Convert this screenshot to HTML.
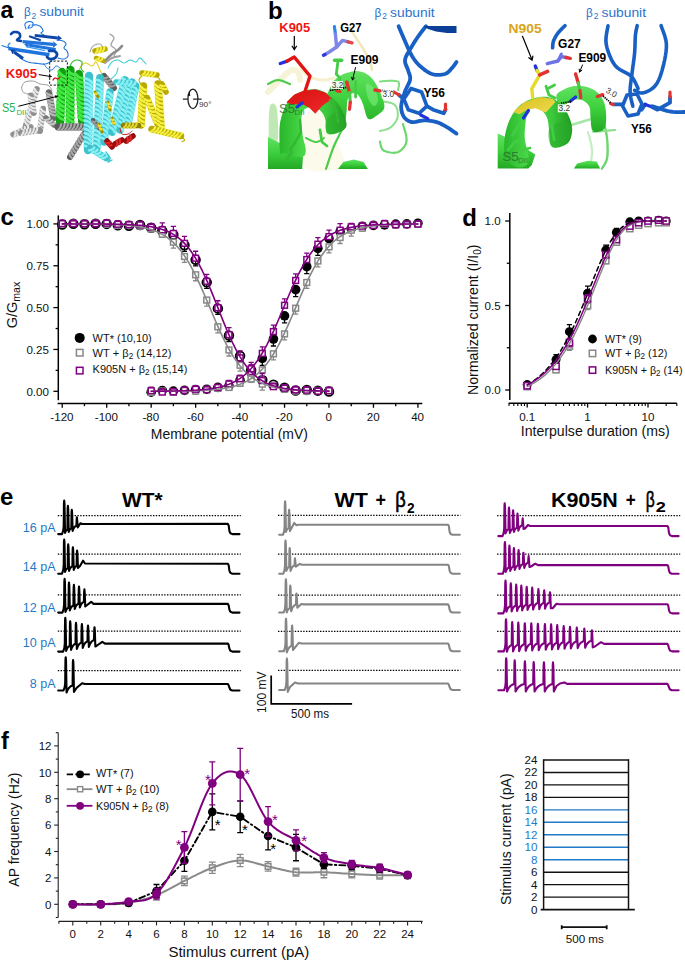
<!DOCTYPE html>
<html><head><meta charset="utf-8"><title>Figure</title><style>
html,body{margin:0;padding:0;background:#fff;}
body{width:685px;height:960px;overflow:hidden;}
svg{display:block;font-family:"Liberation Sans", sans-serif;}
</style></head><body>
<svg width="685" height="960" viewBox="0 0 685 960">
<rect width="685" height="960" fill="#fff"/>
<path d="M26 29 L25.83 28.43 L25.56 27.61 L25.25 26.66 L25 25.67 L24.89 24.75 L25 24 L25.38 23.39 L25.96 22.83 L26.69 22.34 L27.48 21.94 L28.28 21.66 L29 21.5 L29.72 21.49 L30.52 21.61 L31.31 21.84 L32.04 22.17 L32.62 22.56 L33 23 L33.16 23.56 L33.15 24.26 L33 25.03 L32.74 25.8 L32.4 26.48 L32 27 L31.44 27.39 L30.67 27.7 L29.81 27.94 L29 28.07 L28.35 28.1 L28 28 L28.01 27.7 L28.3 27.19 L28.75 26.56 L29.26 25.93 L29.71 25.37 L30 25" fill="none" stroke="#1f74de" stroke-width="1.1" stroke-linecap="round" stroke-linejoin="round" />
<path d="M32 25 L32.56 24.98 L33.33 24.93 L34.25 24.88 L35.22 24.85 L36.17 24.88 L37 25 L37.75 25.19 L38.48 25.44 L39.19 25.75 L39.85 26.11 L40.46 26.53 L41 27 L41.5 27.57 L41.96 28.26 L42.38 29 L42.7 29.74 L42.92 30.43 L43 31 L42.84 31.45 L42.44 31.81 L41.94 32.12 L41.44 32.41 L41.09 32.69 L41 33 L41.25 33.36 L41.74 33.74 L42.38 34.12 L43.04 34.48 L43.62 34.78 L44 35" fill="none" stroke="#1f74de" stroke-width="1.1" stroke-linecap="round" stroke-linejoin="round" />
<path d="M2 45.5 L2.45 45.67 L3.07 45.91 L3.81 46.19 L4.59 46.48 L5.34 46.76 L6 47 L6.59 47.21 L7.19 47.41 L7.75 47.59 L8.26 47.76 L8.69 47.9 L9 48" fill="none" stroke="#1f74de" stroke-width="1.1" stroke-linecap="round" stroke-linejoin="round" />
<path d="M20 58 L20.85 58.46 L22 59.13 L23.38 59.91 L24.89 60.7 L26.46 61.43 L28 62 L29.59 62.41 L31.3 62.72 L33.06 62.97 L34.81 63.17 L36.48 63.34 L38 63.5 L39.34 63.68 L40.56 63.87 L41.69 64.03 L42.78 64.13 L43.87 64.13 L45 64 L46.25 63.67 L47.59 63.15 L48.94 62.53 L50.19 61.91 L51.24 61.37 L52 61" fill="none" stroke="#1f74de" stroke-width="1.1" stroke-linecap="round" stroke-linejoin="round" />
<path d="M57 40 L57.69 40.09 L58.67 40.19 L59.81 40.31 L61 40.48 L62.1 40.71 L63 41 L63.73 41.37 L64.41 41.81 L65 42.31 L65.48 42.85 L65.82 43.42 L66 44 L65.9 44.62 L65.52 45.3 L65 46 L64.48 46.7 L64.1 47.38 L64 48 L64.23 48.53 L64.7 49 L65.31 49.44 L65.96 49.89 L66.56 50.4 L67 51 L67.34 51.74 L67.67 52.59 L67.94 53.5 L68.11 54.41 L68.15 55.26 L68 56 L67.65 56.66 L67.11 57.3 L66.44 57.88 L65.67 58.37 L64.84 58.75 L64 59 L63.05 59.05 L61.93 58.93 L60.75 58.69 L59.63 58.41 L58.68 58.16 L58 58" fill="none" stroke="#1f74de" stroke-width="1.1" stroke-linecap="round" stroke-linejoin="round" />
<path d="M10 43 L9.71 43.31 L9.26 43.74 L8.75 44.25 L8.3 44.81 L8.01 45.41 L8 46 L8.37 46.66 L9.04 47.41 L9.88 48.19 L10.74 48.93 L11.5 49.55 L12 50" fill="none" stroke="#1f74de" stroke-width="1.1" stroke-linecap="round" stroke-linejoin="round" />
<path d="M44 64 L44.3 64.46 L44.7 65.11 L45.19 65.88 L45.74 66.67 L46.35 67.4 L47 68 L47.73 68.52 L48.56 69.04 L49.44 69.5 L50.33 69.85 L51.2 70.04 L52 70 L52.72 69.61 L53.41 68.89 L54.06 68 L54.7 67.11 L55.34 66.39 L56 66 L56.71 66.01 L57.48 66.3 L58.25 66.75 L58.96 67.26 L59.56 67.71 L60 68" fill="none" stroke="#1f74de" stroke-width="1" stroke-linecap="round" stroke-linejoin="round" />
<line x1="34.7" y1="35.3" x2="57.83" y2="38.01" stroke="#0d47a8" stroke-width="2.8" stroke-linecap="butt"/><path d="M57.52 40.65L62 38.5L58.14 35.37Z" fill="#0d47a8"/>
<line x1="22.6" y1="41.6" x2="53.12" y2="44.41" stroke="#1f74de" stroke-width="3.4" stroke-linecap="butt"/><path d="M52.82 47.63L57.3 44.8L53.41 41.2Z" fill="#1f74de"/>
<line x1="55.7" y1="49.5" x2="28.34" y2="44.98" stroke="#1f74de" stroke-width="3.2" stroke-linecap="butt"/><path d="M28.84 41.98L24.2 44.3L27.85 47.98Z" fill="#1f74de"/>
<line x1="8.4" y1="48.5" x2="49.4" y2="54.8" stroke="#1f74de" stroke-width="3.6" stroke-linecap="butt"/>
<line x1="23.1" y1="58.5" x2="13.92" y2="51.94" stroke="#0d47a8" stroke-width="3" stroke-linecap="butt"/><path d="M15.57 49.62L10.5 49.5L12.26 54.26Z" fill="#0d47a8"/>
<line x1="26" y1="46.6" x2="45" y2="50.6" stroke="#3aa0f0" stroke-width="1.3"/>
<line x1="30" y1="36.5" x2="40" y2="40" stroke="#0d47a8" stroke-width="2.2" stroke-linecap="round"/>
<path d="M11 34 L11.3 33.75 L11.7 33.37 L12.19 32.94 L12.74 32.52 L13.35 32.18 L14 32 L14.76 31.96 L15.67 32 L16.62 32.12 L17.56 32.33 L18.38 32.62 L19 33 L19.44 33.5 L19.78 34.15 L20 34.88 L20.11 35.63 L20.11 36.36 L20 37 L19.65 37.58 L19.04 38.15 L18.31 38.69 L17.63 39.19 L17.14 39.63 L17 40 L17.31 40.29 L17.96 40.52 L18.81 40.69 L19.7 40.81 L20.48 40.91 L21 41" fill="none" stroke="#0d47a8" stroke-width="2.6" stroke-linecap="round" stroke-linejoin="round" />
<path d="M49 51 L49.57 50.97 L50.37 50.89 L51.31 50.81 L52.3 50.78 L53.22 50.83 L54 51 L54.67 51.31 L55.33 51.74 L55.94 52.25 L56.44 52.81 L56.81 53.41 L57 54 L56.99 54.64 L56.81 55.37 L56.5 56.12 L56.07 56.85 L55.56 57.5 L55 58 L54.32 58.38 L53.48 58.67 L52.56 58.88 L51.63 59 L50.75 59.04 L50 59 L49.35 58.82 L48.74 58.48 L48.19 58.06 L47.7 57.63 L47.3 57.25 L47 57" fill="none" stroke="#0d47a8" stroke-width="2.8" stroke-linecap="round" stroke-linejoin="round" />
<path d="M21.5 87.4 L21.82 86.76 L22.21 85.83 L22.71 84.75 L23.32 83.66 L24.08 82.7 L25 82 L26.18 81.56 L27.6 81.26 L29.18 81.09 L30.79 81.03 L32.33 81.07 L33.7 81.2 L34.87 81.48 L35.91 81.92 L36.89 82.47 L37.86 83.04 L38.88 83.58 L40 84 L41.28 84.26 L42.69 84.42 L44.14 84.53 L45.57 84.67 L46.88 84.9 L48 85.3 L48.94 85.94 L49.78 86.79 L50.5 87.73 L51.11 88.66 L51.61 89.45 L52 90" fill="none" stroke="#9a9a9a" stroke-width="1" stroke-linecap="round" stroke-linejoin="round" />
<path d="M21.5 87.4 L21.62 87.93 L21.76 88.69 L21.94 89.58 L22.19 90.49 L22.53 91.33 L23 92 L23.69 92.51 L24.59 92.93 L25.59 93.29 L26.57 93.58 L27.42 93.81 L28 94" fill="none" stroke="#9a9a9a" stroke-width="1" stroke-linecap="round" stroke-linejoin="round" />
<line x1="36.8" y1="89" x2="25.5" y2="127" stroke="#909090" stroke-width="5.98" stroke-linecap="round"/><path d="M34.34 88.47Q35.88 92.1 38.29 92.79M33.37 91.73Q34.91 95.35 37.32 96.05M32.4 94.99Q33.94 98.61 36.36 99.31M31.43 98.25Q32.97 101.87 35.39 102.57M30.46 101.5Q32 105.13 34.42 105.83M29.49 104.76Q31.03 108.39 33.45 109.09M28.52 108.02Q30.06 111.65 32.48 112.34M27.55 111.28Q29.1 114.91 31.51 115.6M26.58 114.54Q28.13 118.17 30.54 118.86M25.62 117.8Q27.16 121.43 29.57 122.12M24.65 121.06Q26.19 124.69 28.6 125.38" stroke="#e8e8e8" stroke-width="2.11" stroke-linecap="round" fill="none"/>
<line x1="30.7" y1="95.5" x2="33.7" y2="113" stroke="#909090" stroke-width="5.98" stroke-linecap="round"/><path d="M28.26 96.11Q31.25 98.68 33.72 98.24M28.83 99.47Q31.82 102.03 34.29 101.59M29.41 102.82Q32.39 105.39 34.87 104.94M29.98 106.17Q32.97 108.74 35.44 108.29M30.55 109.52Q33.54 112.09 36.02 111.64" stroke="#e8e8e8" stroke-width="2.11" stroke-linecap="round" fill="none"/>
<line x1="43" y1="108.8" x2="40" y2="131" stroke="#909090" stroke-width="5.98" stroke-linecap="round"/><path d="M40.48 108.65Q42.57 112 45.06 112.31M40.03 112.02Q42.11 115.37 44.6 115.68M39.57 115.39Q41.66 118.74 44.15 119.05M39.12 118.76Q41.2 122.11 43.69 122.42M38.66 122.13Q40.75 125.48 43.24 125.79M38.21 125.5Q40.29 128.85 42.78 129.16" stroke="#e8e8e8" stroke-width="2.11" stroke-linecap="round" fill="none"/>
<line x1="13.3" y1="134.4" x2="30.7" y2="127.2" stroke="#909090" stroke-width="5.98" stroke-linecap="round"/><path d="M14.44 136.65Q16.28 133.17 15.3 130.85M17.58 135.35Q19.43 131.87 18.44 129.55M20.72 134.05Q22.57 130.57 21.59 128.25M23.86 132.75Q25.71 129.27 24.73 126.95M27.01 131.45Q28.85 127.97 27.87 125.65" stroke="#e8e8e8" stroke-width="2.11" stroke-linecap="round" fill="none"/>
<line x1="21" y1="133" x2="40" y2="130" stroke="#909090" stroke-width="5.98" stroke-linecap="round"/><path d="M21.58 135.45Q24.19 132.5 23.78 130.02M24.94 134.92Q27.55 131.97 27.13 129.49M28.3 134.39Q30.91 131.44 30.49 128.96M31.66 133.86Q34.27 130.91 33.85 128.43M35.02 133.33Q37.62 130.38 37.21 127.9" stroke="#e8e8e8" stroke-width="2.11" stroke-linecap="round" fill="none"/>
<line x1="49" y1="92.5" x2="53.5" y2="118" stroke="#6a6a6a" stroke-width="6.44" stroke-linecap="round"/><path d="M46.29 93.02Q49.56 95.68 52.3 95.33M46.88 96.37Q50.15 99.03 52.89 98.67M47.47 99.72Q50.74 102.38 53.49 102.02M48.06 103.07Q51.33 105.73 54.08 105.37M48.65 106.42Q51.92 109.07 54.67 108.72M49.24 109.76Q52.52 112.42 55.26 112.07M49.83 113.11Q53.11 115.77 55.85 115.42" stroke="#b8b8b8" stroke-width="2.11" stroke-linecap="round" fill="none"/>
<line x1="46" y1="118" x2="54" y2="125" stroke="#7a7a7a" stroke-width="5.52" stroke-linecap="round"/><path d="M44.77 119.93Q48.43 120.13 49.79 118.31M47.33 122.17Q50.99 122.37 52.35 120.55M49.89 124.41Q53.55 124.6 54.91 122.79" stroke="#c8c8c8" stroke-width="2.11" stroke-linecap="round" fill="none"/>
<path d="M110 34 L110.52 34.4 L111.3 34.93 L112.19 35.56 L113.04 36.3 L113.69 37.11 L114 38 L113.81 39.02 L113.22 40.19 L112.44 41.44 L111.67 42.7 L111.12 43.91 L111 45 L111.45 45.94 L112.33 46.78 L113.44 47.56 L114.56 48.33 L115.48 49.13 L116 50 L116.05 51.01 L115.78 52.15 L115.31 53.31 L114.78 54.41 L114.3 55.34 L114 56" fill="none" stroke="#9c9c9c" stroke-width="1.2" stroke-linecap="round" stroke-linejoin="round" />
<path d="M90 52 L90.28 51.3 L90.63 50.3 L91.06 49.12 L91.59 47.93 L92.23 46.84 L93 46 L93.98 45.37 L95.19 44.81 L96.5 44.38 L97.81 44.07 L99.02 43.94 L100 44 L100.77 44.37 L101.41 45.04 L101.94 45.88 L102.37 46.74 L102.72 47.5 L103 48" fill="none" stroke="#a8a8a8" stroke-width="1.1" stroke-linecap="round" stroke-linejoin="round" />
<line x1="95" y1="51" x2="105" y2="49" stroke="#b8a800" stroke-width="5.52" stroke-linecap="round"/><path d="M95.78 53.15Q98.17 50.37 97.55 48.18M99.11 52.48Q101.5 49.7 100.89 47.52M102.45 51.82Q104.84 49.03 104.22 46.85" stroke="#f6f040" stroke-width="2.11" stroke-linecap="round" fill="none"/>
<line x1="96" y1="58" x2="104" y2="61" stroke="#b8a800" stroke-width="4.6" stroke-linecap="round"/><path d="M95.98 59.88Q99.02 59.13 99.2 57.32M99.17 61.07Q102.21 60.33 102.38 58.51" stroke="#f6f040" stroke-width="2.11" stroke-linecap="round" fill="none"/>
<path d="M106 60 L106.65 59.32 L107.56 58.37 L108.62 57.25 L109.78 56.07 L110.93 54.95 L112 54 L113.02 53.22 L114.07 52.52 L115.12 51.88 L116.15 51.26 L117.12 50.64 L118 50 L118.83 49.29 L119.63 48.52 L120.38 47.75 L121.04 47.04 L121.59 46.44 L122 46" fill="none" stroke="#8c8c8c" stroke-width="2.6" stroke-linecap="round" stroke-linejoin="round" />
<path d="M105 63 L105.75 62.42 L106.78 61.59 L108 60.62 L109.33 59.63 L110.69 58.72 L112 58 L113.37 57.47 L114.89 57.04 L116.44 56.69 L117.89 56.41 L119.12 56.18 L120 56" fill="none" stroke="#a0a0a0" stroke-width="2" stroke-linecap="round" stroke-linejoin="round" />
<path d="M77 80 L77.17 78.88 L77.37 77.3 L77.62 75.44 L77.96 73.48 L78.41 71.61 L79 70 L79.76 68.54 L80.67 67.07 L81.69 65.69 L82.78 64.48 L83.9 63.55 L85 63 L86.14 63 L87.37 63.52 L88.62 64.31 L89.85 65.15 L91 65.79 L92 66 L92.84 65.6 L93.56 64.74 L94.19 63.69 L94.78 62.7 L95.37 62.05 L96 62 L96.67 62.64 L97.33 63.78 L98 65.25 L98.67 66.89 L99.33 68.53 L100 70 L100.71 71.43 L101.48 72.96 L102.25 74.5 L102.96 75.93 L103.56 77.13 L104 78" fill="none" stroke="#e0d030" stroke-width="1.1" stroke-linecap="round" stroke-linejoin="round" />
<path d="M108 68 L108.41 67.3 L108.96 66.3 L109.62 65.12 L110.37 63.93 L111.17 62.84 L112 62 L112.88 61.38 L113.85 60.85 L114.88 60.44 L115.93 60.15 L116.98 60 L118 60 L119 60.28 L120 60.85 L121 61.56 L122 62.26 L123 62.79 L124 63 L125 62.79 L126 62.26 L127 61.56 L128 60.85 L129 60.28 L130 60 L131.02 60.11 L132.07 60.52 L133.12 61.06 L134.15 61.59 L135.12 61.96 L136 62 L136.76 61.56 L137.41 60.74 L138 59.75 L138.59 58.81 L139.24 58.16 L140 58 L140.95 58.49 L142.07 59.48 L143.25 60.75 L144.37 62.07 L145.32 63.23 L146 64" fill="none" stroke="#48d0d8" stroke-width="1.1" stroke-linecap="round" stroke-linejoin="round" />
<path d="M118 68 L117.83 68.65 L117.63 69.56 L117.38 70.62 L117.04 71.78 L116.59 72.93 L116 74 L115.16 75.07 L114.07 76.22 L112.88 77.38 L111.7 78.44 L110.7 79.35 L110 80" fill="none" stroke="#48d0d8" stroke-width="1.1" stroke-linecap="round" stroke-linejoin="round" />
<path d="M70 72 L70.06 71.08 L70.11 69.78 L70.19 68.25 L70.33 66.67 L70.59 65.19 L71 64 L71.59 63.03 L72.33 62.15 L73.19 61.38 L74.11 60.74 L75.06 60.27 L76 60 L77.02 59.94 L78.19 60.07 L79.38 60.38 L80.48 60.81 L81.39 61.37 L82 62 L82.19 62.79 L82.04 63.78 L81.69 64.88 L81.3 66 L81.02 67.07 L81 68 L81.3 68.83 L81.81 69.63 L82.44 70.38 L83.07 71.04 L83.63 71.59 L84 72" fill="none" stroke="#30c030" stroke-width="1.1" stroke-linecap="round" stroke-linejoin="round" />
<line x1="62" y1="72" x2="60" y2="122" stroke="#12a012" stroke-width="8.28" stroke-linecap="round"/><path d="M58.45 71.51Q61.84 76.08 65.38 76.79M58.28 75.81Q61.66 80.38 65.21 81.08M58.11 80.1Q61.49 84.67 65.03 85.38M57.93 84.4Q61.32 88.97 64.86 89.68M57.76 88.7Q61.15 93.27 64.69 93.97M57.59 92.99Q60.98 97.56 64.52 98.27M57.42 97.29Q60.81 101.86 64.35 102.57M57.25 101.59Q60.63 106.16 64.18 106.86M57.07 105.88Q60.46 110.45 64 111.16M56.9 110.18Q60.29 114.75 63.83 115.45M56.73 114.48Q60.12 119.05 63.66 119.75" stroke="#44ea44" stroke-width="2.67" stroke-linecap="round" fill="none"/>
<line x1="70.5" y1="70" x2="70" y2="125" stroke="#12a012" stroke-width="8.28" stroke-linecap="round"/><path d="M66.94 69.62Q70.46 74.08 74.02 74.68M66.9 73.92Q70.42 78.38 73.99 78.98M66.86 78.22Q70.38 82.68 73.95 83.28M66.82 82.52Q70.35 86.98 73.91 87.58M66.78 86.82Q70.31 91.28 73.87 91.88M66.74 91.12Q70.27 95.58 73.83 96.18M66.7 95.42Q70.23 99.88 73.79 100.48M66.66 99.72Q70.19 104.18 73.75 104.78M66.62 104.02Q70.15 108.48 73.71 109.08M66.58 108.32Q70.11 112.78 73.67 113.38M66.55 112.62Q70.07 117.08 73.63 117.68M66.51 116.92Q70.03 121.38 73.59 121.98M66.47 121.22Q69.99 125.68 73.56 126.28" stroke="#44ea44" stroke-width="2.67" stroke-linecap="round" fill="none"/>
<line x1="79" y1="74" x2="82" y2="122" stroke="#12a012" stroke-width="7.82" stroke-linecap="round"/><path d="M75.68 74.04Q79.25 78.08 82.59 78.26M75.95 78.33Q79.52 82.37 82.86 82.55M76.22 82.62Q79.79 86.66 83.13 86.84M76.48 86.91Q80.06 90.95 83.39 91.13M76.75 91.2Q80.33 95.24 83.66 95.42M77.02 95.49Q80.6 99.54 83.93 99.71M77.29 99.79Q80.86 103.83 84.2 104.01M77.56 104.08Q81.13 108.12 84.47 108.3M77.82 108.37Q81.4 112.41 84.74 112.59M78.09 112.66Q81.67 116.7 85 116.88M78.36 116.95Q81.94 120.99 85.27 121.17" stroke="#44ea44" stroke-width="2.67" stroke-linecap="round" fill="none"/>
<line x1="58" y1="127" x2="85" y2="127" stroke="#5a5a5a" stroke-width="6.9" stroke-linecap="round"/><path d="M58.19 130.01Q61.23 127 61.21 123.99M61.59 130.01Q64.63 127 64.61 123.99M64.99 130.01Q68.03 127 68.01 123.99M68.39 130.01Q71.43 127 71.41 123.99M71.79 130.01Q74.83 127 74.81 123.99M75.19 130.01Q78.23 127 78.21 123.99M78.59 130.01Q81.63 127 81.61 123.99M81.99 130.01Q85.03 127 85.01 123.99" stroke="#a8a8a8" stroke-width="2.11" stroke-linecap="round" fill="none"/>
<line x1="84" y1="134" x2="70" y2="157" stroke="#5a5a5a" stroke-width="5.98" stroke-linecap="round"/><path d="M81.62 133.07Q82.32 136.76 84.61 137.83M79.86 135.98Q80.55 139.66 82.84 140.74M78.09 138.88Q78.78 142.57 81.07 143.64M76.32 141.79Q77.02 145.47 79.31 146.54M74.55 144.69Q75.25 148.38 77.54 149.45M72.78 147.59Q73.48 151.28 75.77 152.35M71.02 150.5Q71.71 154.18 74 155.26M69.25 153.4Q69.95 157.09 72.23 158.16" stroke="#a8a8a8" stroke-width="2.11" stroke-linecap="round" fill="none"/>
<line x1="104" y1="76" x2="114" y2="88" stroke="#5c5c5c" stroke-width="5.98" stroke-linecap="round"/><path d="M102.31 77.83Q106.19 78.63 108 76.94M104.61 80.59Q108.49 81.39 110.3 79.71M106.92 83.36Q110.8 84.16 112.61 82.47M109.22 86.12Q113.1 86.92 114.91 85.24" stroke="#a0a0a0" stroke-width="2.23" stroke-linecap="round" fill="none"/>
<line x1="88" y1="150" x2="89" y2="76" stroke="#3cc2cc" stroke-width="8.28" stroke-linecap="round"/><path d="M91.59 150.1Q88.05 146.01 84.47 145.7M91.64 145.9Q88.11 141.81 84.53 141.5M91.7 141.7Q88.17 137.61 84.58 137.3M91.76 137.5Q88.22 133.41 84.64 133.1M91.81 133.3Q88.28 129.21 84.7 128.9M91.87 129.1Q88.34 125.01 84.75 124.7M91.93 124.9Q88.39 120.81 84.81 120.5M91.98 120.7Q88.45 116.61 84.87 116.3M92.04 116.5Q88.51 112.41 84.92 112.1M92.1 112.31Q88.56 108.21 84.98 107.9M92.16 108.11Q88.62 104.01 85.04 103.7M92.21 103.91Q88.68 99.81 85.09 99.5M92.27 99.71Q88.73 95.61 85.15 95.3M92.33 95.51Q88.79 91.42 85.21 91.1M92.38 91.31Q88.85 87.22 85.26 86.9M92.44 87.11Q88.91 83.02 85.32 82.7M92.5 82.91Q88.96 78.82 85.38 78.5" stroke="#86f0f4" stroke-width="2.6" stroke-linecap="round" fill="none"/>
<line x1="97" y1="147" x2="100" y2="78" stroke="#3cc2cc" stroke-width="7.82" stroke-linecap="round"/><path d="M100.34 147.05Q97.17 143.01 93.84 142.76M100.52 142.85Q97.36 138.82 94.03 138.56M100.7 138.66Q97.54 134.62 94.21 134.36M100.89 134.46Q97.72 130.43 94.39 130.17M101.07 130.26Q97.9 126.23 94.57 125.97M101.25 126.07Q98.09 122.03 94.75 121.78M101.43 121.87Q98.27 117.84 94.94 117.58M101.62 117.68Q98.45 113.64 95.12 113.38M101.8 113.48Q98.63 109.45 95.3 109.19M101.98 109.28Q98.82 105.25 95.48 104.99M102.16 105.09Q99 101.05 95.67 100.8M102.35 100.89Q99.18 96.86 95.85 96.6M102.53 96.7Q99.36 92.66 96.03 92.4M102.71 92.5Q99.54 88.47 96.21 88.21M102.89 88.3Q99.73 84.27 96.4 84.01M103.08 84.11Q99.91 80.07 96.58 79.82" stroke="#86f0f4" stroke-width="2.6" stroke-linecap="round" fill="none"/>
<line x1="93" y1="120" x2="99" y2="128" stroke="#5a5a5a" stroke-width="4.14" stroke-linecap="round"/><path d="M92.27 121.54Q94.94 122.58 95.77 121.18M94.31 124.26Q96.98 125.3 97.81 123.9M96.35 126.98Q99.02 128.02 99.85 126.62" stroke="#9c9c9c" stroke-width="2.11" stroke-linecap="round" fill="none"/>
<line x1="104" y1="142" x2="110" y2="92" stroke="#3cc2cc" stroke-width="7.36" stroke-linecap="round"/><path d="M107.1 142.12Q104.48 138.04 101.4 137.71M107.6 137.95Q104.98 133.87 101.9 133.54M108.1 133.78Q105.48 129.7 102.41 129.37M108.6 129.61Q105.98 125.53 102.91 125.2M109.1 125.44Q106.48 121.36 103.41 121.03M109.6 121.27Q106.98 117.19 103.91 116.86M110.1 117.1Q107.48 113.02 104.41 112.69M110.6 112.93Q107.98 108.85 104.91 108.52M111.1 108.76Q108.48 104.68 105.41 104.35M111.6 104.59Q108.98 100.51 105.91 100.18M112.1 100.42Q109.48 96.34 106.41 96.01M112.6 96.25Q109.98 92.17 106.91 91.84" stroke="#86f0f4" stroke-width="2.6" stroke-linecap="round" fill="none"/>
<line x1="112" y1="132" x2="125" y2="80" stroke="#3cc2cc" stroke-width="7.82" stroke-linecap="round"/><path d="M115.26 132.72Q112.97 128.13 109.76 127.21M116.28 128.64Q113.99 124.05 110.77 123.14M117.3 124.57Q115.01 119.98 111.79 119.06M118.32 120.49Q116.02 115.91 112.81 114.99M119.34 116.42Q117.04 111.83 113.83 110.91M120.36 112.34Q118.06 107.76 114.85 106.84M121.37 108.27Q119.08 103.68 115.87 102.76M122.39 104.19Q120.1 99.61 116.89 98.69M123.41 100.12Q121.12 95.53 117.91 94.61M124.43 96.04Q122.14 91.46 118.92 90.54M125.45 91.97Q123.15 87.38 119.94 86.46M126.47 87.9Q124.17 83.31 120.96 82.39M127.49 83.82Q125.19 79.23 121.98 78.31" stroke="#86f0f4" stroke-width="2.6" stroke-linecap="round" fill="none"/>
<line x1="120" y1="130" x2="132" y2="82" stroke="#3cc2cc" stroke-width="7.36" stroke-linecap="round"/><path d="M123.06 130.51Q120.97 126.13 117.96 125.42M124.07 126.44Q121.99 122.05 118.98 121.34M125.09 122.36Q123.01 117.98 120 117.27M126.11 118.29Q124.02 113.91 121.02 113.19M127.13 114.21Q125.04 109.83 122.04 109.12M128.15 110.14Q126.06 105.76 123.06 105.04M129.17 106.06Q127.08 101.68 124.07 100.97M130.19 101.99Q128.1 97.61 125.09 96.89M131.21 97.91Q129.12 93.53 126.11 92.82M132.22 93.84Q130.14 89.46 127.13 88.74M133.24 89.76Q131.15 85.38 128.15 84.67M134.26 85.69Q132.17 81.31 129.17 80.6" stroke="#86f0f4" stroke-width="2.6" stroke-linecap="round" fill="none"/>
<line x1="128" y1="124" x2="136" y2="86" stroke="#3cc2cc" stroke-width="6.9" stroke-linecap="round"/><path d="M130.86 124.2Q128.82 120.1 126.01 119.69M131.72 120.09Q129.69 115.99 126.87 115.58M132.59 115.98Q130.55 111.88 127.74 111.47M133.46 111.87Q131.42 107.77 128.6 107.36M134.32 107.76Q132.28 103.66 129.47 103.25M135.19 103.65Q133.15 99.55 130.33 99.14M136.05 99.54Q134.01 95.44 131.2 95.03M136.92 95.43Q134.88 91.33 132.06 90.92M137.78 91.32Q135.74 87.22 132.93 86.81" stroke="#86f0f4" stroke-width="2.6" stroke-linecap="round" fill="none"/>
<line x1="116" y1="82" x2="135" y2="84" stroke="#3cc2cc" stroke-width="5.52" stroke-linecap="round"/><path d="M116.49 84.2Q119.78 82.4 119.48 80.22M120.47 84.61Q123.76 82.82 123.46 80.64M124.45 85.03Q127.74 83.24 127.44 81.06M128.43 85.45Q131.71 83.65 131.42 81.48M132.41 85.87Q135.69 84.07 135.4 81.9" stroke="#86f0f4" stroke-width="2.48" stroke-linecap="round" fill="none"/>
<line x1="95" y1="92" x2="98" y2="97" stroke="#a09000" stroke-width="2.76" stroke-linecap="round"/><path d="M94.99 93.46Q96.66 94.77 96.76 93.46" stroke="#f0e030" stroke-width="2.11" stroke-linecap="round" fill="none"/>
<line x1="108" y1="102" x2="110" y2="110" stroke="#a09000" stroke-width="2.94" stroke-linecap="round"/><path d="M107.45 103.36Q108.78 105.13 109.37 103.94M108.28 106.65Q109.61 108.43 110.2 107.24" stroke="#f0e030" stroke-width="2.11" stroke-linecap="round" fill="none"/>
<line x1="99" y1="124" x2="102" y2="132" stroke="#a09000" stroke-width="2.94" stroke-linecap="round"/><path d="M98.61 125.41Q100.13 127.02 100.59 125.77M99.8 128.59Q101.33 130.21 101.78 128.96" stroke="#f0e030" stroke-width="2.11" stroke-linecap="round" fill="none"/>
<line x1="112" y1="118" x2="114" y2="124" stroke="#a09000" stroke-width="2.76" stroke-linecap="round"/><path d="M111.67 119.42Q113.02 121.06 113.41 119.81M112.75 122.65Q114.1 124.29 114.48 123.03" stroke="#f0e030" stroke-width="2.11" stroke-linecap="round" fill="none"/>
<line x1="90" y1="148" x2="106" y2="158" stroke="#3cc2cc" stroke-width="6.44" stroke-linecap="round"/><path d="M88.83 150.42Q93.06 149.91 94.39 147.59M92.05 152.44Q96.28 151.93 97.61 149.6M95.28 154.45Q99.51 153.94 100.84 151.62M98.5 156.47Q102.73 155.96 104.06 153.63M101.72 158.48Q105.95 157.97 107.28 155.65" stroke="#86f0f4" stroke-width="2.36" stroke-linecap="round" fill="none"/>
<path d="M106 152 L106.5 152.68 L107.26 153.63 L108.12 154.75 L108.96 155.93 L109.63 157.05 L110 158 L109.94 158.85 L109.56 159.7 L109 160.5 L108.44 161.19 L108.06 161.7 L108 162 L108.37 161.99 L109.04 161.7 L109.88 161.25 L110.74 160.74 L111.5 160.29 L112 160" fill="none" stroke="#40c8d0" stroke-width="1.4" stroke-linecap="round" stroke-linejoin="round" />
<line x1="107" y1="141" x2="112" y2="147" stroke="#960c0c" stroke-width="5.52" stroke-linecap="round"/><path d="M105.48 142.71Q109.07 143.48 110.7 141.9M107.66 145.32Q111.24 146.09 112.87 144.51" stroke="#e02828" stroke-width="2.11" stroke-linecap="round" fill="none"/>
<line x1="115" y1="144" x2="122" y2="140" stroke="#960c0c" stroke-width="5.52" stroke-linecap="round"/><path d="M116.42 145.79Q117.8 142.4 116.53 140.52M119.37 144.11Q120.76 140.71 119.48 138.83" stroke="#e02828" stroke-width="2.11" stroke-linecap="round" fill="none"/>
<line x1="126" y1="141" x2="133" y2="136" stroke="#960c0c" stroke-width="5.52" stroke-linecap="round"/><path d="M127.59 142.64Q128.63 139.12 127.17 137.38M130.36 140.67Q131.4 137.15 129.94 135.41" stroke="#e02828" stroke-width="2.11" stroke-linecap="round" fill="none"/>
<path d="M120 128 L120.17 128.72 L120.37 129.78 L120.62 131 L120.96 132.22 L121.41 133.28 L122 134 L122.79 134.38 L123.78 134.56 L124.88 134.56 L126 134.44 L127.07 134.24 L128 134 L128.83 133.64 L129.63 133.11 L130.38 132.5 L131.04 131.89 L131.59 131.36 L132 131" fill="none" stroke="#c82020" stroke-width="1" stroke-linecap="round" stroke-linejoin="round" />
<line x1="142" y1="73" x2="157" y2="75" stroke="#b8a800" stroke-width="5.52" stroke-linecap="round"/><path d="M142.04 75.29Q145.2 73.43 145.33 71.16M145.41 75.74Q148.57 73.88 148.7 71.61M148.78 76.19Q151.94 74.33 152.07 72.06M152.15 76.64Q155.31 74.77 155.44 72.51" stroke="#f6f040" stroke-width="2.11" stroke-linecap="round" fill="none"/>
<path d="M142 76 L141.6 76.41 L141 76.96 L140.31 77.62 L139.67 78.37 L139.19 79.17 L139 80 L139.19 80.95 L139.67 82.07 L140.31 83.25 L141 84.37 L141.6 85.32 L142 86" fill="none" stroke="#b8a800" stroke-width="1.1" stroke-linecap="round" stroke-linejoin="round" />
<path d="M157 76 L157.36 76.45 L157.89 77.07 L158.5 77.81 L159.11 78.59 L159.64 79.34 L160 80 L160.17 80.59 L160.22 81.19 L160.19 81.75 L160.11 82.26 L160.03 82.69 L160 83" fill="none" stroke="#b8a800" stroke-width="1.1" stroke-linecap="round" stroke-linejoin="round" />
<line x1="143.4" y1="86" x2="141" y2="125" stroke="#b8a800" stroke-width="7.36" stroke-linecap="round"/><path d="M140.27 85.93Q143.17 89.79 146.29 90.06M140.02 89.92Q142.92 93.79 146.04 94.06M139.78 93.91Q142.68 97.78 145.8 98.05M139.53 97.91Q142.43 101.77 145.55 102.04M139.28 101.9Q142.18 105.76 145.31 106.03M139.04 105.89Q141.94 109.76 145.06 110.03M138.79 109.88Q141.69 113.75 144.81 114.02M138.55 113.88Q141.45 117.74 144.57 118.01M138.3 117.87Q141.2 121.73 144.32 122M138.06 121.86Q140.96 125.72 144.08 126" stroke="#f6f040" stroke-width="2.48" stroke-linecap="round" fill="none"/>
<line x1="147" y1="98" x2="158" y2="125" stroke="#b8a800" stroke-width="6.44" stroke-linecap="round"/><path d="M144.72 99.38Q148.43 101.52 150.79 100.32M146.23 103.09Q149.94 105.22 152.3 104.03M147.74 106.79Q151.45 108.93 153.81 107.73M149.25 110.5Q152.96 112.63 155.32 111.43M150.76 114.2Q154.47 116.34 156.82 115.14M152.27 117.9Q155.98 120.04 158.33 118.84M153.78 121.61Q157.49 123.75 159.84 122.55" stroke="#f6f040" stroke-width="2.48" stroke-linecap="round" fill="none"/>
<line x1="158" y1="84" x2="161" y2="127" stroke="#b8a800" stroke-width="7.36" stroke-linecap="round"/><path d="M154.88 84.34Q158.26 87.79 161.39 87.65M155.16 88.33Q158.54 91.78 161.67 91.64M155.44 92.32Q158.82 95.77 161.95 95.63M155.72 96.31Q159.1 99.76 162.23 99.62M156 100.3Q159.38 103.75 162.51 103.61M156.28 104.29Q159.66 107.74 162.79 107.6M156.55 108.28Q159.93 111.73 163.06 111.59M156.83 112.27Q160.21 115.72 163.34 115.58M157.11 116.26Q160.49 119.71 163.62 119.57M157.39 120.25Q160.77 123.7 163.9 123.56M157.67 124.24Q161.05 127.69 164.18 127.55" stroke="#f6f040" stroke-width="2.48" stroke-linecap="round" fill="none"/>
<line x1="162" y1="84" x2="166" y2="92" stroke="#b8a800" stroke-width="5.52" stroke-linecap="round"/><path d="M160.13 85.32Q163.44 86.89 165.39 85.72M161.65 88.36Q164.97 89.93 166.91 88.76" stroke="#f6f040" stroke-width="2.11" stroke-linecap="round" fill="none"/>
<line x1="151.5" y1="129" x2="181" y2="136" stroke="#b8a800" stroke-width="6.44" stroke-linecap="round"/><path d="M150.9 131.7Q154.64 129.75 155.4 127.09M154.21 132.48Q157.95 130.53 158.71 127.87M157.52 133.27Q161.26 131.32 162.02 128.66M160.83 134.05Q164.57 132.1 165.33 129.44M164.14 134.84Q167.88 132.89 168.64 130.23M167.44 135.62Q171.18 133.67 171.95 131.01M170.75 136.41Q174.49 134.46 175.25 131.8M174.06 137.19Q177.8 135.24 178.56 132.58M177.37 137.98Q181.11 136.03 181.87 133.37" stroke="#f6f040" stroke-width="2.11" stroke-linecap="round" fill="none"/>
<path d="M181 136 L181.45 136.46 L182.13 137.13 L182.91 137.91 L183.65 138.7 L184.22 139.43 L184.5 140 L184.4 140.41 L184.02 140.74 L183.47 141 L182.87 141.2 L182.34 141.37 L182 141.5" fill="none" stroke="#b8a800" stroke-width="1.1" stroke-linecap="round" stroke-linejoin="round" />
<line x1="123.5" y1="125.5" x2="138.5" y2="125.5" stroke="#908000" stroke-width="5.52" stroke-linecap="round"/><path d="M123.84 127.76Q126.73 125.5 126.56 123.24M127.24 127.76Q130.13 125.5 129.96 123.24M130.64 127.76Q133.53 125.5 133.36 123.24M134.04 127.76Q136.93 125.5 136.76 123.24" stroke="#e0d830" stroke-width="2.11" stroke-linecap="round" fill="none"/>
<text x="0.6" y="18.2" font-size="23" fill="#000" font-weight="bold" >a</text>
<g transform="translate(23.9 16.4) scale(0.8959 1)" fill="#2d72cc" ><text x="0" y="0" font-size="13.2" xml:space="preserve">&#946;</text></g><g transform="translate(31.6 19) scale(0.9829 1)" fill="#2d72cc" ><text x="0" y="0" font-size="8.6" xml:space="preserve">2</text></g><g transform="translate(39.4 16.4) scale(1.0865 1)" fill="#2d72cc" ><text x="0" y="0" font-size="12.7" xml:space="preserve">subunit</text></g>
<rect x="49.7" y="61.1" width="17.7" height="24" fill="none" stroke="#111" stroke-width="1" stroke-dasharray="2.2 1.6"/>
<path d="M53 80 L53.21 79.75 L53.48 79.37 L53.81 78.94 L54.19 78.52 L54.59 78.18 L55 78 L55.45 78.03 L55.96 78.22 L56.5 78.5 L57.04 78.78 L57.55 78.97 L58 79 L58.41 78.82 L58.81 78.48 L59.19 78.06 L59.52 77.63 L59.79 77.25 L60 77" fill="none" stroke="#d01818" stroke-width="1.3" stroke-linecap="round" stroke-linejoin="round" />
<g transform="translate(5.8 77.5) scale(1.0070 1)" fill="#f01414" ><text x="0" y="0" font-size="13" font-weight="bold" xml:space="preserve">K905</text></g>
<line x1="38.8" y1="74.6" x2="49.54" y2="76.36" stroke="#000" stroke-width="1"/><path d="M52.2 76.8L48.81 77.7L49.28 74.86Z" fill="#000"/>
<text x="2" y="111.9" font-size="12.6" fill="#1db34a" textLength="13.3" lengthAdjust="spacingAndGlyphs">S5</text>
<text x="16.4" y="115" font-size="7.8" fill="#1db34a" textLength="10" lengthAdjust="spacingAndGlyphs">DII</text>
<line x1="18.4" y1="106.3" x2="55.59" y2="96.72" stroke="#000" stroke-width="1"/><path d="M58.4 96L55.49 98.33L54.73 95.37Z" fill="#000"/>
<path d="M182.9 99.2H188.2M193.1 99.2H201.6" stroke="#222" stroke-width="1.3"/>
<ellipse cx="192.9" cy="98.75" rx="5.0" ry="9.75" fill="none" stroke="#222" stroke-width="1.25"/>
<path d="M187.6 95.6L189.6 91.6L190.3 95.9Z" fill="#111"/>
<g transform="translate(199 106.6) scale(1.0876 1)" fill="#333" ><text x="0" y="0" font-size="7.6" xml:space="preserve">90</text><text x="8.45" y="0" font-size="7.6" xml:space="preserve">&#176;</text></g>
<defs>
<linearGradient id="gA" x1="0" y1="0" x2="0" y2="1"><stop offset="0" stop-color="#62e262"/><stop offset="0.5" stop-color="#3ccf3c"/><stop offset="1" stop-color="#24a824"/></linearGradient>
<linearGradient id="gH" x1="0" y1="0" x2="1" y2="0"><stop offset="0" stop-color="#2ab52a"/><stop offset="0.35" stop-color="#48d848"/><stop offset="0.7" stop-color="#3cc93c"/><stop offset="1" stop-color="#1f9a1f"/></linearGradient>
<linearGradient id="gR" x1="0" y1="0" x2="1" y2="1"><stop offset="0" stop-color="#d81010"/><stop offset="1" stop-color="#ee2a2a"/></linearGradient>
<linearGradient id="gY" x1="0" y1="0" x2="1" y2="1"><stop offset="0" stop-color="#d8c020"/><stop offset="1" stop-color="#efdc50"/></linearGradient>
</defs><path d="M268 92 L268.87 91.13 L270.07 89.93 L271.5 88.5 L273.04 86.96 L274.57 85.43 L276 84 L277.33 82.64 L278.67 81.26 L280 79.88 L281.33 78.52 L282.67 77.22 L284 76 L285.36 74.79 L286.74 73.56 L288.12 72.38 L289.48 71.33 L290.78 70.51 L292 70 L293.16 69.8 L294.3 69.85 L295.38 70.12 L296.37 70.59 L297.25 71.23 L298 72 L298.59 73.08 L299.04 74.52 L299.38 76.12 L299.63 77.7 L299.83 79.06 L300 80" fill="none" stroke="#f7f3d6" stroke-width="6" stroke-linecap="round" stroke-linejoin="round" />
<path d="M300 66 L300.8 67.16 L301.85 68.81 L303.12 70.75 L304.59 72.74 L306.23 74.56 L308 76 L310.01 77.08 L312.3 78 L314.75 78.75 L317.26 79.33 L319.71 79.75 L322 80 L324.25 79.99 L326.59 79.7 L328.88 79.25 L330.96 78.74 L332.72 78.29 L334 78" fill="none" stroke="#f4f0cc" stroke-width="3" stroke-linecap="round" stroke-linejoin="round" />
<path d="M350 28 L350.63 29.06 L351.48 30.52 L352.5 32.25 L353.63 34.15 L354.81 36.1 L356 38 L357.24 39.88 L358.59 41.85 L360 43.88 L361.41 45.93 L362.76 47.98 L364 50 L365.16 52.05 L366.3 54.15 L367.38 56.25 L368.37 58.3 L369.25 60.23 L370 62 L370.59 63.66 L371.04 65.26 L371.38 66.75 L371.63 68.07 L371.83 69.18 L372 70" fill="none" stroke="#efe9bc" stroke-width="2.6" stroke-linecap="round" stroke-linejoin="round" />
<path d="M316 110 L318.37 110.25 L320.89 110.96 L323.44 112.12 L325.89 113.7 L328.12 115.67 L330 118 L331.44 120.88 L332.52 124.37 L333.38 128.25 L334.15 132.3 L334.98 136.29 L336 140 L337.36 143.58 L338.96 147.22 L340.62 150.81 L342.15 154.22 L343.34 157.33 L344 160 L344.37 162.24 L344.67 164.15 L344.62 165.75 L344 167.07 L342.54 168.15 L340 169 L335.7 169.86 L329.7 170.74 L322.88 171.38 L316.07 171.48 L310.16 170.78 L306 169 L303.8 165.76 L302.93 161.22 L302.94 155.88 L303.41 150.22 L303.91 144.76 L304 140 L303.61 135.77 L303.07 131.63 L302.56 127.69 L302.26 124.04 L302.34 120.78 L303 118 L304.34 115.67 L306.26 113.7 L308.56 112.12 L311.07 110.96 L313.61 110.25Z" fill="#fcfaea" />
<path d="M276 106 L276.63 107.96 L277.11 110.81 L277.47 114.25 L277.72 117.96 L277.89 121.65 L278 125 L278.08 128.23 L278.13 131.63 L278.09 135 L277.93 138.15 L277.58 140.88 L277 143 L276.04 144.84 L274.7 146.63 L273.19 148 L271.69 148.59 L270.39 148.05 L269.5 146 L268.99 141.62 L268.7 135.04 L268.62 127.31 L268.74 119.52 L269.04 112.72 L269.5 108 L270.26 105.34 L271.35 103.89 L272.62 103.44 L273.93 103.78 L275.1 104.7Z" fill="#bfe8b4" />
<path d="M268 137 L285.5 146 L303 156.6 L302.2 168.9 L268 168.9Z" fill="url(#gA)" />
<path d="M338 168.9 L343.3 161.9 L353.8 159.6 L363.5 161.9 L367.9 168.9Z" fill="url(#gA)" />
<path d="M380 81.4 L382.13 81.3 L385.23 81.08 L388.83 80.86 L392.43 80.76 L395.55 80.9 L397.7 81.4 L398.76 82.44 L399.1 83.95 L398.96 85.7 L398.57 87.45 L398.17 88.96 L398 90" fill="none" stroke="#7edc7e" stroke-width="2" stroke-linecap="round" stroke-linejoin="round" />
<path d="M403 124 L403.52 126 L404.36 128.82 L405.3 132.14 L406.11 135.6 L406.59 138.87 L406.5 141.6 L405.81 143.92 L404.68 146.11 L403.21 148.11 L401.49 149.84 L399.62 151.23 L397.7 152.2 L395.52 152.7 L392.97 152.78 L390.27 152.51 L387.64 151.98 L385.31 151.25 L383.5 150.4 L382.26 149.24 L381.41 147.66 L380.86 145.89 L380.51 144.14 L380.26 142.64 L380 141.6" fill="none" stroke="#6ed66e" stroke-width="2.2" stroke-linecap="round" stroke-linejoin="round" />
<path d="M378 101 L379.91 101.27 L382.67 101.55 L385.88 101.92 L389.14 102.47 L392.05 103.27 L394.2 104.4 L395.64 105.97 L396.7 107.93 L397.41 110.15 L397.79 112.47 L397.88 114.73 L397.7 116.8 L397.17 118.75 L396.25 120.73 L395.03 122.65 L393.62 124.45 L392.11 126.06 L390.6 127.4 L388.91 128.45 L386.93 129.25 L384.86 129.86 L382.88 130.33 L381.19 130.69 L380 131" fill="none" stroke="#8ee08e" stroke-width="2" stroke-linecap="round" stroke-linejoin="round" />
<path d="M268 84 L269.06 83.47 L270.52 82.67 L272.25 81.75 L274.15 80.89 L276.1 80.25 L278 80 L280.02 80.25 L282.3 80.89 L284.62 81.75 L286.81 82.67 L288.67 83.47 L290 84" fill="none" stroke="#4ccc4c" stroke-width="2.2" stroke-linecap="round" stroke-linejoin="round" />
<path d="M344 126 L342.89 128.14 L341.33 131.08 L339.5 134.57 L337.56 138.38 L335.67 142.27 L334 146 L332.46 149.91 L330.89 154.27 L329.38 158.7 L328 162.86 L326.85 166.37 L326 168.9" fill="none" stroke="#4ccc4c" stroke-width="2.2" stroke-linecap="round" stroke-linejoin="round" />
<path d="M306 138 L307.11 138.53 L308.67 139.33 L310.5 140.25 L312.44 141.11 L314.33 141.75 L316 142 L317.54 141.75 L319.11 141.11 L320.62 140.25 L322 139.33 L323.15 138.53 L324 138" fill="none" stroke="#4ccc4c" stroke-width="2" stroke-linecap="round" stroke-linejoin="round" />
<path d="M331 86 L331.64 84.46 L332.21 83.23 L332.79 82.19 L333.46 81.27 L334.27 80.37 L335.3 79.4 L336.56 78.33 L337.98 77.25 L339.56 76.18 L341.26 75.17 L343.08 74.27 L345 73.5 L347.08 72.81 L349.35 72.15 L351.74 71.59 L354.16 71.2 L356.54 71.05 L358.8 71.2 L360.98 71.66 L363.16 72.37 L365.3 73.33 L367.36 74.49 L369.3 75.86 L371.1 77.4 L372.74 79.17 L374.25 81.2 L375.65 83.42 L376.95 85.78 L378.16 88.23 L379.3 90.7 L380.47 93.34 L381.69 96.21 L382.81 99.17 L383.73 102.06 L384.3 104.72 L384.4 107 L383.93 108.89 L382.99 110.5 L381.69 111.89 L380.2 113.11 L378.66 114.19 L377.2 115.2 L375.73 116.28 L374.13 117.43 L372.47 118.44 L370.84 119.14 L369.32 119.32 L368 118.8 L366.91 117.32 L366 114.99 L365.19 112.15 L364.45 109.13 L363.7 106.27 L362.9 103.9 L362.06 101.94 L361.24 100.11 L360.41 98.43 L359.57 96.95 L358.71 95.69 L357.8 94.7 L356.82 93.97 L355.77 93.49 L354.69 93.23 L353.63 93.19 L352.62 93.35 L351.7 93.7 L350.85 94.26 L350.04 95.05 L349.28 96.04 L348.59 97.21 L347.99 98.54 L347.5 100 L347.17 101.67 L346.99 103.58 L346.89 105.64 L346.83 107.79 L346.72 109.93 L346.5 112 L346.25 114.09 L346.02 116.3 L345.75 118.5 L345.37 120.59 L344.81 122.46 L344 124 L342.86 125.5 L341.44 127.11 L339.84 128.5 L338.17 129.33 L336.52 129.28 L335 128 L333.47 125.02 L331.81 120.52 L330.19 115.12 L328.74 109.48 L327.63 104.23 L327 100 L326.97 96.77 L327.43 94.02 L328.23 91.66 L329.2 89.6 L330.18 87.74Z" fill="url(#gA)" />
<path d="M374 88 L374.99 89.61 L375.93 91.63 L376.75 93.88 L377.41 96.15 L377.84 98.25 L378 100 L377.82 101.51 L377.33 102.96 L376.62 104.25 L375.78 105.26 L374.88 105.88 L374 106 L373.07 105.55 L372 104.59 L370.88 103.25 L369.78 101.63 L368.79 99.84 L368 98 L367.32 95.81 L366.67 93.11 L366.12 90.25 L365.78 87.56 L365.71 85.36 L366 84 L366.8 83.53 L368.07 83.7 L369.62 84.38 L371.26 85.41 L372.78 86.66Z" fill="#7eec7e" opacity="0.6"/>
<path d="M279.4 137.3 L279.4 134.68 L279.41 132.06 L279.47 129.45 L279.61 126.84 L279.88 124.22 L280.3 121.6 L280.9 118.89 L281.65 116.08 L282.52 113.27 L283.47 110.55 L284.48 108.03 L285.5 105.8 L286.52 103.9 L287.57 102.25 L288.67 100.79 L289.84 99.47 L291.11 98.23 L292.5 97 L294.03 95.78 L295.67 94.6 L297.42 93.51 L299.24 92.51 L301.11 91.63 L303 90.9 L304.97 90.3 L307.03 89.81 L309.15 89.45 L311.27 89.22 L313.33 89.13 L315.3 89.2 L317.17 89.44 L319 89.85 L320.77 90.41 L322.49 91.08 L324.17 91.85 L325.8 92.7 L327.39 93.63 L328.93 94.68 L330.42 95.82 L331.86 97.04 L333.26 98.34 L334.6 99.7 L335.9 101.12 L337.16 102.61 L338.38 104.17 L339.53 105.8 L340.6 107.51 L341.6 109.3 L342.55 111.26 L343.46 113.4 L344.29 115.61 L345.02 117.79 L345.6 119.83 L346 121.6 L346.27 123.09 L346.45 124.39 L346.48 125.54 L346.31 126.6 L345.87 127.6 L345.1 128.6 L343.88 129.64 L342.21 130.69 L340.29 131.69 L338.26 132.58 L336.31 133.3 L334.6 133.8 L333.05 134.14 L331.51 134.37 L330.05 134.44 L328.72 134.27 L327.58 133.82 L326.7 133 L326.17 131.68 L325.98 129.89 L325.97 127.8 L326.03 125.6 L326.02 123.47 L325.8 121.6 L325.41 119.94 L324.96 118.34 L324.43 116.81 L323.82 115.37 L323.12 114.03 L322.3 112.8 L321.34 111.66 L320.23 110.61 L319.02 109.65 L317.76 108.81 L316.51 108.12 L315.3 107.6 L314.11 107.26 L312.9 107.09 L311.69 107.06 L310.51 107.16 L309.37 107.34 L308.3 107.6 L307.28 107.89 L306.27 108.21 L305.32 108.64 L304.44 109.21 L303.66 109.98 L303 111 L302.47 112.29 L302.04 113.81 L301.71 115.53 L301.48 117.42 L301.34 119.45 L301.3 121.6 L301.38 123.96 L301.58 126.58 L301.88 129.34 L302.23 132.13 L302.62 134.82 L303 137.3 L303.45 139.61 L304.03 141.85 L304.63 143.99 L305.16 146.02 L305.55 147.9 L305.7 149.6 L305.67 151.16 L305.55 152.62 L305.28 153.92 L304.8 155.05 L304.06 155.95 L303 156.6 L301.46 156.93 L299.44 156.95 L297.17 156.75 L294.83 156.42 L292.64 156.04 L290.8 155.7 L289.29 155.33 L287.95 154.86 L286.76 154.34 L285.68 153.84 L284.7 153.4 L283.8 153.1 L282.98 153.13 L282.28 153.49 L281.67 153.92 L281.14 154.17 L280.69 153.98 L280.3 153.1 L279.98 151.38 L279.74 149 L279.57 146.18 L279.47 143.14 L279.42 140.11Z" fill="url(#gH)" />
<path d="M336 112 L337.52 112.11 L339.04 112.81 L340.5 113.94 L341.85 115.3 L343.04 116.71 L344 118 L344.82 119.22 L345.56 120.54 L346.12 121.91 L346.44 123.3 L346.43 124.67 L346 126 L345.02 127.38 L343.52 128.87 L341.69 130.34 L339.7 131.69 L337.75 132.78 L336 133.5 L334.35 133.88 L332.63 134.02 L330.94 133.91 L329.37 133.54 L328.03 132.9 L327 132 L326.24 130.69 L325.67 128.96 L325.31 126.97 L325.22 124.87 L325.44 122.83 L326 121 L327.05 119.21 L328.59 117.3 L330.44 115.44 L332.41 113.81 L334.32 112.61Z" fill="#2aaa2a" opacity="0.55"/>
<path d="M286.4 102.3 L294.3 94.4 L303 90.9 L315.3 89.2 L325.8 92.7 L332 99 L322 106 L315.3 113.7 L309 107.5 L302 104 L292 104.5Z" fill="url(#gR)" />
<path d="M334.6 60.3 L341.6 60.3" fill="none" stroke="#45cc45" stroke-width="3.6" stroke-linecap="round" stroke-linejoin="round" />
<path d="M338 61 L336.3 74.3 L339.8 77.8 L339 88.3" fill="none" stroke="#45cc45" stroke-width="2.8" stroke-linecap="round" stroke-linejoin="round" />
<path d="M355.6 81.3 L355.6 97" fill="none" stroke="#45cc45" stroke-width="2.8" stroke-linecap="round" stroke-linejoin="round" />
<path d="M290 150 L296 141 L301 132 L300 120" fill="none" stroke="#34b834" stroke-width="2.4" stroke-linecap="round" stroke-linejoin="round" />
<path d="M286 160 L292 152" fill="none" stroke="#34b834" stroke-width="2.4" stroke-linecap="round" stroke-linejoin="round" />
<path d="M320 130 L322 142 L327 146" fill="none" stroke="#45cc45" stroke-width="2.8" stroke-linecap="round" stroke-linejoin="round" />
<path d="M330 100 L336 110 L338 122" fill="none" stroke="#34b834" stroke-width="2.2" stroke-linecap="round" stroke-linejoin="round" />
<path d="M280.3 63.5 L287.3 61.1" fill="none" stroke="#2233dd" stroke-width="3.4" stroke-linecap="round" stroke-linejoin="round" />
<path d="M287.3 61.1 L294.3 57.1 L310 76 L304.8 92" fill="none" stroke="#e01414" stroke-width="3.4" stroke-linecap="round" stroke-linejoin="round" />
<path d="M297 107 L302 103" fill="none" stroke="#2233dd" stroke-width="3.2" stroke-linecap="round" stroke-linejoin="round" />
<path d="M334.4 26.6 L335.4 33.9" fill="none" stroke="#2a86e8" stroke-width="3.2" stroke-linecap="round" stroke-linejoin="round" />
<path d="M335.4 33.9 L336.6 47 L342.5 40.4 L348 41.8" fill="none" stroke="#7e86e6" stroke-width="3.4" stroke-linecap="round" stroke-linejoin="round" />
<path d="M348 41.8 L352 42.8" fill="none" stroke="#e04848" stroke-width="3.4" stroke-linecap="round" stroke-linejoin="round" />
<path d="M336.6 47 L330 51.5 L325 54.5" fill="none" stroke="#7e86e6" stroke-width="3.4" stroke-linecap="round" stroke-linejoin="round" />
<path d="M325 54.5 L323.5 55.3" fill="none" stroke="#3038e0" stroke-width="3.4" stroke-linecap="round" stroke-linejoin="round" />
<path d="M346.8 82.2 L349.5 92.7" fill="none" stroke="#e23232" stroke-width="3.4" stroke-linecap="round" stroke-linejoin="round" />
<path d="M349.5 92.7 L350.3 102.3" fill="none" stroke="#45cc45" stroke-width="3.2" stroke-linecap="round" stroke-linejoin="round" />
<path d="M350.3 102.3 L349.5 109.3" fill="none" stroke="#e23232" stroke-width="3.2" stroke-linecap="round" stroke-linejoin="round" />
<path d="M374.9 90 L380.1 90.9" fill="none" stroke="#e23232" stroke-width="3.4" stroke-linecap="round" stroke-linejoin="round" />
<path d="M337 91 L340 91.5" fill="none" stroke="#e23232" stroke-width="3.2" stroke-linecap="round" stroke-linejoin="round" />
<path d="M398.6 26.2 L399.26 27.77 L400.17 29.93 L401.25 32.49 L402.43 35.27 L403.64 38.07 L404.8 40.7 L405.93 43.27 L407.1 45.94 L408.29 48.63 L409.5 51.26 L410.74 53.75 L412 56 L413.24 58 L414.46 59.8 L415.7 61.46 L417.01 63.01 L418.43 64.51 L420 66 L421.76 67.54 L423.67 69.11 L425.69 70.62 L427.78 72 L429.9 73.15 L432 74 L434.18 74.53 L436.48 74.81 L438.81 74.88 L441.07 74.74 L443.17 74.44 L445 74 L446.54 73.35 L447.87 72.44 L449.03 71.38 L450.07 70.22 L451.05 69.07 L452 68 L452.95 66.93 L453.85 65.78 L454.69 64.62 L455.43 63.56 L456.04 62.65 L456.5 62" fill="none" stroke="#1860c4" stroke-width="3.8" stroke-linecap="round" stroke-linejoin="round" />
<path d="M426 26.2 L425.24 27.16 L424.19 28.47 L422.94 30.02 L421.59 31.76 L420.21 33.57 L418.9 35.4 L417.61 37.28 L416.26 39.3 L414.88 41.41 L413.52 43.56 L412.22 45.71 L411 47.8 L409.78 49.86 L408.51 51.93 L407.3 54 L406.24 56.04 L405.44 58.05 L405 60 L405.03 61.9 L405.47 63.78 L406.16 65.61 L406.97 67.4 L407.73 69.13 L408.3 70.8 L408.77 72.34 L409.27 73.75 L409.74 75.1 L410.08 76.47 L410.23 77.95 L410.1 79.6 L409.61 81.44 L408.8 83.4 L407.79 85.46 L406.7 87.6 L405.67 89.79 L404.8 92 L404.03 94.3 L403.24 96.73 L402.5 99.21 L401.87 101.67 L401.42 104.02 L401.2 106.2 L401.22 108.24 L401.44 110.2 L401.82 112.06 L402.37 113.79 L403.07 115.38 L403.9 116.8 L404.88 118.07 L406.01 119.22 L407.3 120.22 L408.72 121.05 L410.26 121.68 L411.9 122.1 L413.7 122.18 L415.68 121.93 L417.77 121.47 L419.93 120.97 L422.09 120.57 L424.2 120.4 L426.28 120.44 L428.39 120.58 L430.5 120.81 L432.59 121.14 L434.63 121.57 L436.6 122.1 L438.5 122.76 L440.35 123.57 L442.15 124.47 L443.91 125.43 L445.62 126.42 L447.3 127.4 L449.03 128.45 L450.82 129.63 L452.57 130.83 L454.17 131.96 L455.52 132.92 L456.5 133.6" fill="none" stroke="#1860c4" stroke-width="3.8" stroke-linecap="round" stroke-linejoin="round" />
<path d="M423 26 L456.5 26 L456.5 33 L447 33 L436 31.5 L428 29Z" fill="#0b3f98" />
<path d="M411 88.5 L421.6 92 L426.9 106.2 L419 113.3 L408.3 109.7 L403.9 99.1 L411 88.5" fill="none" stroke="#1860c4" stroke-width="3.6" stroke-linecap="round" stroke-linejoin="round" />
<path d="M403.9 99.1 L399 95" fill="none" stroke="#1860c4" stroke-width="3.8" stroke-linecap="round" stroke-linejoin="round" />
<path d="M399 95 L394 92" fill="none" stroke="#e23232" stroke-width="3.2" stroke-linecap="round" stroke-linejoin="round" />
<path d="M426.9 106.2 L433.1 109.7 L443.7 113.3 L445.5 109.7" fill="none" stroke="#1860c4" stroke-width="3.8" stroke-linecap="round" stroke-linejoin="round" />
<path d="M445.5 109.7 L445.5 104" fill="none" stroke="#e23232" stroke-width="3.2" stroke-linecap="round" stroke-linejoin="round" />
<path d="M420.7 115 L427.8 118.6" fill="none" stroke="#2233dd" stroke-width="3.2" stroke-linecap="round" stroke-linejoin="round" />
<line x1="330" y1="90.5" x2="346" y2="87.5" stroke="#000" stroke-width="1.7" stroke-dasharray="1.3 0.9"/>
<rect x="331" y="81" width="12" height="8" fill="#fff" opacity="0.9"/><text x="331.8" y="88" font-size="8.2" fill="#333" >3.2</text>
<line x1="382" y1="90.5" x2="394" y2="91.5" stroke="#000" stroke-width="1.7" stroke-dasharray="1.3 0.9"/>
<rect x="381.8" y="90.4" width="12" height="8" fill="#fff" opacity="0.9"/><text x="382.6" y="97.4" font-size="8.2" fill="#333" >3.0</text>
<g transform="translate(279.3 32.1) scale(1.0422 1)" fill="#f01414" ><text x="0" y="0" font-size="12.4" font-weight="bold" xml:space="preserve">K905</text></g>
<path d="M294.3 36.3L294.3 49.8M292.14 46.2L294.3 49.8L296.46 46.2" stroke="#000" stroke-width="1.2" fill="none" stroke-linecap="round" stroke-linejoin="round"/>
<g transform="translate(340.3 32.1) scale(0.9089 1)" fill="#000" ><text x="0" y="0" font-size="12.4" font-weight="bold" xml:space="preserve">G27</text></g>
<g transform="translate(350.5 64) scale(0.9671 1)" fill="#000" ><text x="0" y="0" font-size="12.4" font-weight="bold" xml:space="preserve">E909</text></g>
<path d="M355.5 67.5L352.5 80M351.62 77.22L352.5 80L354.54 77.92" stroke="#000" stroke-width="1" fill="none" stroke-linecap="round" stroke-linejoin="round"/>
<g transform="translate(423.6 97.3) scale(0.9656 1)" fill="#000" ><text x="0" y="0" font-size="12.4" font-weight="bold" xml:space="preserve">Y56</text></g>
<text x="279" y="113" font-size="13.2" fill="#2e6a2e" opacity="0.8">S5</text>
<text x="294.6" y="114.6" font-size="8" fill="#2e6a2e" opacity="0.8">DII</text>
<g transform="translate(374.6 16.6) scale(0.8959 1)" fill="#2d72cc" ><text x="0" y="0" font-size="13.2" xml:space="preserve">&#946;</text></g><g transform="translate(382.3 19.2) scale(0.9829 1)" fill="#2d72cc" ><text x="0" y="0" font-size="8.6" xml:space="preserve">2</text></g><g transform="translate(390.1 16.6) scale(1.0865 1)" fill="#2d72cc" ><text x="0" y="0" font-size="12.7" xml:space="preserve">subunit</text></g>
<text x="268" y="18.5" font-size="24" fill="#000" font-weight="bold" >b</text><path d="M572.1 124.8 L589.6 119.6" fill="none" stroke="#a6e6a6" stroke-width="2.6" stroke-linecap="round" stroke-linejoin="round" />
<path d="M603.6 121.3 L604.02 123.18 L604.64 125.77 L605.35 128.84 L606.06 132.19 L606.68 135.58 L607.1 138.8 L607.36 142.01 L607.55 145.43 L607.64 148.89 L607.61 152.25 L607.44 155.37 L607.1 158.1 L606.47 160.48 L605.56 162.64 L604.5 164.56 L603.44 166.2 L602.53 167.56 L601.9 168.6" fill="none" stroke="#6ed66e" stroke-width="2.4" stroke-linecap="round" stroke-linejoin="round" />
<path d="M593 131.8 L594.2 131.72 L595.85 131.6 L597.81 131.46 L599.93 131.31 L602.04 131.15 L604 131 L605.96 130.83 L608.07 130.64 L610.19 130.45 L612.15 130.27 L613.8 130.11 L615 130" fill="none" stroke="#8ee08e" stroke-width="2.2" stroke-linecap="round" stroke-linejoin="round" />
<path d="M588 132 L588.5 133.96 L589.26 136.67 L590.12 139.88 L590.96 143.33 L591.63 146.79 L592 150 L591.99 153.21 L591.7 156.67 L591.25 160.12 L590.74 163.33 L590.29 166.04 L590 168" fill="none" stroke="#c4efc4" stroke-width="2.2" stroke-linecap="round" stroke-linejoin="round" />
<path d="M497.7 133.6 L505.5 137.1 L521.3 145.8 L535.3 154.6 L531.8 165.1 L528.3 168.6 L497.7 168.6Z" fill="url(#gA)" />
<path d="M573.8 168.6 L577.3 163.4 L587.9 160.7 L596.6 161.6 L600.1 168.6Z" fill="url(#gA)" />
<path d="M565.1 88.9 L566.73 88.12 L568.41 87.44 L570.13 86.88 L571.9 86.43 L573.73 86.1 L575.6 85.9 L577.57 85.81 L579.63 85.84 L581.75 85.98 L583.87 86.25 L585.93 86.66 L587.9 87.2 L589.81 87.89 L591.7 88.71 L593.54 89.68 L595.29 90.76 L596.93 91.97 L598.4 93.3 L599.72 94.75 L600.92 96.34 L602 98.06 L602.96 99.88 L603.79 101.8 L604.5 103.8 L605.08 105.97 L605.52 108.34 L605.84 110.8 L606.05 113.26 L606.16 115.63 L606.2 117.8 L606.16 119.83 L606.05 121.82 L605.84 123.71 L605.52 125.45 L605.08 127 L604.5 128.3 L603.74 129.35 L602.8 130.18 L601.73 130.81 L600.6 131.28 L599.47 131.6 L598.4 131.8 L597.32 131.94 L596.17 132.01 L595.03 131.94 L593.94 131.64 L592.97 131.06 L592.2 130.1 L591.65 128.64 L591.27 126.72 L591.02 124.5 L590.84 122.16 L590.68 119.87 L590.5 117.8 L590.35 115.89 L590.3 114 L590.27 112.16 L590.2 110.41 L590 108.77 L589.6 107.3 L588.99 105.98 L588.22 104.78 L587.33 103.71 L586.36 102.75 L585.33 101.92 L584.3 101.2 L583.23 100.61 L582.09 100.15 L580.91 99.81 L579.7 99.57 L578.49 99.44 L577.3 99.4 L576.11 99.46 L574.9 99.64 L573.69 99.92 L572.5 100.28 L571.36 100.71 L570.3 101.2 L569.31 101.76 L568.37 102.41 L567.48 103.13 L566.64 103.9 L565.85 104.7 L565.1 105.5 L564.44 106.56 L563.87 107.94 L563.36 109.35 L562.84 110.49 L562.27 111.07 L561.6 110.8 L560.66 109.39 L559.44 107.04 L558.18 104.12 L557.09 101.03 L556.39 98.16 L556.3 95.9 L556.93 94.23 L558.13 92.83 L559.71 91.66 L561.52 90.64 L563.37 89.74Z" fill="url(#gA)" />
<path d="M504.6 138.8 L504.98 135.74 L505.51 132.7 L506.19 129.72 L507.01 126.81 L507.95 123.99 L509 121.3 L510.17 118.69 L511.48 116.15 L512.91 113.7 L514.45 111.39 L516.09 109.24 L517.8 107.3 L519.62 105.57 L521.55 104.02 L523.57 102.64 L525.67 101.41 L527.82 100.34 L530 99.4 L532.27 98.6 L534.66 97.95 L537.1 97.44 L539.52 97.09 L541.84 96.87 L544 96.8 L545.99 96.87 L547.86 97.09 L549.63 97.44 L551.33 97.95 L552.98 98.6 L554.6 99.4 L556.19 100.38 L557.73 101.54 L559.22 102.86 L560.66 104.28 L562.02 105.77 L563.3 107.3 L564.52 108.88 L565.69 110.54 L566.78 112.27 L567.79 114.07 L568.7 115.92 L569.5 117.8 L570.21 119.75 L570.86 121.77 L571.41 123.84 L571.82 125.94 L572.06 128.03 L572.1 130.1 L571.95 132.22 L571.64 134.43 L571.17 136.64 L570.51 138.75 L569.66 140.67 L568.6 142.3 L567.21 143.66 L565.49 144.84 L563.57 145.83 L561.6 146.61 L559.73 147.21 L558.1 147.6 L556.67 147.83 L555.31 147.91 L554.06 147.79 L552.92 147.43 L551.93 146.78 L551.1 145.8 L550.5 144.39 L550.11 142.57 L549.87 140.46 L549.7 138.19 L549.53 135.86 L549.3 133.6 L549.05 131.31 L548.86 128.87 L548.67 126.39 L548.43 123.95 L548.09 121.65 L547.6 119.6 L546.97 117.77 L546.23 116.09 L545.39 114.54 L544.46 113.15 L543.43 111.9 L542.3 110.8 L540.99 109.83 L539.49 108.98 L537.89 108.28 L536.3 107.75 L534.8 107.42 L533.5 107.3 L532.39 107.4 L531.4 107.69 L530.51 108.17 L529.71 108.86 L528.97 109.73 L528.3 110.8 L527.7 112.06 L527.18 113.52 L526.73 115.17 L526.34 117.02 L526 119.06 L525.7 121.3 L525.4 123.83 L525.11 126.68 L524.87 129.72 L524.71 132.83 L524.68 135.9 L524.8 138.8 L525.19 141.59 L525.84 144.39 L526.61 147.14 L527.36 149.79 L527.97 152.29 L528.3 154.6 L528.41 156.76 L528.41 158.81 L528.27 160.72 L527.94 162.44 L527.36 163.91 L526.5 165.1 L525.25 166.03 L523.64 166.74 L521.79 167.21 L519.82 167.41 L517.85 167.31 L516 166.9 L514.14 166.17 L512.14 165.14 L510.15 163.82 L508.29 162.2 L506.69 160.3 L505.5 158.1 L504.73 155.47 L504.29 152.38 L504.12 148.99 L504.15 145.49 L504.33 142.03Z" fill="url(#gH)" />
<path d="M560 122 L561.82 121.69 L563.7 121.7 L565.56 122 L567.3 122.52 L568.81 123.2 L570 124 L570.89 124.95 L571.56 126.11 L572 127.44 L572.22 128.89 L572.22 130.42 L572 132 L571.51 133.74 L570.74 135.7 L569.75 137.75 L568.59 139.74 L567.32 141.54 L566 143 L564.52 144.15 L562.81 145.11 L561 145.88 L559.19 146.44 L557.48 146.82 L556 147 L554.71 147.03 L553.52 146.93 L552.44 146.62 L551.48 146.07 L550.66 145.22 L550 144 L549.41 142.23 L548.85 139.93 L548.44 137.31 L548.26 134.63 L548.41 132.11 L549 130 L550.15 128.2 L551.81 126.52 L553.81 125 L555.96 123.7 L558.09 122.69Z" fill="#2aaa2a" opacity="0.5"/>
<path d="M514.3 110.8 L524.8 102 L540.6 97.1 L552.8 98.9 L555.4 102 L545.8 112.6 L535.3 108.2 L526.5 109.9 L519.5 114.3 L514.3 112.6Z" fill="url(#gY)" />
<path d="M523.5 118 L528.5 110.5" fill="none" stroke="#2233dd" stroke-width="3.2" stroke-linecap="round" stroke-linejoin="round" />
<path d="M512.5 135.3 L521.3 121.3" fill="none" stroke="#45cc45" stroke-width="2.6" stroke-linecap="round" stroke-linejoin="round" />
<path d="M508 150 L514.3 142.3 L520 140" fill="none" stroke="#45cc45" stroke-width="2.6" stroke-linecap="round" stroke-linejoin="round" />
<path d="M516 158 L522 150 L530 148" fill="none" stroke="#45cc45" stroke-width="2.6" stroke-linecap="round" stroke-linejoin="round" />
<path d="M552 126 L554 140" fill="none" stroke="#45cc45" stroke-width="2.6" stroke-linecap="round" stroke-linejoin="round" />
<path d="M546 86.3 L549 95 L555 98" fill="none" stroke="#45cc45" stroke-width="2.8" stroke-linecap="round" stroke-linejoin="round" />
<path d="M549 88 L554.6 85" fill="none" stroke="#45cc45" stroke-width="2.8" stroke-linecap="round" stroke-linejoin="round" />
<path d="M535.3 66.1 L537 70.5" fill="none" stroke="#2233dd" stroke-width="3.4" stroke-linecap="round" stroke-linejoin="round" />
<path d="M537 70.5 L539.7 74.9 L531.8 88.9 L532.7 97.7" fill="none" stroke="#e6da2a" stroke-width="3.4" stroke-linecap="round" stroke-linejoin="round" />
<path d="M539.7 74.9 L547.6 71.4" fill="none" stroke="#e23232" stroke-width="3.6" stroke-linecap="round" stroke-linejoin="round" />
<path d="M565 25.7 L564.21 26.49 L563.09 27.57 L561.78 28.85 L560.41 30.24 L559.1 31.66 L558 33 L557.06 34.31 L556.18 35.66 L555.37 37.03 L554.64 38.4 L554.01 39.73 L553.5 41 L553.13 42.28 L552.9 43.61 L552.77 44.9 L552.7 46.08 L552.66 47.07 L552.6 47.8" fill="none" stroke="#1860c4" stroke-width="3.6" stroke-linecap="round" stroke-linejoin="round" />
<path d="M547.3 63.7 L557.9 61 L561.4 56.6 L566 57.5" fill="none" stroke="#6c74e4" stroke-width="3.4" stroke-linecap="round" stroke-linejoin="round" />
<path d="M566 57.5 L570.3 58.4" fill="none" stroke="#e23232" stroke-width="3.4" stroke-linecap="round" stroke-linejoin="round" />
<path d="M557.9 61 L561.4 54" fill="none" stroke="#6c74e4" stroke-width="3" stroke-linecap="round" stroke-linejoin="round" />
<path d="M575.6 74 L578.2 82.8" fill="none" stroke="#e23232" stroke-width="3.4" stroke-linecap="round" stroke-linejoin="round" />
<path d="M578.2 82.8 L580 90.7" fill="none" stroke="#45cc45" stroke-width="3.2" stroke-linecap="round" stroke-linejoin="round" />
<path d="M580 90.7 L580.8 97.7" fill="none" stroke="#e23232" stroke-width="3.2" stroke-linecap="round" stroke-linejoin="round" />
<path d="M570.3 101.2 L575.6 97" fill="none" stroke="#2233dd" stroke-width="3.2" stroke-linecap="round" stroke-linejoin="round" />
<path d="M597.4 96.5 L602.7 94.7" fill="none" stroke="#e23232" stroke-width="3.4" stroke-linecap="round" stroke-linejoin="round" />
<path d="M608 25.7 L607.68 27.68 L607.14 30.39 L606.54 33.62 L606.07 37.14 L605.9 40.74 L606.2 44.2 L606.98 47.71 L608.11 51.49 L609.54 55.34 L611.22 59.09 L613.09 62.54 L615.1 65.5 L617.45 67.87 L620.21 69.76 L623.16 71.36 L626.09 72.83 L628.78 74.35 L631 76.1 L632.77 78.21 L634.28 80.56 L635.54 82.96 L636.59 85.22 L637.43 87.13 L638.1 88.5" fill="none" stroke="#1860c4" stroke-width="3.6" stroke-linecap="round" stroke-linejoin="round" />
<path d="M637.2 25.7 L636.99 26.66 L636.7 27.92 L636.35 29.44 L635.99 31.21 L635.66 33.21 L635.4 35.4 L635.23 37.85 L635.13 40.58 L635.06 43.53 L634.97 46.64 L634.83 49.85 L634.6 53.1 L634.25 56.47 L633.81 60.04 L633.31 63.7 L632.8 67.36 L632.32 70.93 L631.9 74.3 L631.5 77.49 L631.07 80.59 L630.66 83.59 L630.33 86.49 L630.13 89.29 L630.1 92 L630.32 94.73 L630.77 97.52 L631.34 100.21 L631.93 102.65 L632.45 104.7 L632.8 106.2" fill="none" stroke="#1860c4" stroke-width="3.6" stroke-linecap="round" stroke-linejoin="round" />
<path d="M661.1 25.7 L661.78 27.66 L662.8 30.33 L663.97 33.51 L665.09 37.01 L665.96 40.64 L666.4 44.2 L666.37 47.85 L666.02 51.76 L665.42 55.8 L664.66 59.83 L663.79 63.71 L662.9 67.3 L661.99 70.68 L661 73.96 L659.91 77.1 L658.69 80.03 L657.33 82.68 L655.8 85 L654 87.01 L651.93 88.75 L649.71 90.22 L647.46 91.41 L645.32 92.3 L643.4 92.9 L641.62 93.04 L639.87 92.71 L638.22 92.09 L636.75 91.36 L635.52 90.7 L634.6 90.3" fill="none" stroke="#1860c4" stroke-width="3.6" stroke-linecap="round" stroke-linejoin="round" />
<path d="M652.3 106.2 L654.26 106.83 L656.99 107.75 L660.21 108.82 L663.64 109.89 L667 110.83 L670 111.5 L672.83 111.87 L675.76 112.04 L678.61 112.08 L681.21 112.05 L683.4 112 L685 112" fill="none" stroke="#1860c4" stroke-width="3.8" stroke-linecap="round" stroke-linejoin="round" />
<path d="M627 95 L637 94 L642 104 L638 114 L628 116 L622.5 106 L627 95" fill="none" stroke="#1860c4" stroke-width="3.6" stroke-linecap="round" stroke-linejoin="round" />
<path d="M622.5 104.4 L613.3 104.4" fill="none" stroke="#1860c4" stroke-width="3.8" stroke-linecap="round" stroke-linejoin="round" />
<path d="M613.3 104.4 L610.5 103.5" fill="none" stroke="#e23232" stroke-width="3.2" stroke-linecap="round" stroke-linejoin="round" />
<path d="M641.6 109.7 L645.2 104.4" fill="none" stroke="#1860c4" stroke-width="3.8" stroke-linecap="round" stroke-linejoin="round" />
<path d="M645.2 104.4 L652.3 107" fill="none" stroke="#2233dd" stroke-width="3.2" stroke-linecap="round" stroke-linejoin="round" />
<path d="M652.3 107 L657.6 109.7 L670 102.7 L670 97" fill="none" stroke="#1860c4" stroke-width="3.8" stroke-linecap="round" stroke-linejoin="round" />
<path d="M670 97 L670 92" fill="none" stroke="#e23232" stroke-width="3.2" stroke-linecap="round" stroke-linejoin="round" />
<line x1="561" y1="103.2" x2="572" y2="101.5" stroke="#000" stroke-width="1.7" stroke-dasharray="1.3 0.9"/>
<rect x="557.8" y="104.3" width="12" height="8" fill="#fff" opacity="0.9"/><text x="558.6" y="111.3" font-size="8.2" fill="#333" >3.2</text>
<line x1="603" y1="96" x2="611" y2="103" stroke="#000" stroke-width="1.7" stroke-dasharray="1.3 0.9"/>
<text transform="translate(605.2,92) rotate(30)" font-size="8.2" fill="#333">3.0</text>
<g transform="translate(508.5 32.7) scale(1.1198 1)" fill="#d8a418" ><text x="0" y="0" font-size="12.4" font-weight="bold" xml:space="preserve">N905</text></g>
<path d="M522.5 36.3L532.2 60.2M528.84 57.68L532.2 60.2L532.85 56.05" stroke="#000" stroke-width="1.2" fill="none" stroke-linecap="round" stroke-linejoin="round"/>
<g transform="translate(558.1 48.1) scale(0.9643 1)" fill="#000" ><text x="0" y="0" font-size="12.4" font-weight="bold" xml:space="preserve">G27</text></g>
<g transform="translate(578.4 62) scale(0.9601 1)" fill="#000" ><text x="0" y="0" font-size="12.4" font-weight="bold" xml:space="preserve">E909</text></g>
<path d="M582.5 65L579.6 72M579.19 69.23L579.6 72L581.85 70.33" stroke="#000" stroke-width="1" fill="none" stroke-linecap="round" stroke-linejoin="round"/>
<g transform="translate(630.9 132.7) scale(0.9429 1)" fill="#000" ><text x="0" y="0" font-size="12.4" font-weight="bold" xml:space="preserve">Y56</text></g>
<text x="502.4" y="161.4" font-size="13.2" fill="#2e6a2e" opacity="0.8">S5</text>
<text x="518" y="163.2" font-size="8" fill="#2e6a2e" opacity="0.8">DII</text>
<g transform="translate(586 16.6) scale(0.8959 1)" fill="#2d72cc" ><text x="0" y="0" font-size="13.2" xml:space="preserve">&#946;</text></g><g transform="translate(593.7 19.2) scale(0.9829 1)" fill="#2d72cc" ><text x="0" y="0" font-size="8.6" xml:space="preserve">2</text></g><g transform="translate(601.5 16.6) scale(1.0865 1)" fill="#2d72cc" ><text x="0" y="0" font-size="12.7" xml:space="preserve">subunit</text></g>
<line x1="58.3" y1="215.4" x2="58.3" y2="400.2" stroke="#000" stroke-width="1.5" />
<line x1="57.6" y1="403.4" x2="422.3" y2="403.4" stroke="#000" stroke-width="1.5" />
<line x1="53.4" y1="391.3" x2="58.3" y2="391.3" stroke="#000" stroke-width="1.3" />
<line x1="55.6" y1="370.38" x2="58.3" y2="370.38" stroke="#000" stroke-width="1.3" />
<line x1="53.4" y1="349.45" x2="58.3" y2="349.45" stroke="#000" stroke-width="1.3" />
<line x1="55.6" y1="328.52" x2="58.3" y2="328.52" stroke="#000" stroke-width="1.3" />
<line x1="53.4" y1="307.6" x2="58.3" y2="307.6" stroke="#000" stroke-width="1.3" />
<line x1="55.6" y1="286.68" x2="58.3" y2="286.68" stroke="#000" stroke-width="1.3" />
<line x1="53.4" y1="265.75" x2="58.3" y2="265.75" stroke="#000" stroke-width="1.3" />
<line x1="55.6" y1="244.83" x2="58.3" y2="244.83" stroke="#000" stroke-width="1.3" />
<line x1="53.4" y1="223.9" x2="58.3" y2="223.9" stroke="#000" stroke-width="1.3" />
<text x="49" y="395.6" font-size="11.6" fill="#111" text-anchor="end" >0.00</text>
<text x="49" y="353.75" font-size="11.6" fill="#111" text-anchor="end" >0.25</text>
<text x="49" y="311.9" font-size="11.6" fill="#111" text-anchor="end" >0.50</text>
<text x="49" y="270.05" font-size="11.6" fill="#111" text-anchor="end" >0.75</text>
<text x="49" y="228.2" font-size="11.6" fill="#111" text-anchor="end" >1.00</text>
<line x1="62.24" y1="403.4" x2="62.24" y2="407.8" stroke="#000" stroke-width="1.3" />
<text x="61.94" y="420.5" font-size="11.6" fill="#111" text-anchor="middle" >-120</text>
<line x1="84.47" y1="403.4" x2="84.47" y2="406.2" stroke="#000" stroke-width="1.3" />
<line x1="106.7" y1="403.4" x2="106.7" y2="407.8" stroke="#000" stroke-width="1.3" />
<text x="106.4" y="420.5" font-size="11.6" fill="#111" text-anchor="middle" >-100</text>
<line x1="128.93" y1="403.4" x2="128.93" y2="406.2" stroke="#000" stroke-width="1.3" />
<line x1="151.16" y1="403.4" x2="151.16" y2="407.8" stroke="#000" stroke-width="1.3" />
<text x="150.86" y="420.5" font-size="11.6" fill="#111" text-anchor="middle" >-80</text>
<line x1="173.39" y1="403.4" x2="173.39" y2="406.2" stroke="#000" stroke-width="1.3" />
<line x1="195.62" y1="403.4" x2="195.62" y2="407.8" stroke="#000" stroke-width="1.3" />
<text x="195.32" y="420.5" font-size="11.6" fill="#111" text-anchor="middle" >-60</text>
<line x1="217.85" y1="403.4" x2="217.85" y2="406.2" stroke="#000" stroke-width="1.3" />
<line x1="240.08" y1="403.4" x2="240.08" y2="407.8" stroke="#000" stroke-width="1.3" />
<text x="239.78" y="420.5" font-size="11.6" fill="#111" text-anchor="middle" >-40</text>
<line x1="262.31" y1="403.4" x2="262.31" y2="406.2" stroke="#000" stroke-width="1.3" />
<line x1="284.54" y1="403.4" x2="284.54" y2="407.8" stroke="#000" stroke-width="1.3" />
<text x="284.24" y="420.5" font-size="11.6" fill="#111" text-anchor="middle" >-20</text>
<line x1="306.77" y1="403.4" x2="306.77" y2="406.2" stroke="#000" stroke-width="1.3" />
<line x1="329" y1="403.4" x2="329" y2="407.8" stroke="#000" stroke-width="1.3" />
<text x="328.7" y="420.5" font-size="11.6" fill="#111" text-anchor="middle" >0</text>
<line x1="351.23" y1="403.4" x2="351.23" y2="406.2" stroke="#000" stroke-width="1.3" />
<line x1="373.46" y1="403.4" x2="373.46" y2="407.8" stroke="#000" stroke-width="1.3" />
<text x="373.16" y="420.5" font-size="11.6" fill="#111" text-anchor="middle" >20</text>
<line x1="395.69" y1="403.4" x2="395.69" y2="406.2" stroke="#000" stroke-width="1.3" />
<line x1="417.92" y1="403.4" x2="417.92" y2="407.8" stroke="#000" stroke-width="1.3" />
<text x="417.62" y="420.5" font-size="11.6" fill="#111" text-anchor="middle" >40</text>
<g transform="translate(150.8 439) scale(0.9953 1)" fill="#111" ><text x="0" y="0" font-size="14" xml:space="preserve">Membrane potential (mV)</text></g>
<text transform="translate(16.6,305) rotate(-90)" font-size="14.5" fill="#111" text-anchor="middle">G/G<tspan font-size="10.5" dy="3.6">max</tspan></text>
<text x="0.5" y="224.6" font-size="24" fill="#000" font-weight="bold" >c</text>

<circle cx="62.24" cy="224.45" r="4.3" fill="none" stroke="#000" stroke-width="1.9"/>

<circle cx="73.36" cy="223.85" r="4.3" fill="none" stroke="#000" stroke-width="1.9"/>

<circle cx="84.47" cy="224.23" r="4.3" fill="none" stroke="#000" stroke-width="1.9"/>

<circle cx="95.59" cy="223.83" r="4.3" fill="none" stroke="#000" stroke-width="1.9"/>

<circle cx="106.7" cy="223.91" r="4.3" fill="none" stroke="#000" stroke-width="1.9"/>

<circle cx="117.82" cy="225.27" r="4.3" fill="none" stroke="#000" stroke-width="1.9"/>

<circle cx="128.93" cy="225.83" r="4.3" fill="none" stroke="#000" stroke-width="1.9"/>

<circle cx="140.05" cy="225.03" r="4.3" fill="none" stroke="#000" stroke-width="1.9"/>

<circle cx="151.16" cy="227.8" r="4.3" fill="none" stroke="#000" stroke-width="1.9"/>

<circle cx="162.28" cy="230.86" r="4.3" fill="none" stroke="#000" stroke-width="1.9"/>

<circle cx="173.39" cy="234.79" r="4.3" fill="none" stroke="#000" stroke-width="1.9"/>
<path d="M184.5 245.33V251.33M181.91 251.33H187.1" stroke="#000" stroke-width="1.3" fill="none"/>
<circle cx="184.5" cy="245.33" r="4.3" fill="none" stroke="#000" stroke-width="1.9"/>
<path d="M195.62 259.85V265.85M193.02 265.85H198.22" stroke="#000" stroke-width="1.3" fill="none"/>
<circle cx="195.62" cy="259.85" r="4.3" fill="none" stroke="#000" stroke-width="1.9"/>
<path d="M206.74 282.37V288.37M204.14 288.37H209.34" stroke="#000" stroke-width="1.3" fill="none"/>
<circle cx="206.74" cy="282.37" r="4.3" fill="none" stroke="#000" stroke-width="1.9"/>
<path d="M217.85 308.41V314.41M215.25 314.41H220.45" stroke="#000" stroke-width="1.3" fill="none"/>
<circle cx="217.85" cy="308.41" r="4.3" fill="none" stroke="#000" stroke-width="1.9"/>
<path d="M228.97 335.54V341.54M226.37 341.54H231.56" stroke="#000" stroke-width="1.3" fill="none"/>
<circle cx="228.97" cy="335.54" r="4.3" fill="none" stroke="#000" stroke-width="1.9"/>
<path d="M240.08 355.87V361.87M237.48 361.87H242.68" stroke="#000" stroke-width="1.3" fill="none"/>
<circle cx="240.08" cy="355.87" r="4.3" fill="none" stroke="#000" stroke-width="1.9"/>
<path d="M251.19 370.15V376.15M248.59 376.15H253.79" stroke="#000" stroke-width="1.3" fill="none"/>
<circle cx="251.19" cy="370.15" r="4.3" fill="none" stroke="#000" stroke-width="1.9"/>

<circle cx="262.31" cy="379.93" r="4.3" fill="none" stroke="#000" stroke-width="1.9"/>

<circle cx="273.43" cy="384.7" r="4.3" fill="none" stroke="#000" stroke-width="1.9"/>

<circle cx="284.54" cy="387.71" r="4.3" fill="none" stroke="#000" stroke-width="1.9"/>

<circle cx="295.65" cy="390.46" r="4.3" fill="none" stroke="#000" stroke-width="1.9"/>

<circle cx="306.77" cy="389.88" r="4.3" fill="none" stroke="#000" stroke-width="1.9"/>

<circle cx="317.88" cy="390.65" r="4.3" fill="none" stroke="#000" stroke-width="1.9"/>

<circle cx="329" cy="391.45" r="4.3" fill="none" stroke="#000" stroke-width="1.9"/>

<circle cx="151.16" cy="392.17" r="4.8" fill="#000"/>

<circle cx="162.28" cy="390.43" r="4.8" fill="#000"/>

<circle cx="173.39" cy="391.11" r="4.8" fill="#000"/>

<circle cx="184.5" cy="390.39" r="4.8" fill="#000"/>

<circle cx="195.62" cy="389.66" r="4.8" fill="#000"/>

<circle cx="206.74" cy="389.22" r="4.8" fill="#000"/>

<circle cx="217.85" cy="387.37" r="4.8" fill="#000"/>

<circle cx="228.97" cy="385.79" r="4.8" fill="#000"/>

<circle cx="240.08" cy="380.24" r="4.8" fill="#000"/>

<circle cx="251.19" cy="372.75" r="4.8" fill="#000"/>
<path d="M262.31 358.44V365.44M259.71 365.44H264.91" stroke="#000" stroke-width="1.3" fill="none"/>
<circle cx="262.31" cy="358.44" r="4.8" fill="#000"/>
<path d="M273.43 339V346M270.82 346H276.03" stroke="#000" stroke-width="1.3" fill="none"/>
<circle cx="273.43" cy="339" r="4.8" fill="#000"/>
<path d="M284.54 315.81V322.81M281.94 322.81H287.14" stroke="#000" stroke-width="1.3" fill="none"/>
<circle cx="284.54" cy="315.81" r="4.8" fill="#000"/>
<path d="M295.65 289.58V296.58M293.05 296.58H298.25" stroke="#000" stroke-width="1.3" fill="none"/>
<circle cx="295.65" cy="289.58" r="4.8" fill="#000"/>
<path d="M306.77 266.63V273.63M304.17 273.63H309.37" stroke="#000" stroke-width="1.3" fill="none"/>
<circle cx="306.77" cy="266.63" r="4.8" fill="#000"/>
<path d="M317.88 248.36V255.36M315.28 255.36H320.49" stroke="#000" stroke-width="1.3" fill="none"/>
<circle cx="317.88" cy="248.36" r="4.8" fill="#000"/>

<circle cx="329" cy="238.54" r="4.8" fill="#000"/>

<circle cx="340.12" cy="231.68" r="4.8" fill="#000"/>

<circle cx="351.23" cy="228.67" r="4.8" fill="#000"/>

<circle cx="362.35" cy="226.23" r="4.8" fill="#000"/>

<circle cx="373.46" cy="225.38" r="4.8" fill="#000"/>

<circle cx="384.57" cy="224.87" r="4.8" fill="#000"/>

<circle cx="395.69" cy="224.08" r="4.8" fill="#000"/>

<circle cx="406.81" cy="223.92" r="4.8" fill="#000"/>

<circle cx="417.92" cy="223.19" r="4.8" fill="#000"/>
<path d="M62.24 223.57V226.57M59.64 226.57H64.84" stroke="#888888" stroke-width="1.3" fill="none"/>
<rect x="59.34" y="220.67" width="5.8" height="5.8" fill="#fff" stroke="#888888" stroke-width="1.5"/>
<path d="M73.36 223.11V226.11M70.76 226.11H75.96" stroke="#888888" stroke-width="1.3" fill="none"/>
<rect x="70.46" y="220.21" width="5.8" height="5.8" fill="#fff" stroke="#888888" stroke-width="1.5"/>
<path d="M84.47 223.32V226.32M81.87 226.32H87.07" stroke="#888888" stroke-width="1.3" fill="none"/>
<rect x="81.57" y="220.42" width="5.8" height="5.8" fill="#fff" stroke="#888888" stroke-width="1.5"/>
<path d="M95.59 223.16V226.16M92.99 226.16H98.19" stroke="#888888" stroke-width="1.3" fill="none"/>
<rect x="92.69" y="220.26" width="5.8" height="5.8" fill="#fff" stroke="#888888" stroke-width="1.5"/>
<path d="M106.7 224.03V227.03M104.1 227.03H109.3" stroke="#888888" stroke-width="1.3" fill="none"/>
<rect x="103.8" y="221.13" width="5.8" height="5.8" fill="#fff" stroke="#888888" stroke-width="1.5"/>
<path d="M117.82 225.46V228.46M115.22 228.46H120.42" stroke="#888888" stroke-width="1.3" fill="none"/>
<rect x="114.92" y="222.56" width="5.8" height="5.8" fill="#fff" stroke="#888888" stroke-width="1.5"/>
<path d="M128.93 224.83V227.83M126.33 227.83H131.53" stroke="#888888" stroke-width="1.3" fill="none"/>
<rect x="126.03" y="221.93" width="5.8" height="5.8" fill="#fff" stroke="#888888" stroke-width="1.5"/>
<path d="M140.05 226.05V229.05M137.45 229.05H142.65" stroke="#888888" stroke-width="1.3" fill="none"/>
<rect x="137.15" y="223.15" width="5.8" height="5.8" fill="#fff" stroke="#888888" stroke-width="1.5"/>
<path d="M151.16 228.81V231.81M148.56 231.81H153.76" stroke="#888888" stroke-width="1.3" fill="none"/>
<rect x="148.26" y="225.91" width="5.8" height="5.8" fill="#fff" stroke="#888888" stroke-width="1.5"/>
<path d="M162.28 234.22V237.22M159.68 237.22H164.88" stroke="#888888" stroke-width="1.3" fill="none"/>
<rect x="159.38" y="231.32" width="5.8" height="5.8" fill="#fff" stroke="#888888" stroke-width="1.5"/>
<path d="M173.39 242.13V248.13M170.79 248.13H175.99" stroke="#888888" stroke-width="1.3" fill="none"/>
<rect x="170.49" y="239.23" width="5.8" height="5.8" fill="#fff" stroke="#888888" stroke-width="1.5"/>
<path d="M184.5 256.47V262.47M181.91 262.47H187.1" stroke="#888888" stroke-width="1.3" fill="none"/>
<rect x="181.6" y="253.57" width="5.8" height="5.8" fill="#fff" stroke="#888888" stroke-width="1.5"/>
<path d="M195.62 274.77V280.77M193.02 280.77H198.22" stroke="#888888" stroke-width="1.3" fill="none"/>
<rect x="192.72" y="271.87" width="5.8" height="5.8" fill="#fff" stroke="#888888" stroke-width="1.5"/>
<path d="M206.74 300.06V306.06M204.14 306.06H209.34" stroke="#888888" stroke-width="1.3" fill="none"/>
<rect x="203.84" y="297.16" width="5.8" height="5.8" fill="#fff" stroke="#888888" stroke-width="1.5"/>
<path d="M217.85 326.78V332.78M215.25 332.78H220.45" stroke="#888888" stroke-width="1.3" fill="none"/>
<rect x="214.95" y="323.88" width="5.8" height="5.8" fill="#fff" stroke="#888888" stroke-width="1.5"/>
<path d="M228.97 350.01V356.01M226.37 356.01H231.56" stroke="#888888" stroke-width="1.3" fill="none"/>
<rect x="226.06" y="347.11" width="5.8" height="5.8" fill="#fff" stroke="#888888" stroke-width="1.5"/>
<path d="M240.08 365.2V371.2M237.48 371.2H242.68" stroke="#888888" stroke-width="1.3" fill="none"/>
<rect x="237.18" y="362.3" width="5.8" height="5.8" fill="#fff" stroke="#888888" stroke-width="1.5"/>
<path d="M251.19 375.8V381.8M248.59 381.8H253.79" stroke="#888888" stroke-width="1.3" fill="none"/>
<rect x="248.29" y="372.9" width="5.8" height="5.8" fill="#fff" stroke="#888888" stroke-width="1.5"/>
<path d="M262.31 384.09V390.09M259.71 390.09H264.91" stroke="#888888" stroke-width="1.3" fill="none"/>
<rect x="259.41" y="381.19" width="5.8" height="5.8" fill="#fff" stroke="#888888" stroke-width="1.5"/>
<path d="M273.43 386.33V389.33M270.82 389.33H276.03" stroke="#888888" stroke-width="1.3" fill="none"/>
<rect x="270.53" y="383.43" width="5.8" height="5.8" fill="#fff" stroke="#888888" stroke-width="1.5"/>
<path d="M284.54 389.13V392.13M281.94 392.13H287.14" stroke="#888888" stroke-width="1.3" fill="none"/>
<rect x="281.64" y="386.23" width="5.8" height="5.8" fill="#fff" stroke="#888888" stroke-width="1.5"/>
<path d="M295.65 390.75V393.75M293.05 393.75H298.25" stroke="#888888" stroke-width="1.3" fill="none"/>
<rect x="292.75" y="387.85" width="5.8" height="5.8" fill="#fff" stroke="#888888" stroke-width="1.5"/>
<path d="M306.77 391.05V394.05M304.17 394.05H309.37" stroke="#888888" stroke-width="1.3" fill="none"/>
<rect x="303.87" y="388.15" width="5.8" height="5.8" fill="#fff" stroke="#888888" stroke-width="1.5"/>
<path d="M317.88 390.4V393.4M315.28 393.4H320.49" stroke="#888888" stroke-width="1.3" fill="none"/>
<rect x="314.99" y="387.5" width="5.8" height="5.8" fill="#fff" stroke="#888888" stroke-width="1.5"/>
<path d="M329 390.36V393.36M326.4 393.36H331.6" stroke="#888888" stroke-width="1.3" fill="none"/>
<rect x="326.1" y="387.46" width="5.8" height="5.8" fill="#fff" stroke="#888888" stroke-width="1.5"/>
<path d="M151.16 392.17V395.17M148.56 395.17H153.76" stroke="#888888" stroke-width="1.3" fill="none"/>
<rect x="148.26" y="389.27" width="5.8" height="5.8" fill="#fff" stroke="#888888" stroke-width="1.5"/>
<path d="M162.28 390.98V393.98M159.68 393.98H164.88" stroke="#888888" stroke-width="1.3" fill="none"/>
<rect x="159.38" y="388.08" width="5.8" height="5.8" fill="#fff" stroke="#888888" stroke-width="1.5"/>
<path d="M173.39 392.04V395.04M170.79 395.04H175.99" stroke="#888888" stroke-width="1.3" fill="none"/>
<rect x="170.49" y="389.14" width="5.8" height="5.8" fill="#fff" stroke="#888888" stroke-width="1.5"/>
<path d="M184.5 390.54V393.54M181.91 393.54H187.1" stroke="#888888" stroke-width="1.3" fill="none"/>
<rect x="181.6" y="387.64" width="5.8" height="5.8" fill="#fff" stroke="#888888" stroke-width="1.5"/>
<path d="M195.62 391.04V394.04M193.02 394.04H198.22" stroke="#888888" stroke-width="1.3" fill="none"/>
<rect x="192.72" y="388.14" width="5.8" height="5.8" fill="#fff" stroke="#888888" stroke-width="1.5"/>
<path d="M206.74 389.41V392.41M204.14 392.41H209.34" stroke="#888888" stroke-width="1.3" fill="none"/>
<rect x="203.84" y="386.51" width="5.8" height="5.8" fill="#fff" stroke="#888888" stroke-width="1.5"/>
<path d="M217.85 388.25V391.25M215.25 391.25H220.45" stroke="#888888" stroke-width="1.3" fill="none"/>
<rect x="214.95" y="385.35" width="5.8" height="5.8" fill="#fff" stroke="#888888" stroke-width="1.5"/>
<path d="M228.97 387.44V390.44M226.37 390.44H231.56" stroke="#888888" stroke-width="1.3" fill="none"/>
<rect x="226.06" y="384.54" width="5.8" height="5.8" fill="#fff" stroke="#888888" stroke-width="1.5"/>
<path d="M240.08 383.25V386.25M237.48 386.25H242.68" stroke="#888888" stroke-width="1.3" fill="none"/>
<rect x="237.18" y="380.35" width="5.8" height="5.8" fill="#fff" stroke="#888888" stroke-width="1.5"/>
<path d="M251.19 378.98V381.98M248.59 381.98H253.79" stroke="#888888" stroke-width="1.3" fill="none"/>
<rect x="248.29" y="376.08" width="5.8" height="5.8" fill="#fff" stroke="#888888" stroke-width="1.5"/>
<path d="M262.31 369.89V375.89M259.71 375.89H264.91" stroke="#888888" stroke-width="1.3" fill="none"/>
<rect x="259.41" y="366.99" width="5.8" height="5.8" fill="#fff" stroke="#888888" stroke-width="1.5"/>
<path d="M273.43 353.82V359.82M270.82 359.82H276.03" stroke="#888888" stroke-width="1.3" fill="none"/>
<rect x="270.53" y="350.92" width="5.8" height="5.8" fill="#fff" stroke="#888888" stroke-width="1.5"/>
<path d="M284.54 333.88V339.88M281.94 339.88H287.14" stroke="#888888" stroke-width="1.3" fill="none"/>
<rect x="281.64" y="330.98" width="5.8" height="5.8" fill="#fff" stroke="#888888" stroke-width="1.5"/>
<path d="M295.65 308.21V314.21M293.05 314.21H298.25" stroke="#888888" stroke-width="1.3" fill="none"/>
<rect x="292.75" y="305.31" width="5.8" height="5.8" fill="#fff" stroke="#888888" stroke-width="1.5"/>
<path d="M306.77 282.45V288.45M304.17 288.45H309.37" stroke="#888888" stroke-width="1.3" fill="none"/>
<rect x="303.87" y="279.55" width="5.8" height="5.8" fill="#fff" stroke="#888888" stroke-width="1.5"/>
<path d="M317.88 260.96V266.96M315.28 266.96H320.49" stroke="#888888" stroke-width="1.3" fill="none"/>
<rect x="314.99" y="258.06" width="5.8" height="5.8" fill="#fff" stroke="#888888" stroke-width="1.5"/>
<path d="M329 246.85V252.85M326.4 252.85H331.6" stroke="#888888" stroke-width="1.3" fill="none"/>
<rect x="326.1" y="243.95" width="5.8" height="5.8" fill="#fff" stroke="#888888" stroke-width="1.5"/>
<path d="M340.12 237.52V243.52M337.51 243.52H342.72" stroke="#888888" stroke-width="1.3" fill="none"/>
<rect x="337.22" y="234.62" width="5.8" height="5.8" fill="#fff" stroke="#888888" stroke-width="1.5"/>
<path d="M351.23 230.21V236.21M348.63 236.21H353.83" stroke="#888888" stroke-width="1.3" fill="none"/>
<rect x="348.33" y="227.31" width="5.8" height="5.8" fill="#fff" stroke="#888888" stroke-width="1.5"/>
<path d="M362.35 228.12V231.12M359.75 231.12H364.95" stroke="#888888" stroke-width="1.3" fill="none"/>
<rect x="359.45" y="225.22" width="5.8" height="5.8" fill="#fff" stroke="#888888" stroke-width="1.5"/>
<path d="M373.46 225.06V228.06M370.86 228.06H376.06" stroke="#888888" stroke-width="1.3" fill="none"/>
<rect x="370.56" y="222.16" width="5.8" height="5.8" fill="#fff" stroke="#888888" stroke-width="1.5"/>
<path d="M384.57 224.22V227.22M381.97 227.22H387.18" stroke="#888888" stroke-width="1.3" fill="none"/>
<rect x="381.68" y="221.32" width="5.8" height="5.8" fill="#fff" stroke="#888888" stroke-width="1.5"/>
<path d="M395.69 224.75V227.75M393.09 227.75H398.29" stroke="#888888" stroke-width="1.3" fill="none"/>
<rect x="392.79" y="221.85" width="5.8" height="5.8" fill="#fff" stroke="#888888" stroke-width="1.5"/>
<path d="M406.81 224.3V227.3M404.2 227.3H409.41" stroke="#888888" stroke-width="1.3" fill="none"/>
<rect x="403.91" y="221.4" width="5.8" height="5.8" fill="#fff" stroke="#888888" stroke-width="1.5"/>
<path d="M417.92 224.03V227.03M415.32 227.03H420.52" stroke="#888888" stroke-width="1.3" fill="none"/>
<rect x="415.02" y="221.13" width="5.8" height="5.8" fill="#fff" stroke="#888888" stroke-width="1.5"/>
<path d="M62.24 220.12V223.62M59.64 220.12H64.84" stroke="#800080" stroke-width="1.3" fill="none"/>
<rect x="59.34" y="220.72" width="5.8" height="5.8" fill="#fff" stroke="#800080" stroke-width="1.5"/>
<path d="M73.36 220.23V223.73M70.76 220.23H75.96" stroke="#800080" stroke-width="1.3" fill="none"/>
<rect x="70.46" y="220.83" width="5.8" height="5.8" fill="#fff" stroke="#800080" stroke-width="1.5"/>
<path d="M84.47 220.33V223.83M81.87 220.33H87.07" stroke="#800080" stroke-width="1.3" fill="none"/>
<rect x="81.57" y="220.93" width="5.8" height="5.8" fill="#fff" stroke="#800080" stroke-width="1.5"/>
<path d="M95.59 220.26V223.76M92.99 220.26H98.19" stroke="#800080" stroke-width="1.3" fill="none"/>
<rect x="92.69" y="220.86" width="5.8" height="5.8" fill="#fff" stroke="#800080" stroke-width="1.5"/>
<path d="M106.7 219.71V223.21M104.1 219.71H109.3" stroke="#800080" stroke-width="1.3" fill="none"/>
<rect x="103.8" y="220.31" width="5.8" height="5.8" fill="#fff" stroke="#800080" stroke-width="1.5"/>
<path d="M117.82 220.77V224.27M115.22 220.77H120.42" stroke="#800080" stroke-width="1.3" fill="none"/>
<rect x="114.92" y="221.37" width="5.8" height="5.8" fill="#fff" stroke="#800080" stroke-width="1.5"/>
<path d="M128.93 221.29V224.79M126.33 221.29H131.53" stroke="#800080" stroke-width="1.3" fill="none"/>
<rect x="126.03" y="221.89" width="5.8" height="5.8" fill="#fff" stroke="#800080" stroke-width="1.5"/>
<path d="M140.05 221.42V224.92M137.45 221.42H142.65" stroke="#800080" stroke-width="1.3" fill="none"/>
<rect x="137.15" y="222.02" width="5.8" height="5.8" fill="#fff" stroke="#800080" stroke-width="1.5"/>
<path d="M151.16 223.78V227.28M148.56 223.78H153.76" stroke="#800080" stroke-width="1.3" fill="none"/>
<rect x="148.26" y="224.38" width="5.8" height="5.8" fill="#fff" stroke="#800080" stroke-width="1.5"/>
<path d="M162.28 222.82V229.82M159.68 222.82H164.88" stroke="#800080" stroke-width="1.3" fill="none"/>
<rect x="159.38" y="226.92" width="5.8" height="5.8" fill="#fff" stroke="#800080" stroke-width="1.5"/>
<path d="M173.39 226.46V233.46M170.79 226.46H175.99" stroke="#800080" stroke-width="1.3" fill="none"/>
<rect x="170.49" y="230.56" width="5.8" height="5.8" fill="#fff" stroke="#800080" stroke-width="1.5"/>
<path d="M184.5 236.34V243.34M181.91 236.34H187.1" stroke="#800080" stroke-width="1.3" fill="none"/>
<rect x="181.6" y="240.44" width="5.8" height="5.8" fill="#fff" stroke="#800080" stroke-width="1.5"/>
<path d="M195.62 251.23V258.23M193.02 251.23H198.22" stroke="#800080" stroke-width="1.3" fill="none"/>
<rect x="192.72" y="255.33" width="5.8" height="5.8" fill="#fff" stroke="#800080" stroke-width="1.5"/>
<path d="M206.74 274.33V281.33M204.14 274.33H209.34" stroke="#800080" stroke-width="1.3" fill="none"/>
<rect x="203.84" y="278.43" width="5.8" height="5.8" fill="#fff" stroke="#800080" stroke-width="1.5"/>
<path d="M217.85 300.77V307.77M215.25 300.77H220.45" stroke="#800080" stroke-width="1.3" fill="none"/>
<rect x="214.95" y="304.87" width="5.8" height="5.8" fill="#fff" stroke="#800080" stroke-width="1.5"/>
<path d="M228.97 327.69V334.69M226.37 327.69H231.56" stroke="#800080" stroke-width="1.3" fill="none"/>
<rect x="226.06" y="331.79" width="5.8" height="5.8" fill="#fff" stroke="#800080" stroke-width="1.5"/>
<path d="M240.08 350.84V357.84M237.48 350.84H242.68" stroke="#800080" stroke-width="1.3" fill="none"/>
<rect x="237.18" y="354.94" width="5.8" height="5.8" fill="#fff" stroke="#800080" stroke-width="1.5"/>
<path d="M251.19 364.58V371.58M248.59 364.58H253.79" stroke="#800080" stroke-width="1.3" fill="none"/>
<rect x="248.29" y="368.68" width="5.8" height="5.8" fill="#fff" stroke="#800080" stroke-width="1.5"/>
<path d="M262.31 373.52V380.52M259.71 373.52H264.91" stroke="#800080" stroke-width="1.3" fill="none"/>
<rect x="259.41" y="377.62" width="5.8" height="5.8" fill="#fff" stroke="#800080" stroke-width="1.5"/>
<path d="M273.43 383.16V386.66M270.82 383.16H276.03" stroke="#800080" stroke-width="1.3" fill="none"/>
<rect x="270.53" y="383.76" width="5.8" height="5.8" fill="#fff" stroke="#800080" stroke-width="1.5"/>
<path d="M284.54 384.69V388.19M281.94 384.69H287.14" stroke="#800080" stroke-width="1.3" fill="none"/>
<rect x="281.64" y="385.29" width="5.8" height="5.8" fill="#fff" stroke="#800080" stroke-width="1.5"/>
<path d="M295.65 386.4V389.9M293.05 386.4H298.25" stroke="#800080" stroke-width="1.3" fill="none"/>
<rect x="292.75" y="387" width="5.8" height="5.8" fill="#fff" stroke="#800080" stroke-width="1.5"/>
<path d="M306.77 386.69V390.19M304.17 386.69H309.37" stroke="#800080" stroke-width="1.3" fill="none"/>
<rect x="303.87" y="387.29" width="5.8" height="5.8" fill="#fff" stroke="#800080" stroke-width="1.5"/>
<path d="M317.88 387.71V391.21M315.28 387.71H320.49" stroke="#800080" stroke-width="1.3" fill="none"/>
<rect x="314.99" y="388.31" width="5.8" height="5.8" fill="#fff" stroke="#800080" stroke-width="1.5"/>
<path d="M329 387.19V390.69M326.4 387.19H331.6" stroke="#800080" stroke-width="1.3" fill="none"/>
<rect x="326.1" y="387.79" width="5.8" height="5.8" fill="#fff" stroke="#800080" stroke-width="1.5"/>
<path d="M151.16 387.23V390.73M148.56 387.23H153.76" stroke="#800080" stroke-width="1.3" fill="none"/>
<rect x="148.26" y="387.83" width="5.8" height="5.8" fill="#fff" stroke="#800080" stroke-width="1.5"/>
<path d="M162.28 388.59V392.09M159.68 388.59H164.88" stroke="#800080" stroke-width="1.3" fill="none"/>
<rect x="159.38" y="389.19" width="5.8" height="5.8" fill="#fff" stroke="#800080" stroke-width="1.5"/>
<path d="M173.39 388.37V391.87M170.79 388.37H175.99" stroke="#800080" stroke-width="1.3" fill="none"/>
<rect x="170.49" y="388.97" width="5.8" height="5.8" fill="#fff" stroke="#800080" stroke-width="1.5"/>
<path d="M184.5 386.86V390.36M181.91 386.86H187.1" stroke="#800080" stroke-width="1.3" fill="none"/>
<rect x="181.6" y="387.46" width="5.8" height="5.8" fill="#fff" stroke="#800080" stroke-width="1.5"/>
<path d="M195.62 385.76V389.26M193.02 385.76H198.22" stroke="#800080" stroke-width="1.3" fill="none"/>
<rect x="192.72" y="386.36" width="5.8" height="5.8" fill="#fff" stroke="#800080" stroke-width="1.5"/>
<path d="M206.74 386.23V389.73M204.14 386.23H209.34" stroke="#800080" stroke-width="1.3" fill="none"/>
<rect x="203.84" y="386.83" width="5.8" height="5.8" fill="#fff" stroke="#800080" stroke-width="1.5"/>
<path d="M217.85 384.03V387.53M215.25 384.03H220.45" stroke="#800080" stroke-width="1.3" fill="none"/>
<rect x="214.95" y="384.63" width="5.8" height="5.8" fill="#fff" stroke="#800080" stroke-width="1.5"/>
<path d="M228.97 380.49V383.99M226.37 380.49H231.56" stroke="#800080" stroke-width="1.3" fill="none"/>
<rect x="226.06" y="381.09" width="5.8" height="5.8" fill="#fff" stroke="#800080" stroke-width="1.5"/>
<path d="M240.08 375.24V378.74M237.48 375.24H242.68" stroke="#800080" stroke-width="1.3" fill="none"/>
<rect x="237.18" y="375.84" width="5.8" height="5.8" fill="#fff" stroke="#800080" stroke-width="1.5"/>
<path d="M251.19 362.29V368.79M248.59 362.29H253.79" stroke="#800080" stroke-width="1.3" fill="none"/>
<rect x="248.29" y="365.89" width="5.8" height="5.8" fill="#fff" stroke="#800080" stroke-width="1.5"/>
<path d="M262.31 346.88V353.38M259.71 346.88H264.91" stroke="#800080" stroke-width="1.3" fill="none"/>
<rect x="259.41" y="350.48" width="5.8" height="5.8" fill="#fff" stroke="#800080" stroke-width="1.5"/>
<path d="M273.43 325.07V331.57M270.82 325.07H276.03" stroke="#800080" stroke-width="1.3" fill="none"/>
<rect x="270.53" y="328.67" width="5.8" height="5.8" fill="#fff" stroke="#800080" stroke-width="1.5"/>
<path d="M284.54 298.79V305.29M281.94 298.79H287.14" stroke="#800080" stroke-width="1.3" fill="none"/>
<rect x="281.64" y="302.39" width="5.8" height="5.8" fill="#fff" stroke="#800080" stroke-width="1.5"/>
<path d="M295.65 273.96V280.46M293.05 273.96H298.25" stroke="#800080" stroke-width="1.3" fill="none"/>
<rect x="292.75" y="277.56" width="5.8" height="5.8" fill="#fff" stroke="#800080" stroke-width="1.5"/>
<path d="M306.77 253.04V259.54M304.17 253.04H309.37" stroke="#800080" stroke-width="1.3" fill="none"/>
<rect x="303.87" y="256.64" width="5.8" height="5.8" fill="#fff" stroke="#800080" stroke-width="1.5"/>
<path d="M317.88 237.71V244.21M315.28 237.71H320.49" stroke="#800080" stroke-width="1.3" fill="none"/>
<rect x="314.99" y="241.31" width="5.8" height="5.8" fill="#fff" stroke="#800080" stroke-width="1.5"/>
<path d="M329 230.12V236.62M326.4 230.12H331.6" stroke="#800080" stroke-width="1.3" fill="none"/>
<rect x="326.1" y="233.72" width="5.8" height="5.8" fill="#fff" stroke="#800080" stroke-width="1.5"/>
<path d="M340.12 223.72V230.22M337.51 223.72H342.72" stroke="#800080" stroke-width="1.3" fill="none"/>
<rect x="337.22" y="227.32" width="5.8" height="5.8" fill="#fff" stroke="#800080" stroke-width="1.5"/>
<path d="M351.23 223.42V226.92M348.63 223.42H353.83" stroke="#800080" stroke-width="1.3" fill="none"/>
<rect x="348.33" y="224.02" width="5.8" height="5.8" fill="#fff" stroke="#800080" stroke-width="1.5"/>
<path d="M362.35 222.66V226.16M359.75 222.66H364.95" stroke="#800080" stroke-width="1.3" fill="none"/>
<rect x="359.45" y="223.26" width="5.8" height="5.8" fill="#fff" stroke="#800080" stroke-width="1.5"/>
<path d="M373.46 221.96V225.46M370.86 221.96H376.06" stroke="#800080" stroke-width="1.3" fill="none"/>
<rect x="370.56" y="222.56" width="5.8" height="5.8" fill="#fff" stroke="#800080" stroke-width="1.5"/>
<path d="M384.57 220.32V223.82M381.97 220.32H387.18" stroke="#800080" stroke-width="1.3" fill="none"/>
<rect x="381.68" y="220.92" width="5.8" height="5.8" fill="#fff" stroke="#800080" stroke-width="1.5"/>
<path d="M395.69 221.21V224.71M393.09 221.21H398.29" stroke="#800080" stroke-width="1.3" fill="none"/>
<rect x="392.79" y="221.81" width="5.8" height="5.8" fill="#fff" stroke="#800080" stroke-width="1.5"/>
<path d="M406.81 221.18V224.68M404.2 221.18H409.41" stroke="#800080" stroke-width="1.3" fill="none"/>
<rect x="403.91" y="221.78" width="5.8" height="5.8" fill="#fff" stroke="#800080" stroke-width="1.5"/>
<path d="M417.92 220.61V224.11M415.32 220.61H420.52" stroke="#800080" stroke-width="1.3" fill="none"/>
<rect x="415.02" y="221.21" width="5.8" height="5.8" fill="#fff" stroke="#800080" stroke-width="1.5"/>
<polyline points="62.24,223.94 64.46,223.94 66.69,223.95 68.91,223.95 71.13,223.96 73.36,223.97 75.58,223.98 77.8,223.99 80.02,224 82.25,224.02 84.47,224.03 86.69,224.05 88.92,224.07 91.14,224.09 93.36,224.12 95.59,224.15 97.81,224.18 100.03,224.22 102.25,224.26 104.48,224.31 106.7,224.37 108.92,224.43 111.15,224.5 113.37,224.59 115.59,224.68 117.82,224.78 120.04,224.9 122.26,225.03 124.48,225.19 126.71,225.36 128.93,225.55 131.15,225.77 133.38,226.02 135.6,226.31 137.82,226.63 140.05,226.99 142.27,227.39 144.49,227.85 146.71,228.37 148.94,228.96 151.16,229.62 153.38,230.36 155.61,231.2 157.83,232.13 160.05,233.18 162.28,234.35 164.5,235.67 166.72,237.13 168.94,238.76 171.17,240.56 173.39,242.56 175.61,244.76 177.84,247.19 180.06,249.84 182.28,252.74 184.5,255.89 186.73,259.29 188.95,262.95 191.17,266.87 193.4,271.03 195.62,275.44 197.84,280.06 200.07,284.88 202.29,289.86 204.51,294.98 206.74,300.2 208.96,305.48 211.18,310.78 213.4,316.05 215.63,321.25 217.85,326.35 220.07,331.3 222.3,336.08 224.52,340.66 226.74,345.02 228.97,349.14 231.19,353 233.41,356.61 235.63,359.96 237.86,363.06 240.08,365.91 242.3,368.52 244.53,370.9 246.75,373.06 248.97,375.02 251.19,376.78 253.42,378.38 255.64,379.81 257.86,381.09 260.09,382.24 262.31,383.26 264.53,384.18 266.76,384.99 268.98,385.72 271.2,386.36 273.43,386.93 275.65,387.44 277.87,387.89 280.09,388.29 282.32,388.64 284.54,388.95 286.76,389.23 288.99,389.47 291.21,389.69 293.43,389.88 295.65,390.05 297.88,390.19 300.1,390.32 302.32,390.44 304.55,390.54 306.77,390.63 308.99,390.71 311.22,390.78 313.44,390.84 315.66,390.9 317.88,390.94 320.11,390.99 322.33,391.02 324.55,391.06 326.78,391.09 329,391.11" fill="none" stroke="#888888" stroke-width="1.6" stroke-linejoin="round" stroke-linecap="round" />
<polyline points="151.16,391.25 153.38,391.24 155.61,391.24 157.83,391.23 160.05,391.22 162.28,391.21 164.5,391.2 166.72,391.18 168.94,391.17 171.17,391.15 173.39,391.13 175.61,391.1 177.84,391.08 180.06,391.05 182.28,391.02 184.5,390.98 186.73,390.93 188.95,390.89 191.17,390.83 193.4,390.77 195.62,390.7 197.84,390.62 200.07,390.53 202.29,390.43 204.51,390.31 206.74,390.18 208.96,390.03 211.18,389.86 213.4,389.67 215.63,389.46 217.85,389.22 220.07,388.95 222.3,388.64 224.52,388.29 226.74,387.9 228.97,387.45 231.19,386.95 233.41,386.39 235.63,385.76 237.86,385.05 240.08,384.25 242.3,383.36 244.53,382.36 246.75,381.24 248.97,379.99 251.19,378.6 253.42,377.05 255.64,375.34 257.86,373.44 260.09,371.35 262.31,369.04 264.53,366.52 266.76,363.76 268.98,360.76 271.2,357.52 273.43,354.02 275.65,350.27 277.87,346.28 280.09,342.05 282.32,337.59 284.54,332.94 286.76,328.1 288.99,323.11 291.21,318.01 293.43,312.82 295.65,307.6 297.88,302.38 300.1,297.19 302.32,292.09 304.55,287.1 306.77,282.26 308.99,277.61 311.22,273.15 313.44,268.92 315.66,264.93 317.88,261.18 320.11,257.68 322.33,254.44 324.55,251.44 326.78,248.68 329,246.16 331.22,243.85 333.45,241.76 335.67,239.86 337.89,238.15 340.12,236.6 342.34,235.21 344.56,233.96 346.78,232.84 349.01,231.84 351.23,230.95 353.45,230.15 355.68,229.44 357.9,228.81 360.12,228.25 362.35,227.75 364.57,227.3 366.79,226.91 369.01,226.56 371.24,226.25 373.46,225.98 375.68,225.74 377.91,225.53 380.13,225.34 382.35,225.17 384.57,225.02 386.8,224.89 389.02,224.77 391.24,224.67 393.47,224.58 395.69,224.5 397.91,224.43 400.14,224.37 402.36,224.31 404.58,224.27 406.81,224.22 409.03,224.18 411.25,224.15 413.47,224.12 415.7,224.1 417.92,224.07" fill="none" stroke="#888888" stroke-width="1.6" stroke-linejoin="round" stroke-linecap="round" />
<polyline points="62.24,223.91 64.46,223.91 66.69,223.92 68.91,223.92 71.13,223.92 73.36,223.93 75.58,223.93 77.8,223.93 80.02,223.94 82.25,223.94 84.47,223.95 86.69,223.96 88.92,223.97 91.14,223.98 93.36,223.99 95.59,224 97.81,224.01 100.03,224.03 102.25,224.05 104.48,224.07 106.7,224.09 108.92,224.12 111.15,224.15 113.37,224.19 115.59,224.23 117.82,224.28 120.04,224.34 122.26,224.4 124.48,224.47 126.71,224.55 128.93,224.65 131.15,224.76 133.38,224.88 135.6,225.02 137.82,225.18 140.05,225.37 142.27,225.57 144.49,225.81 146.71,226.09 148.94,226.4 151.16,226.76 153.38,227.16 155.61,227.62 157.83,228.15 160.05,228.74 162.28,229.42 164.5,230.19 166.72,231.06 168.94,232.05 171.17,233.16 173.39,234.42 175.61,235.83 177.84,237.41 180.06,239.19 182.28,241.18 184.5,243.38 186.73,245.83 188.95,248.54 191.17,251.52 193.4,254.78 195.62,258.33 197.84,262.17 200.07,266.3 202.29,270.72 204.51,275.41 206.74,280.35 208.96,285.51 211.18,290.86 213.4,296.36 215.63,301.95 217.85,307.6 220.07,313.25 222.3,318.84 224.52,324.34 226.74,329.69 228.97,334.85 231.19,339.79 233.41,344.48 235.63,348.9 237.86,353.03 240.08,356.87 242.3,360.42 244.53,363.68 246.75,366.66 248.97,369.37 251.19,371.82 253.42,374.02 255.64,376.01 257.86,377.79 260.09,379.37 262.31,380.78 264.53,382.04 266.76,383.15 268.98,384.14 271.2,385.01 273.43,385.78 275.65,386.46 277.87,387.05 280.09,387.58 282.32,388.04 284.54,388.44 286.76,388.8 288.99,389.11 291.21,389.39 293.43,389.63 295.65,389.83 297.88,390.02 300.1,390.18 302.32,390.32 304.55,390.44 306.77,390.55 308.99,390.65 311.22,390.73 313.44,390.8 315.66,390.86 317.88,390.92 320.11,390.97 322.33,391.01 324.55,391.05 326.78,391.08 329,391.11" fill="none" stroke="#800080" stroke-width="1.6" stroke-linejoin="round" stroke-linecap="round" />
<polyline points="151.16,391.21 153.38,391.2 155.61,391.19 157.83,391.17 160.05,391.15 162.28,391.13 164.5,391.11 166.72,391.09 168.94,391.06 171.17,391.02 173.39,390.99 175.61,390.94 177.84,390.9 180.06,390.84 182.28,390.78 184.5,390.71 186.73,390.63 188.95,390.54 191.17,390.44 193.4,390.32 195.62,390.19 197.84,390.05 200.07,389.88 202.29,389.69 204.51,389.47 206.74,389.23 208.96,388.95 211.18,388.64 213.4,388.29 215.63,387.89 217.85,387.44 220.07,386.93 222.3,386.36 224.52,385.72 226.74,384.99 228.97,384.18 231.19,383.26 233.41,382.24 235.63,381.09 237.86,379.81 240.08,378.38 242.3,376.78 244.53,375.02 246.75,373.06 248.97,370.9 251.19,368.52 253.42,365.91 255.64,363.06 257.86,359.96 260.09,356.61 262.31,353 264.53,349.14 266.76,345.02 268.98,340.66 271.2,336.08 273.43,331.3 275.65,326.35 277.87,321.25 280.09,316.05 282.32,310.78 284.54,305.48 286.76,300.2 288.99,294.98 291.21,289.86 293.43,284.88 295.65,280.06 297.88,275.44 300.1,271.03 302.32,266.87 304.55,262.95 306.77,259.29 308.99,255.89 311.22,252.74 313.44,249.84 315.66,247.19 317.88,244.76 320.11,242.56 322.33,240.56 324.55,238.76 326.78,237.13 329,235.67 331.22,234.35 333.45,233.18 335.67,232.13 337.89,231.2 340.12,230.36 342.34,229.62 344.56,228.96 346.78,228.37 349.01,227.85 351.23,227.39 353.45,226.99 355.68,226.63 357.9,226.31 360.12,226.02 362.35,225.77 364.57,225.55 366.79,225.36 369.01,225.19 371.24,225.03 373.46,224.9 375.68,224.78 377.91,224.68 380.13,224.59 382.35,224.5 384.57,224.43 386.8,224.37 389.02,224.31 391.24,224.26 393.47,224.22 395.69,224.18 397.91,224.15 400.14,224.12 402.36,224.09 404.58,224.07 406.81,224.05 409.03,224.03 411.25,224.02 413.47,224 415.7,223.99 417.92,223.98" fill="none" stroke="#800080" stroke-width="1.6" stroke-linejoin="round" stroke-linecap="round" />
<circle cx="79.7" cy="337.9" r="5.0" fill="#000"/>
<rect x="76.4" y="349.4" width="6.6" height="6.6" fill="#fff" stroke="#888888" stroke-width="1.5"/>
<rect x="76.4" y="367.3" width="6.6" height="6.6" fill="#fff" stroke="#800080" stroke-width="1.5"/>
<g transform="translate(92.6 342.1) scale(0.9807 1)" fill="#111" ><text x="0" y="0" font-size="11.2" xml:space="preserve">WT</text><text x="17.41" y="0.45" font-size="11.2" xml:space="preserve">*</text><text x="21.77" y="0" font-size="11.2" xml:space="preserve"> (10,10)</text></g>
<g transform="translate(92.6 356.6) scale(0.9909 1)" fill="#111" ><text x="0" y="0" font-size="11.2" xml:space="preserve">WT + </text><text x="29.97" y="0" font-size="11.2" xml:space="preserve">&#946;</text><text x="36.42" y="2.46" font-size="8.29" xml:space="preserve">2</text><text x="41.03" y="0" font-size="11.2" xml:space="preserve"> (14,12)</text></g>
<g transform="translate(92.6 373) scale(0.9808 1)" fill="#111" ><text x="0" y="0" font-size="11.2" xml:space="preserve">K905N + </text><text x="47.01" y="0" font-size="11.2" xml:space="preserve">&#946;</text><text x="53.45" y="2.46" font-size="8.29" xml:space="preserve">2</text><text x="58.06" y="0" font-size="11.2" xml:space="preserve"> (15,14)</text></g>
<line x1="509.8" y1="212.9" x2="509.8" y2="400" stroke="#000" stroke-width="1.5" />
<line x1="508.7" y1="403.2" x2="676.8" y2="403.2" stroke="#000" stroke-width="1.5" />
<line x1="505.2" y1="390" x2="509.8" y2="390" stroke="#000" stroke-width="1.3" />
<line x1="506.8" y1="347.75" x2="509.8" y2="347.75" stroke="#000" stroke-width="1.3" />
<line x1="505.2" y1="305.5" x2="509.8" y2="305.5" stroke="#000" stroke-width="1.3" />
<line x1="506.8" y1="263.25" x2="509.8" y2="263.25" stroke="#000" stroke-width="1.3" />
<line x1="505.2" y1="221" x2="509.8" y2="221" stroke="#000" stroke-width="1.3" />
<text x="500.7" y="394.3" font-size="11.6" fill="#111" text-anchor="end" >0.0</text>
<text x="500.7" y="309.8" font-size="11.6" fill="#111" text-anchor="end" >0.5</text>
<text x="500.7" y="225.3" font-size="11.6" fill="#111" text-anchor="end" >1.0</text>
<line x1="509.02" y1="403.2" x2="509.02" y2="406" stroke="#000" stroke-width="1.1" />
<line x1="513.8" y1="403.2" x2="513.8" y2="406" stroke="#000" stroke-width="1.1" />
<line x1="517.84" y1="403.2" x2="517.84" y2="406" stroke="#000" stroke-width="1.1" />
<line x1="521.35" y1="403.2" x2="521.35" y2="406" stroke="#000" stroke-width="1.1" />
<line x1="524.44" y1="403.2" x2="524.44" y2="406" stroke="#000" stroke-width="1.1" />
<line x1="527.2" y1="403.2" x2="527.2" y2="407.6" stroke="#000" stroke-width="1.3" />
<line x1="545.38" y1="403.2" x2="545.38" y2="406" stroke="#000" stroke-width="1.1" />
<line x1="556.02" y1="403.2" x2="556.02" y2="406" stroke="#000" stroke-width="1.1" />
<line x1="563.56" y1="403.2" x2="563.56" y2="406" stroke="#000" stroke-width="1.1" />
<line x1="569.42" y1="403.2" x2="569.42" y2="406" stroke="#000" stroke-width="1.1" />
<line x1="574.2" y1="403.2" x2="574.2" y2="406" stroke="#000" stroke-width="1.1" />
<line x1="578.24" y1="403.2" x2="578.24" y2="406" stroke="#000" stroke-width="1.1" />
<line x1="581.75" y1="403.2" x2="581.75" y2="406" stroke="#000" stroke-width="1.1" />
<line x1="584.84" y1="403.2" x2="584.84" y2="406" stroke="#000" stroke-width="1.1" />
<line x1="587.6" y1="403.2" x2="587.6" y2="407.6" stroke="#000" stroke-width="1.3" />
<line x1="605.78" y1="403.2" x2="605.78" y2="406" stroke="#000" stroke-width="1.1" />
<line x1="616.42" y1="403.2" x2="616.42" y2="406" stroke="#000" stroke-width="1.1" />
<line x1="623.96" y1="403.2" x2="623.96" y2="406" stroke="#000" stroke-width="1.1" />
<line x1="629.82" y1="403.2" x2="629.82" y2="406" stroke="#000" stroke-width="1.1" />
<line x1="634.6" y1="403.2" x2="634.6" y2="406" stroke="#000" stroke-width="1.1" />
<line x1="638.64" y1="403.2" x2="638.64" y2="406" stroke="#000" stroke-width="1.1" />
<line x1="642.15" y1="403.2" x2="642.15" y2="406" stroke="#000" stroke-width="1.1" />
<line x1="645.24" y1="403.2" x2="645.24" y2="406" stroke="#000" stroke-width="1.1" />
<line x1="648" y1="403.2" x2="648" y2="407.6" stroke="#000" stroke-width="1.3" />
<line x1="666.18" y1="403.2" x2="666.18" y2="406" stroke="#000" stroke-width="1.1" />
<line x1="676.82" y1="403.2" x2="676.82" y2="406" stroke="#000" stroke-width="1.1" />
<text x="527.2" y="420.8" font-size="11.6" fill="#111" text-anchor="middle" >0.1</text>
<text x="587.6" y="420.8" font-size="11.6" fill="#111" text-anchor="middle" >1</text>
<text x="648" y="420.8" font-size="11.6" fill="#111" text-anchor="middle" >10</text>
<g transform="translate(520.8 436.2) scale(1.0078 1)" fill="#111" ><text x="0" y="0" font-size="14" xml:space="preserve">Interpulse duration (ms)</text></g>
<text transform="translate(477.8,319.8) rotate(-90)" font-size="14.2" fill="#111" text-anchor="middle">Normalized current (I/I<tspan font-size="10" dy="2.8">0</tspan><tspan dy="-2.8">)</tspan></text>
<text x="462.3" y="226.2" font-size="24" fill="#000" font-weight="bold" >d</text>
<path d="M527.2 381.59V387.59M524.6 381.59H529.8M524.6 387.59H529.8" stroke="#000" stroke-width="1.3" fill="none"/>
<circle cx="527.2" cy="384.59" r="4.5" fill="#000"/>
<path d="M556.02 354.58V364.58M553.42 354.58H558.62M553.42 364.58H558.62" stroke="#000" stroke-width="1.3" fill="none"/>
<circle cx="556.02" cy="359.58" r="4.5" fill="#000"/>
<path d="M569.42 324.69V338.69M566.82 324.69H572.02M566.82 338.69H572.02" stroke="#000" stroke-width="1.3" fill="none"/>
<circle cx="569.42" cy="331.69" r="4.5" fill="#000"/>
<path d="M587.6 286.16V300.16M585 286.16H590.2M585 300.16H590.2" stroke="#000" stroke-width="1.3" fill="none"/>
<circle cx="587.6" cy="293.16" r="4.5" fill="#000"/>
<path d="M605.78 245.07V255.07M603.18 245.07H608.38M603.18 255.07H608.38" stroke="#000" stroke-width="1.3" fill="none"/>
<circle cx="605.78" cy="250.07" r="4.5" fill="#000"/>
<path d="M616.42 228.49V236.49M613.82 228.49H619.02M613.82 236.49H619.02" stroke="#000" stroke-width="1.3" fill="none"/>
<circle cx="616.42" cy="232.49" r="4.5" fill="#000"/>
<path d="M629.82 219.84V223.84M627.22 219.84H632.42M627.22 223.84H632.42" stroke="#000" stroke-width="1.3" fill="none"/>
<circle cx="629.82" cy="221.84" r="4.5" fill="#000"/>
<path d="M638.64 219V223M636.04 219H641.24M636.04 223H641.24" stroke="#000" stroke-width="1.3" fill="none"/>
<circle cx="638.64" cy="221" r="4.5" fill="#000"/>
<path d="M648 219V223M645.4 219H650.6M645.4 223H650.6" stroke="#000" stroke-width="1.3" fill="none"/>
<circle cx="648" cy="221" r="4.5" fill="#000"/>
<path d="M658.64 218.16V222.16M656.04 218.16H661.24M656.04 222.16H661.24" stroke="#000" stroke-width="1.3" fill="none"/>
<circle cx="658.64" cy="220.16" r="4.5" fill="#000"/>
<path d="M666.18 219V223M663.58 219H668.78M663.58 223H668.78" stroke="#000" stroke-width="1.3" fill="none"/>
<circle cx="666.18" cy="221" r="4.5" fill="#000"/>

<rect x="524.1" y="383.52" width="6.2" height="6.2" fill="#fff" stroke="#888888" stroke-width="1.5"/>
<path d="M556.02 366.72V372.72M553.42 366.72H558.62M553.42 372.72H558.62" stroke="#888888" stroke-width="1.3" fill="none"/>
<rect x="552.92" y="366.62" width="6.2" height="6.2" fill="#fff" stroke="#888888" stroke-width="1.5"/>
<path d="M569.42 341.86V350.26M566.82 341.86H572.02M566.82 350.26H572.02" stroke="#888888" stroke-width="1.3" fill="none"/>
<rect x="566.32" y="342.96" width="6.2" height="6.2" fill="#fff" stroke="#888888" stroke-width="1.5"/>
<path d="M587.6 301.3V309.7M585 301.3H590.2M585 309.7H590.2" stroke="#888888" stroke-width="1.3" fill="none"/>
<rect x="584.5" y="302.4" width="6.2" height="6.2" fill="#fff" stroke="#888888" stroke-width="1.5"/>
<path d="M605.78 257.72V263.72M603.18 257.72H608.38M603.18 263.72H608.38" stroke="#888888" stroke-width="1.3" fill="none"/>
<rect x="602.68" y="257.62" width="6.2" height="6.2" fill="#fff" stroke="#888888" stroke-width="1.5"/>
<path d="M616.42 239.72V244.53M613.82 239.72H619.02M613.82 244.53H619.02" stroke="#888888" stroke-width="1.3" fill="none"/>
<rect x="613.32" y="239.03" width="6.2" height="6.2" fill="#fff" stroke="#888888" stroke-width="1.5"/>

<rect x="626.72" y="225.51" width="6.2" height="6.2" fill="#fff" stroke="#888888" stroke-width="1.5"/>

<rect x="635.54" y="222.12" width="6.2" height="6.2" fill="#fff" stroke="#888888" stroke-width="1.5"/>

<rect x="644.9" y="220.44" width="6.2" height="6.2" fill="#fff" stroke="#888888" stroke-width="1.5"/>

<rect x="655.54" y="219.59" width="6.2" height="6.2" fill="#fff" stroke="#888888" stroke-width="1.5"/>

<rect x="663.08" y="219.59" width="6.2" height="6.2" fill="#fff" stroke="#888888" stroke-width="1.5"/>

<rect x="524.1" y="382.67" width="6.2" height="6.2" fill="#fff" stroke="#800080" stroke-width="1.5"/>
<path d="M556.02 363.34V369.34M553.42 363.34H558.62M553.42 369.34H558.62" stroke="#800080" stroke-width="1.3" fill="none"/>
<rect x="552.92" y="363.24" width="6.2" height="6.2" fill="#fff" stroke="#800080" stroke-width="1.5"/>
<path d="M569.42 338.48V346.88M566.82 338.48H572.02M566.82 346.88H572.02" stroke="#800080" stroke-width="1.3" fill="none"/>
<rect x="566.32" y="339.58" width="6.2" height="6.2" fill="#fff" stroke="#800080" stroke-width="1.5"/>
<path d="M587.6 294.54V302.94M585 294.54H590.2M585 302.94H590.2" stroke="#800080" stroke-width="1.3" fill="none"/>
<rect x="584.5" y="295.64" width="6.2" height="6.2" fill="#fff" stroke="#800080" stroke-width="1.5"/>
<path d="M605.78 251.8V257.8M603.18 251.8H608.38M603.18 257.8H608.38" stroke="#800080" stroke-width="1.3" fill="none"/>
<rect x="602.68" y="251.7" width="6.2" height="6.2" fill="#fff" stroke="#800080" stroke-width="1.5"/>
<path d="M616.42 237.19V241.99M613.82 237.19H619.02M613.82 241.99H619.02" stroke="#800080" stroke-width="1.3" fill="none"/>
<rect x="613.32" y="236.49" width="6.2" height="6.2" fill="#fff" stroke="#800080" stroke-width="1.5"/>

<rect x="626.72" y="222.97" width="6.2" height="6.2" fill="#fff" stroke="#800080" stroke-width="1.5"/>

<rect x="635.54" y="219.59" width="6.2" height="6.2" fill="#fff" stroke="#800080" stroke-width="1.5"/>

<rect x="644.9" y="217.9" width="6.2" height="6.2" fill="#fff" stroke="#800080" stroke-width="1.5"/>

<rect x="655.54" y="217.06" width="6.2" height="6.2" fill="#fff" stroke="#800080" stroke-width="1.5"/>

<rect x="663.08" y="217.9" width="6.2" height="6.2" fill="#fff" stroke="#800080" stroke-width="1.5"/>
<polyline points="527.2,386.62 528.07,386.2 528.94,385.78 529.81,385.33 530.67,384.88 531.54,384.41 532.41,383.92 533.28,383.42 534.15,382.91 535.02,382.38 535.89,381.83 536.76,381.27 537.62,380.69 538.49,380.09 539.36,379.47 540.23,378.84 541.1,378.19 541.97,377.52 542.84,376.83 543.7,376.12 544.57,375.39 545.44,374.63 546.31,373.86 547.18,373.06 548.05,372.25 548.92,371.41 549.78,370.54 550.65,369.65 551.52,368.74 552.39,367.8 553.26,366.84 554.13,365.85 555,364.84 555.87,363.8 556.73,362.73 557.6,361.63 558.47,360.51 559.34,359.36 560.21,358.17 561.08,356.96 561.95,355.72 562.81,354.45 563.68,353.15 564.55,351.82 565.42,350.46 566.29,349.07 567.16,347.65 568.03,346.19 568.89,344.71 569.76,343.19 570.63,341.64 571.5,340.06 572.37,338.45 573.24,336.8 574.11,335.13 574.98,333.42 575.84,331.69 576.71,329.92 577.58,328.13 578.45,326.3 579.32,324.45 580.19,322.56 581.06,320.65 581.92,318.72 582.79,316.76 583.66,314.77 584.53,312.76 585.4,310.73 586.27,308.67 587.14,306.6 588,304.51 588.87,302.4 589.74,300.27 590.61,298.14 591.48,295.99 592.35,293.83 593.22,291.67 594.09,289.5 594.95,287.32 595.82,285.15 596.69,282.98 597.56,280.81 598.43,278.65 599.3,276.49 600.17,274.35 601.03,272.23 601.9,270.12 602.77,268.03 603.64,265.97 604.51,263.93 605.38,261.92 606.25,259.94 607.11,257.99 607.98,256.08 608.85,254.21 609.72,252.38 610.59,250.6 611.46,248.86 612.33,247.17 613.2,245.53 614.06,243.95 614.93,242.42 615.8,240.94 616.67,239.52 617.54,238.16 618.41,236.86 619.28,235.62 620.14,234.44 621.01,233.32 621.88,232.26 622.75,231.26 623.62,230.32 624.49,229.44 625.36,228.61 626.22,227.84 627.09,227.13 627.96,226.48 628.83,225.87 629.7,225.31 630.57,224.8 631.44,224.34 632.31,223.92 633.17,223.55 634.04,223.21 634.91,222.9 635.78,222.63 636.65,222.39 637.52,222.18 638.39,222 639.25,221.84 640.12,221.7 640.99,221.58 641.86,221.48 642.73,221.39 643.6,221.32 644.47,221.26 645.33,221.21 646.2,221.17 647.07,221.13 647.94,221.1 648.81,221.08 649.68,221.06 650.55,221.05 651.42,221.04 652.28,221.03 653.15,221.02 654.02,221.01 654.89,221.01 655.76,221.01 656.63,221.01 657.5,221 658.36,221 659.23,221 660.1,221 660.97,221 661.84,221 662.71,221 663.58,221 664.44,221 665.31,221 666.18,221" fill="none" stroke="#888888" stroke-width="1.4" stroke-linejoin="round" stroke-linecap="round" />
<polyline points="527.2,384.88 528.07,384.39 528.94,383.87 529.81,383.34 530.67,382.8 531.54,382.24 532.41,381.66 533.28,381.06 534.15,380.45 535.02,379.82 535.89,379.17 536.76,378.5 537.62,377.81 538.49,377.1 539.36,376.37 540.23,375.62 541.1,374.85 541.97,374.06 542.84,373.24 543.7,372.4 544.57,371.54 545.44,370.66 546.31,369.74 547.18,368.81 548.05,367.85 548.92,366.86 549.78,365.85 550.65,364.81 551.52,363.74 552.39,362.65 553.26,361.53 554.13,360.38 555,359.2 555.87,357.99 556.73,356.75 557.6,355.48 558.47,354.18 559.34,352.86 560.21,351.5 561.08,350.11 561.95,348.68 562.81,347.23 563.68,345.75 564.55,344.23 565.42,342.68 566.29,341.1 567.16,339.49 568.03,337.85 568.89,336.17 569.76,334.47 570.63,332.73 571.5,330.96 572.37,329.16 573.24,327.34 574.11,325.48 574.98,323.6 575.84,321.69 576.71,319.75 577.58,317.78 578.45,315.79 579.32,313.78 580.19,311.74 581.06,309.68 581.92,307.6 582.79,305.51 583.66,303.39 584.53,301.26 585.4,299.12 586.27,296.96 587.14,294.79 588,292.62 588.87,290.44 589.74,288.25 590.61,286.07 591.48,283.89 592.35,281.7 593.22,279.53 594.09,277.36 594.95,275.21 595.82,273.07 596.69,270.94 597.56,268.84 598.43,266.76 599.3,264.7 600.17,262.67 601.03,260.67 601.9,258.71 602.77,256.78 603.64,254.89 604.51,253.04 605.38,251.23 606.25,249.47 607.11,247.76 607.98,246.1 608.85,244.49 609.72,242.94 610.59,241.44 611.46,240 612.33,238.62 613.2,237.29 614.06,236.03 614.93,234.82 615.8,233.68 616.67,232.6 617.54,231.58 618.41,230.62 619.28,229.71 620.14,228.87 621.01,228.08 621.88,227.35 622.75,226.68 623.62,226.05 624.49,225.48 625.36,224.96 626.22,224.48 627.09,224.05 627.96,223.66 628.83,223.31 629.7,222.99 630.57,222.71 631.44,222.46 632.31,222.24 633.17,222.05 634.04,221.89 634.91,221.74 635.78,221.62 636.65,221.51 637.52,221.42 638.39,221.34 639.25,221.28 640.12,221.22 640.99,221.18 641.86,221.14 642.73,221.11 643.6,221.09 644.47,221.07 645.33,221.05 646.2,221.04 647.07,221.03 647.94,221.02 648.81,221.02 649.68,221.01 650.55,221.01 651.42,221.01 652.28,221 653.15,221 654.02,221 654.89,221 655.76,221 656.63,221 657.5,221 658.36,221 659.23,221 660.1,221 660.97,221 661.84,221 662.71,221 663.58,221 664.44,221 665.31,221 666.18,221" fill="none" stroke="#000" stroke-width="1.5" stroke-linejoin="round" stroke-linecap="round" stroke-dasharray="4.5 3.5" stroke-linecap="butt"/>
<polyline points="527.2,384.9 528.07,384.46 528.94,384 529.81,383.52 530.67,383.04 531.54,382.54 532.41,382.02 533.28,381.49 534.15,380.94 535.02,380.37 535.89,379.79 536.76,379.19 537.62,378.58 538.49,377.94 539.36,377.29 540.23,376.61 541.1,375.92 541.97,375.21 542.84,374.47 543.7,373.72 544.57,372.94 545.44,372.15 546.31,371.33 547.18,370.48 548.05,369.62 548.92,368.72 549.78,367.81 550.65,366.87 551.52,365.9 552.39,364.91 553.26,363.9 554.13,362.85 555,361.78 555.87,360.68 556.73,359.56 557.6,358.4 558.47,357.22 559.34,356 560.21,354.76 561.08,353.49 561.95,352.19 562.81,350.85 563.68,349.49 564.55,348.1 565.42,346.67 566.29,345.22 567.16,343.73 568.03,342.21 568.89,340.66 569.76,339.08 570.63,337.46 571.5,335.82 572.37,334.14 573.24,332.44 574.11,330.7 574.98,328.93 575.84,327.14 576.71,325.31 577.58,323.46 578.45,321.58 579.32,319.67 580.19,317.74 581.06,315.78 581.92,313.79 582.79,311.78 583.66,309.75 584.53,307.71 585.4,305.64 586.27,303.55 587.14,301.45 588,299.33 588.87,297.2 589.74,295.06 590.61,292.91 591.48,290.75 592.35,288.59 593.22,286.42 594.09,284.26 594.95,282.1 595.82,279.94 596.69,277.79 597.56,275.65 598.43,273.53 599.3,271.41 600.17,269.32 601.03,267.25 601.9,265.2 602.77,263.18 603.64,261.18 604.51,259.22 605.38,257.3 606.25,255.41 607.11,253.56 607.98,251.75 608.85,249.98 609.72,248.27 610.59,246.6 611.46,244.98 612.33,243.42 613.2,241.91 614.06,240.46 614.93,239.06 615.8,237.72 616.67,236.44 617.54,235.22 618.41,234.07 619.28,232.97 620.14,231.93 621.01,230.95 621.88,230.03 622.75,229.17 623.62,228.36 624.49,227.61 625.36,226.92 626.22,226.28 627.09,225.69 627.96,225.15 628.83,224.66 629.7,224.21 630.57,223.8 631.44,223.44 632.31,223.11 633.17,222.82 634.04,222.56 634.91,222.33 635.78,222.13 636.65,221.95 637.52,221.8 638.39,221.66 639.25,221.55 640.12,221.45 640.99,221.37 641.86,221.3 642.73,221.24 643.6,221.19 644.47,221.15 645.33,221.12 646.2,221.1 647.07,221.07 647.94,221.06 648.81,221.04 649.68,221.03 650.55,221.02 651.42,221.02 652.28,221.01 653.15,221.01 654.02,221.01 654.89,221 655.76,221 656.63,221 657.5,221 658.36,221 659.23,221 660.1,221 660.97,221 661.84,221 662.71,221 663.58,221 664.44,221 665.31,221 666.18,221" fill="none" stroke="#800080" stroke-width="1.5" stroke-linejoin="round" stroke-linecap="round" />
<circle cx="592.5" cy="339" r="4.4" fill="#000"/>
<rect x="589.3" y="350.2" width="6.4" height="6.4" fill="#fff" stroke="#888888" stroke-width="1.5"/>
<rect x="589.3" y="366.9" width="6.4" height="6.4" fill="#fff" stroke="#800080" stroke-width="1.5"/>
<g transform="translate(605.1 342.8) scale(0.9541 1)" fill="#111" ><text x="0" y="0" font-size="11.2" xml:space="preserve">WT</text><text x="17.41" y="0.45" font-size="11.2" xml:space="preserve">*</text><text x="21.77" y="0" font-size="11.2" xml:space="preserve"> (9)</text></g>
<g transform="translate(605.1 357) scale(0.9742 1)" fill="#111" ><text x="0" y="0" font-size="11.2" xml:space="preserve">WT + </text><text x="29.97" y="0" font-size="11.2" xml:space="preserve">&#946;</text><text x="36.42" y="2.46" font-size="8.29" xml:space="preserve">2</text><text x="41.03" y="0" font-size="11.2" xml:space="preserve"> (12)</text></g>
<g transform="translate(605.1 373.8) scale(0.9545 1)" fill="#111" ><text x="0" y="0" font-size="11.2" xml:space="preserve">K905N + </text><text x="47.01" y="0" font-size="11.2" xml:space="preserve">&#946;</text><text x="53.45" y="2.46" font-size="8.29" xml:space="preserve">2</text><text x="58.06" y="0" font-size="11.2" xml:space="preserve"> (14)</text></g>
<line x1="57.8" y1="515.5" x2="240.8" y2="515.5" stroke="#000" stroke-width="1.25" stroke-dasharray="1.4 1.4"/>
<polyline points="58.2,534.1 62,534.1 63.2,530.6 63.7,526.1 63.95,503 64.2,500.5 64.5,503.5 65.05,533 65.52,531.68 65.99,530.83 66.46,530.29 66.93,529.94 67.4,529.71 67.65,508.3 67.9,505.8 68.2,508.8 68.75,532 69.26,530.57 69.77,529.65 70.28,529.06 70.79,528.68 71.3,528.43 71.55,512.4 71.8,509.9 72.1,512.9 72.65,531 73.4,528.9 74.15,527.54 74.9,526.67 75.65,526.11 76.4,525.75 76.65,519.9 76.9,517.4 77.2,520.4 77.75,527.5 80.4,523.3 82,524 227.9,523.9 228.7,525.4 229.4,531.1 230.4,533.3 232.4,534.1 239.5,534.1" fill="none" stroke="#000" stroke-width="2.1" stroke-linejoin="round" stroke-linecap="round" />
<line x1="57.8" y1="554" x2="240.8" y2="554" stroke="#000" stroke-width="1.25" stroke-dasharray="1.4 1.4"/>
<polyline points="58.2,573.7 62,573.7 63.2,570.2 63.7,565.7 63.95,542.1 64.2,539.6 64.5,542.6 65.05,572 65.58,570.51 66.11,569.56 66.64,568.94 67.17,568.55 67.7,568.29 67.95,546.8 68.2,544.3 68.5,547.3 69.05,571 69.72,569.12 70.39,567.91 71.06,567.13 71.73,566.63 72.4,566.31 72.65,549.7 72.9,547.2 73.2,550.2 73.75,570 74.32,568.4 74.89,567.37 75.46,566.71 76.03,566.28 76.6,566.01 76.85,553 77.1,550.5 77.4,553.5 77.95,568 80,566 83,560.7 85,563.5 227.9,563.8 228.7,565.3 229.4,570.7 230.4,572.9 232.4,573.7 239.5,573.7" fill="none" stroke="#000" stroke-width="2.1" stroke-linejoin="round" stroke-linecap="round" />
<line x1="57.8" y1="594.9" x2="240.8" y2="594.9" stroke="#000" stroke-width="1.25" stroke-dasharray="1.4 1.4"/>
<polyline points="58.2,612.6 62.4,612.6 63.6,609.1 64.1,604.6 64.35,581.3 64.6,578.8 64.9,581.8 65.45,612 66.06,610.29 66.67,609.19 67.28,608.48 67.89,608.02 68.5,607.73 68.75,585.1 69,582.6 69.3,585.6 69.85,610.5 70.56,608.51 71.27,607.23 71.98,606.4 72.69,605.87 73.4,605.53 73.65,587.3 73.9,584.8 74.2,587.8 74.75,609 75.5,606.9 76.25,605.54 77,604.67 77.75,604.11 78.5,603.75 78.75,589.1 79,586.6 79.3,589.6 79.85,607.5 80.66,605.23 81.47,603.77 82.28,602.83 83.09,602.22 83.9,601.83 84.15,591.8 84.4,589.3 84.7,592.3 85.25,606.5 86.5,605.5 91.2,601.8 93.5,603.9 227.9,603.9 228.7,605.4 229.4,609.6 230.4,611.8 232.4,612.6 239.5,612.6" fill="none" stroke="#000" stroke-width="2.1" stroke-linejoin="round" stroke-linecap="round" />
<line x1="57.8" y1="631.1" x2="240.8" y2="631.1" stroke="#000" stroke-width="1.25" stroke-dasharray="1.4 1.4"/>
<polyline points="58.2,651.6 63.1,651.6 64.3,648.1 64.8,643.6 65.05,620.4 65.3,617.9 65.6,620.9 66.15,651 66.86,649.01 67.57,647.73 68.28,646.9 68.99,646.37 69.7,646.03 69.95,623.9 70.2,621.4 70.5,624.4 71.05,650 71.94,647.51 72.83,645.9 73.72,644.87 74.61,644.2 75.5,643.77 75.75,625.3 76,622.8 76.3,625.8 76.85,649 77.76,646.45 78.67,644.81 79.58,643.75 80.49,643.07 81.4,642.63 81.65,626.5 81.9,624 82.2,627 82.75,648 83.7,645.34 84.65,643.62 85.6,642.52 86.55,641.81 87.5,641.35 87.75,628 88,625.5 88.3,628.5 88.85,647 89.88,644.2 90.91,642.39 91.94,641.23 92.97,640.48 94,640 94.25,629.7 94.5,627.2 94.8,630.2 95.35,646.5 97,645.5 102.3,641.8 105,643.6 227.9,643.6 228.7,645.1 229.4,648.6 230.4,650.8 232.4,651.6 239.5,651.6" fill="none" stroke="#000" stroke-width="2.1" stroke-linejoin="round" stroke-linecap="round" />
<line x1="57.8" y1="670.5" x2="240.8" y2="670.5" stroke="#000" stroke-width="1.25" stroke-dasharray="1.4 1.4"/>
<polyline points="58.2,690.5 63.5,690.5 64.7,687 65.2,682.5 65.45,659.9 65.7,657.4 66,660.4 66.55,692.5 67.76,689.7 68.97,687.89 70.18,686.73 71.39,685.98 72.6,685.5 72.85,662.6 73.1,660.1 73.4,663.1 73.95,692 76.5,688 82.1,683.2 85,684 227.9,684 228.7,685.5 229.4,687.5 230.4,689.7 232.4,690.5 239.5,690.5" fill="none" stroke="#000" stroke-width="2.1" stroke-linejoin="round" stroke-linecap="round" />
<line x1="278" y1="515.4" x2="460.4" y2="515.4" stroke="#000" stroke-width="1.25" stroke-dasharray="1.4 1.4"/>
<polyline points="279.2,534.8 282.9,534.8 284.1,531.3 284.6,526.8 284.85,503.9 285.1,501.4 285.4,504.4 285.95,532 286.48,530.51 287.01,529.56 287.54,528.94 288.07,528.55 288.6,528.29 288.85,512.3 289.1,509.8 289.4,512.8 289.95,531.1 294.2,522.9 296.4,525.2 298.5,524.8 448.1,524.8 448.9,526.3 449.6,531.8 450.6,534 452.6,534.8 459.8,534.8" fill="none" stroke="#858585" stroke-width="2.1" stroke-linejoin="round" stroke-linecap="round" />
<line x1="278" y1="554.2" x2="460.4" y2="554.2" stroke="#000" stroke-width="1.25" stroke-dasharray="1.4 1.4"/>
<polyline points="279.2,573.7 283.3,573.7 284.5,570.2 285,565.7 285.25,543 285.5,540.5 285.8,543.5 286.35,571 286.92,569.4 287.49,568.37 288.06,567.71 288.63,567.28 289.2,567.01 289.45,550.5 289.7,548 290,551 290.55,571 291.34,568.79 292.13,567.36 292.92,566.44 293.71,565.85 294.5,565.47 294.75,560.8 295,558.3 295.3,561.3 295.85,566.7 299.8,563.9 302,564.8 448.1,564.8 448.9,566.3 449.6,570.7 450.6,572.9 452.6,573.7 459.8,573.7" fill="none" stroke="#858585" stroke-width="2.1" stroke-linejoin="round" stroke-linecap="round" />
<line x1="278" y1="595" x2="460.4" y2="595" stroke="#000" stroke-width="1.25" stroke-dasharray="1.4 1.4"/>
<polyline points="279.2,612.5 283.7,612.5 284.9,609 285.4,604.5 285.65,581.9 285.9,579.4 286.2,582.4 286.75,612.5 287.36,610.79 287.97,609.69 288.58,608.98 289.19,608.52 289.8,608.23 290.05,588.1 290.3,585.6 290.6,588.6 291.15,611.3 292.12,608.58 293.09,606.83 294.06,605.7 295.03,604.98 296,604.51 296.25,596 296.5,593.5 296.8,596.5 297.35,607.8 301.3,604 304,604.4 448.1,604.4 448.9,605.9 449.6,609.5 450.6,611.7 452.6,612.5 459.8,612.5" fill="none" stroke="#858585" stroke-width="2.1" stroke-linejoin="round" stroke-linecap="round" />
<line x1="278" y1="631.3" x2="460.4" y2="631.3" stroke="#000" stroke-width="1.25" stroke-dasharray="1.4 1.4"/>
<polyline points="279.2,651.3 283.8,651.3 285,647.8 285.5,643.3 285.75,621.3 286,618.8 286.3,621.8 286.85,652.5 287.8,649.84 288.75,648.12 289.7,647.02 290.65,646.31 291.6,645.85 291.85,628.1 292.1,625.6 292.4,628.6 292.95,650 298.8,642.8 301.5,643.5 448.1,643.5 448.9,645 449.6,648.3 450.6,650.5 452.6,651.3 459.8,651.3" fill="none" stroke="#858585" stroke-width="2.1" stroke-linejoin="round" stroke-linecap="round" />
<line x1="278" y1="670.4" x2="460.4" y2="670.4" stroke="#000" stroke-width="1.25" stroke-dasharray="1.4 1.4"/>
<polyline points="279.2,690 284.7,690 285.9,686.5 286.4,682 286.65,661 286.9,658.5 287.2,661.5 287.75,691.9 290,687 295,682.5 298,683.5 448.1,683.5 448.9,685 449.6,687 450.6,689.2 452.6,690 459.8,690" fill="none" stroke="#858585" stroke-width="2.1" stroke-linejoin="round" stroke-linecap="round" />
<line x1="497.1" y1="515.7" x2="680.2" y2="515.7" stroke="#000" stroke-width="1.25" stroke-dasharray="1.4 1.4"/>
<polyline points="498.3,536.1 502.5,536.1 503.7,532.6 504.2,528.1 504.45,505.7 504.7,503.2 505,506.2 505.55,533.5 506.14,531.85 506.73,530.78 507.32,530.1 507.91,529.65 508.5,529.37 508.75,510 509,507.5 509.3,510.5 509.85,533 510.4,531.46 510.95,530.47 511.5,529.83 512.05,529.42 512.6,529.15 512.85,512.9 513.1,510.4 513.4,513.4 513.95,532 514.56,530.29 515.17,529.19 515.78,528.48 516.39,528.02 517,527.73 517.25,516 517.5,513.5 517.8,516.5 518.35,530.6 519.12,528.44 519.89,527.05 520.66,526.16 521.43,525.58 522.2,525.21 522.45,520.9 522.7,518.4 523,521.4 523.55,528.9 525,528.5 528,525 530,526 667.5,526 668.3,527.5 669,533.1 670,535.3 672,536.1 678.6,536.1" fill="none" stroke="#800080" stroke-width="2.1" stroke-linejoin="round" stroke-linecap="round" />
<line x1="497.1" y1="554.2" x2="680.2" y2="554.2" stroke="#000" stroke-width="1.25" stroke-dasharray="1.4 1.4"/>
<polyline points="498.3,573.8 502.7,573.8 503.9,570.3 504.4,565.8 504.65,544.5 504.9,542 505.2,545 505.75,572 506.38,570.23 507.01,569.1 507.64,568.37 508.27,567.89 508.9,567.59 509.15,548 509.4,545.5 509.7,548.5 510.25,571 510.88,569.23 511.51,568.1 512.14,567.37 512.77,566.89 513.4,566.59 513.65,550.6 513.9,548.1 514.2,551.1 514.75,570 515.42,568.12 516.09,566.91 516.76,566.13 517.43,565.63 518.1,565.31 518.35,552.6 518.6,550.1 518.9,553.1 519.45,569 520.14,567.07 520.83,565.82 521.52,565.02 522.21,564.5 522.9,564.17 523.15,555.2 523.4,552.7 523.7,555.7 524.25,568 525.02,565.84 525.79,564.45 526.56,563.56 527.33,562.98 528.1,562.61 528.35,558.5 528.6,556 528.9,559 529.45,567 531,566.5 535.3,563.7 538,565.1 667.5,565.1 668.3,566.6 669,570.8 670,573 672,573.8 678.6,573.8" fill="none" stroke="#800080" stroke-width="2.1" stroke-linejoin="round" stroke-linecap="round" />
<line x1="497.1" y1="595.1" x2="680.2" y2="595.1" stroke="#000" stroke-width="1.25" stroke-dasharray="1.4 1.4"/>
<polyline points="498.3,613.4 503.3,613.4 504.5,609.9 505,605.4 505.25,583 505.5,580.5 505.8,583.5 506.35,611.8 507.14,609.59 507.93,608.16 508.72,607.24 509.51,606.65 510.3,606.27 510.55,585.9 510.8,583.4 511.1,586.4 511.65,611.35 512.46,609.08 513.27,607.62 514.08,606.68 514.89,606.07 515.7,605.68 515.95,587.1 516.2,584.6 516.5,587.6 517.05,610.9 517.8,608.8 518.55,607.44 519.3,606.57 520.05,606.01 520.8,605.65 521.05,588.1 521.3,585.6 521.6,588.6 522.15,610.45 522.96,608.18 523.77,606.72 524.58,605.78 525.39,605.17 526.2,604.78 526.45,589.3 526.7,586.8 527,589.8 527.55,610 528.38,607.67 529.21,606.18 530.04,605.21 530.87,604.59 531.7,604.19 531.95,590 532.2,587.5 532.5,590.5 533.05,609.55 534.02,606.83 534.99,605.08 535.96,603.95 536.93,603.23 537.9,602.76 538.15,591.5 538.4,589 538.7,592 539.25,609.1 540.14,606.61 541.03,605 541.92,603.97 542.81,603.3 543.7,602.87 543.95,592.9 544.2,590.4 544.5,593.4 545.05,608.65 545.94,606.16 546.83,604.55 547.72,603.52 548.61,602.85 549.5,602.42 549.75,594.7 550,592.2 550.3,595.2 550.85,608.2 552.7,608.2 556.5,603.8 559,604.3 667.5,604.3 668.3,605.8 669,610.4 670,612.6 672,613.4 678.6,613.4" fill="none" stroke="#800080" stroke-width="2.1" stroke-linejoin="round" stroke-linecap="round" />
<line x1="497.1" y1="631.3" x2="680.2" y2="631.3" stroke="#000" stroke-width="1.25" stroke-dasharray="1.4 1.4"/>
<polyline points="498.3,651.4 503.8,651.4 505,647.9 505.5,643.4 505.75,621.9 506,619.4 506.3,622.4 506.85,651.8 507.82,649.08 508.79,647.33 509.76,646.2 510.73,645.48 511.7,645.01 511.95,624.5 512.2,622 512.5,625 513.05,651.46 514,648.8 514.95,647.08 515.9,645.98 516.85,645.27 517.8,644.81 518.05,625 518.3,622.5 518.6,625.5 519.15,651.12 520.18,648.32 521.21,646.52 522.24,645.35 523.27,644.61 524.3,644.12 524.55,625.7 524.8,623.2 525.1,626.2 525.65,650.78 526.68,647.98 527.71,646.18 528.74,645.02 529.77,644.27 530.8,643.78 531.05,625.9 531.3,623.4 531.6,626.4 532.15,650.45 533.2,647.64 534.25,645.84 535.3,644.68 536.35,643.93 537.4,643.45 537.65,626.3 537.9,623.8 538.2,626.8 538.75,650.11 539.88,647.31 541.01,645.5 542.14,644.34 543.27,643.59 544.4,643.11 544.65,626.6 544.9,624.1 545.2,627.1 545.75,649.77 546.72,647.05 547.69,645.3 548.66,644.17 549.63,643.45 550.6,642.98 550.85,626.8 551.1,624.3 551.4,627.3 551.95,649.43 552.9,646.77 553.85,645.05 554.8,643.95 555.75,643.24 556.7,642.78 556.95,627.5 557.2,625 557.5,628 558.05,649.09 559.08,646.29 560.11,644.49 561.14,643.32 562.17,642.57 563.2,642.09 563.45,628.5 563.7,626 564,629 564.55,648.75 565.54,645.98 566.53,644.19 567.52,643.04 568.51,642.3 569.5,641.82 569.75,629.4 570,626.9 570.3,629.9 570.85,648.42 571.94,645.61 573.03,643.81 574.12,642.65 575.21,641.9 576.3,641.42 576.55,630.1 576.8,627.6 577.1,630.6 577.65,648.08 578.88,645.27 580.11,643.47 581.34,642.31 582.57,641.56 583.8,641.08 584.05,631 584.3,628.5 584.6,631.5 585.15,647.74 586.4,644.94 587.65,643.13 588.9,641.97 590.15,641.22 591.4,640.74 591.65,632.9 591.9,630.4 592.2,633.4 592.75,647.4 594.9,646.5 601,642.2 604,643.9 667.5,643.9 668.3,645.4 669,648.4 670,650.6 672,651.4 678.6,651.4" fill="none" stroke="#800080" stroke-width="2.1" stroke-linejoin="round" stroke-linecap="round" />
<line x1="497.1" y1="670" x2="680.2" y2="670" stroke="#000" stroke-width="1.25" stroke-dasharray="1.4 1.4"/>
<polyline points="498.3,690.3 504,690.3 505.2,686.8 505.7,682.3 505.95,660.7 506.2,658.2 506.5,661.2 507.05,691.5 508.48,688.5 509.91,686.56 511.34,685.32 512.77,684.52 514.2,684 514.45,662.9 514.7,660.4 515,663.4 515.55,691.5 517.32,688.5 519.09,686.56 520.86,685.32 522.63,684.52 524.4,684 524.65,663.8 524.9,661.3 525.2,664.3 525.75,691.5 527.24,688.5 528.73,686.56 530.22,685.32 531.71,684.52 533.2,684 533.45,664.5 533.7,662 534,665 534.55,691.5 536.32,688.5 538.09,686.56 539.86,685.32 541.63,684.52 543.4,684 543.65,664.8 543.9,662.3 544.2,665.3 544.75,691.5 546.3,688.5 547.85,686.56 549.4,685.32 550.95,684.52 552.5,684 552.75,664.8 553,662.3 553.3,665.3 553.85,691.5 556.5,686 560,683.5 564.3,682.4 567,683.9 667.5,683.9 668.3,685.4 669,687.3 670,689.5 672,690.3 678.6,690.3" fill="none" stroke="#800080" stroke-width="2.1" stroke-linejoin="round" stroke-linecap="round" />
<g transform="translate(22.8 531.7) scale(0.9731 1)" fill="#1f7ac8" ><text x="0" y="0" font-size="12.9" xml:space="preserve">16 pA</text></g>
<g transform="translate(22.8 571) scale(0.9731 1)" fill="#1f7ac8" ><text x="0" y="0" font-size="12.9" xml:space="preserve">14 pA</text></g>
<g transform="translate(22.8 611.7) scale(0.9731 1)" fill="#1f7ac8" ><text x="0" y="0" font-size="12.9" xml:space="preserve">12 pA</text></g>
<g transform="translate(22.8 647.3) scale(0.9731 1)" fill="#1f7ac8" ><text x="0" y="0" font-size="12.9" xml:space="preserve">10 pA</text></g>
<g transform="translate(29.78 687.7) scale(0.9731 1)" fill="#1f7ac8" ><text x="0" y="0" font-size="12.9" xml:space="preserve">8 pA</text></g>
<text x="0" y="505.2" font-size="24" fill="#000" font-weight="bold" >e</text>
<g transform="translate(122 507) scale(1.0138 1)" fill="#000" ><text x="0" y="0" font-size="20.6" font-weight="bold" xml:space="preserve">WT*</text></g>
<g transform="translate(334.6 507.4) scale(1.0427 1)" fill="#000" ><text x="0" y="0" font-size="20.6" font-weight="bold" xml:space="preserve">WT</text></g>
<g transform="translate(375.6 507.4) scale(0.8728 1)" fill="#000" ><text x="0" y="0" font-size="20.6" font-weight="bold" xml:space="preserve">+</text></g>
<g transform="translate(395.3 507.4) scale(0.8493 1)" fill="#000" stroke="#000" stroke-width="0.6"><text x="0" y="0" font-size="21.5" xml:space="preserve">&#946;</text></g>
<g transform="translate(407 513) scale(0.9362 1)" fill="#000" ><text x="0" y="0" font-size="14.6" font-weight="bold" xml:space="preserve">2</text></g>
<g transform="translate(550.9 506.8) scale(1.0432 1)" fill="#000" ><text x="0" y="0" font-size="20.6" font-weight="bold" xml:space="preserve">K905N</text></g>
<g transform="translate(625.8 506.8) scale(0.8312 1)" fill="#000" ><text x="0" y="0" font-size="20.6" font-weight="bold" xml:space="preserve">+</text></g>
<g transform="translate(645.8 506.8) scale(0.7280 1)" fill="#000" stroke="#000" stroke-width="0.6"><text x="0" y="0" font-size="21.5" xml:space="preserve">&#946;</text></g>
<g transform="translate(655.7 512.4) scale(1.2442 1)" fill="#000" ><text x="0" y="0" font-size="14.6" font-weight="bold" xml:space="preserve">2</text></g>
<path d="M271.2 675.4V703.8H352.1" fill="none" stroke="#000" stroke-width="1.7"/>
<text transform="translate(266.2,692.3) rotate(-90)" font-size="12" fill="#111" text-anchor="middle">100 mV</text>
<g transform="translate(291 718.3) scale(0.9683 1)" fill="#111" ><text x="0" y="0" font-size="12" xml:space="preserve">500 ms</text></g>
<line x1="58.2" y1="732.4" x2="58.2" y2="917.6" stroke="#222" stroke-width="1.1" />
<line x1="58.6" y1="921.4" x2="422.6" y2="921.4" stroke="#222" stroke-width="1.1" />
<line x1="55.8" y1="917.5" x2="58.2" y2="917.5" stroke="#222" stroke-width="1.1" />
<line x1="54.2" y1="904.3" x2="58.2" y2="904.3" stroke="#222" stroke-width="1.1" />
<text x="51.5" y="908.5" font-size="11.5" fill="#111" text-anchor="end" >0</text>
<line x1="55.8" y1="891.1" x2="58.2" y2="891.1" stroke="#222" stroke-width="1.1" />
<line x1="54.2" y1="877.9" x2="58.2" y2="877.9" stroke="#222" stroke-width="1.1" />
<text x="51.5" y="882.1" font-size="11.5" fill="#111" text-anchor="end" >2</text>
<line x1="55.8" y1="864.7" x2="58.2" y2="864.7" stroke="#222" stroke-width="1.1" />
<line x1="54.2" y1="851.5" x2="58.2" y2="851.5" stroke="#222" stroke-width="1.1" />
<text x="51.5" y="855.7" font-size="11.5" fill="#111" text-anchor="end" >4</text>
<line x1="55.8" y1="838.3" x2="58.2" y2="838.3" stroke="#222" stroke-width="1.1" />
<line x1="54.2" y1="825.1" x2="58.2" y2="825.1" stroke="#222" stroke-width="1.1" />
<text x="51.5" y="829.3" font-size="11.5" fill="#111" text-anchor="end" >6</text>
<line x1="55.8" y1="811.9" x2="58.2" y2="811.9" stroke="#222" stroke-width="1.1" />
<line x1="54.2" y1="798.7" x2="58.2" y2="798.7" stroke="#222" stroke-width="1.1" />
<text x="51.5" y="802.9" font-size="11.5" fill="#111" text-anchor="end" >8</text>
<line x1="55.8" y1="785.5" x2="58.2" y2="785.5" stroke="#222" stroke-width="1.1" />
<line x1="54.2" y1="772.3" x2="58.2" y2="772.3" stroke="#222" stroke-width="1.1" />
<text x="51.5" y="776.5" font-size="11.5" fill="#111" text-anchor="end" >10</text>
<line x1="55.8" y1="759.1" x2="58.2" y2="759.1" stroke="#222" stroke-width="1.1" />
<line x1="54.2" y1="745.9" x2="58.2" y2="745.9" stroke="#222" stroke-width="1.1" />
<text x="51.5" y="750.1" font-size="11.5" fill="#111" text-anchor="end" >12</text>
<line x1="55.8" y1="732.7" x2="58.2" y2="732.7" stroke="#222" stroke-width="1.1" />
<line x1="58.85" y1="921.4" x2="58.85" y2="923.8" stroke="#222" stroke-width="1.1" />
<line x1="72.8" y1="921.4" x2="72.8" y2="925.4" stroke="#222" stroke-width="1.1" />
<text x="72.8" y="937.9" font-size="11.5" fill="#111" text-anchor="middle" >0</text>
<line x1="86.75" y1="921.4" x2="86.75" y2="923.8" stroke="#222" stroke-width="1.1" />
<line x1="100.7" y1="921.4" x2="100.7" y2="925.4" stroke="#222" stroke-width="1.1" />
<text x="100.7" y="937.9" font-size="11.5" fill="#111" text-anchor="middle" >2</text>
<line x1="114.65" y1="921.4" x2="114.65" y2="923.8" stroke="#222" stroke-width="1.1" />
<line x1="128.6" y1="921.4" x2="128.6" y2="925.4" stroke="#222" stroke-width="1.1" />
<text x="128.6" y="937.9" font-size="11.5" fill="#111" text-anchor="middle" >4</text>
<line x1="142.55" y1="921.4" x2="142.55" y2="923.8" stroke="#222" stroke-width="1.1" />
<line x1="156.5" y1="921.4" x2="156.5" y2="925.4" stroke="#222" stroke-width="1.1" />
<text x="156.5" y="937.9" font-size="11.5" fill="#111" text-anchor="middle" >6</text>
<line x1="170.45" y1="921.4" x2="170.45" y2="923.8" stroke="#222" stroke-width="1.1" />
<line x1="184.4" y1="921.4" x2="184.4" y2="925.4" stroke="#222" stroke-width="1.1" />
<text x="184.4" y="937.9" font-size="11.5" fill="#111" text-anchor="middle" >8</text>
<line x1="198.35" y1="921.4" x2="198.35" y2="923.8" stroke="#222" stroke-width="1.1" />
<line x1="212.3" y1="921.4" x2="212.3" y2="925.4" stroke="#222" stroke-width="1.1" />
<text x="212.3" y="937.9" font-size="11.5" fill="#111" text-anchor="middle" >10</text>
<line x1="226.25" y1="921.4" x2="226.25" y2="923.8" stroke="#222" stroke-width="1.1" />
<line x1="240.2" y1="921.4" x2="240.2" y2="925.4" stroke="#222" stroke-width="1.1" />
<text x="240.2" y="937.9" font-size="11.5" fill="#111" text-anchor="middle" >12</text>
<line x1="254.15" y1="921.4" x2="254.15" y2="923.8" stroke="#222" stroke-width="1.1" />
<line x1="268.1" y1="921.4" x2="268.1" y2="925.4" stroke="#222" stroke-width="1.1" />
<text x="268.1" y="937.9" font-size="11.5" fill="#111" text-anchor="middle" >14</text>
<line x1="282.05" y1="921.4" x2="282.05" y2="923.8" stroke="#222" stroke-width="1.1" />
<line x1="296" y1="921.4" x2="296" y2="925.4" stroke="#222" stroke-width="1.1" />
<text x="296" y="937.9" font-size="11.5" fill="#111" text-anchor="middle" >16</text>
<line x1="309.95" y1="921.4" x2="309.95" y2="923.8" stroke="#222" stroke-width="1.1" />
<line x1="323.9" y1="921.4" x2="323.9" y2="925.4" stroke="#222" stroke-width="1.1" />
<text x="323.9" y="937.9" font-size="11.5" fill="#111" text-anchor="middle" >18</text>
<line x1="337.85" y1="921.4" x2="337.85" y2="923.8" stroke="#222" stroke-width="1.1" />
<line x1="351.8" y1="921.4" x2="351.8" y2="925.4" stroke="#222" stroke-width="1.1" />
<text x="351.8" y="937.9" font-size="11.5" fill="#111" text-anchor="middle" >20</text>
<line x1="365.75" y1="921.4" x2="365.75" y2="923.8" stroke="#222" stroke-width="1.1" />
<line x1="379.7" y1="921.4" x2="379.7" y2="925.4" stroke="#222" stroke-width="1.1" />
<text x="379.7" y="937.9" font-size="11.5" fill="#111" text-anchor="middle" >22</text>
<line x1="393.65" y1="921.4" x2="393.65" y2="923.8" stroke="#222" stroke-width="1.1" />
<line x1="407.6" y1="921.4" x2="407.6" y2="925.4" stroke="#222" stroke-width="1.1" />
<text x="407.6" y="937.9" font-size="11.5" fill="#111" text-anchor="middle" >24</text>
<line x1="421.55" y1="921.4" x2="421.55" y2="923.8" stroke="#222" stroke-width="1.1" />
<g transform="translate(168.4 956.5) scale(1.0001 1)" fill="#111" ><text x="0" y="0" font-size="15" xml:space="preserve">Stimulus current (pA)</text></g>
<text transform="translate(18.6,829.6) rotate(-90)" font-size="14" fill="#111" text-anchor="middle">AP frequency (Hz)</text>
<text x="1" y="748.9" font-size="23.5" fill="#000" font-weight="bold" >f</text>

<rect x="70" y="901.5" width="5.6" height="5.6" fill="#fff" stroke="#8a8a8a" stroke-width="1.5"/>

<rect x="97.9" y="901.5" width="5.6" height="5.6" fill="#fff" stroke="#8a8a8a" stroke-width="1.5"/>
<path d="M128.6 901.66V904.3M125.2 901.66H132M125.2 904.3H132" stroke="#8a8a8a" stroke-width="1.3" fill="none"/>
<rect x="125.8" y="900.18" width="5.6" height="5.6" fill="#fff" stroke="#8a8a8a" stroke-width="1.5"/>
<path d="M156.5 890.04V900.08M153.1 890.04H159.9M153.1 900.08H159.9" stroke="#8a8a8a" stroke-width="1.3" fill="none"/>
<rect x="153.7" y="892.26" width="5.6" height="5.6" fill="#fff" stroke="#8a8a8a" stroke-width="1.5"/>
<path d="M184.4 876.18V885.69M181 876.18H187.8M181 885.69H187.8" stroke="#8a8a8a" stroke-width="1.3" fill="none"/>
<rect x="181.6" y="878.14" width="5.6" height="5.6" fill="#fff" stroke="#8a8a8a" stroke-width="1.5"/>
<path d="M212.3 862.06V873.41M208.9 862.06H215.7M208.9 873.41H215.7" stroke="#8a8a8a" stroke-width="1.3" fill="none"/>
<rect x="209.5" y="864.94" width="5.6" height="5.6" fill="#fff" stroke="#8a8a8a" stroke-width="1.5"/>
<path d="M240.2 854.4V866.55M236.8 854.4H243.6M236.8 866.55H243.6" stroke="#8a8a8a" stroke-width="1.3" fill="none"/>
<rect x="237.4" y="857.68" width="5.6" height="5.6" fill="#fff" stroke="#8a8a8a" stroke-width="1.5"/>
<path d="M268.1 861.66V871.17M264.7 861.66H271.5M264.7 871.17H271.5" stroke="#8a8a8a" stroke-width="1.3" fill="none"/>
<rect x="265.3" y="863.62" width="5.6" height="5.6" fill="#fff" stroke="#8a8a8a" stroke-width="1.5"/>
<path d="M296 868.26V876.18M292.6 868.26H299.4M292.6 876.18H299.4" stroke="#8a8a8a" stroke-width="1.3" fill="none"/>
<rect x="293.2" y="869.42" width="5.6" height="5.6" fill="#fff" stroke="#8a8a8a" stroke-width="1.5"/>
<path d="M323.9 866.68V877.77M320.5 866.68H327.3M320.5 877.77H327.3" stroke="#8a8a8a" stroke-width="1.3" fill="none"/>
<rect x="321.1" y="869.42" width="5.6" height="5.6" fill="#fff" stroke="#8a8a8a" stroke-width="1.5"/>
<path d="M351.8 869.98V877.9M348.4 869.98H355.2M348.4 877.9H355.2" stroke="#8a8a8a" stroke-width="1.3" fill="none"/>
<rect x="349" y="871.14" width="5.6" height="5.6" fill="#fff" stroke="#8a8a8a" stroke-width="1.5"/>
<path d="M379.7 871.3V879.22M376.3 871.3H383.1M376.3 879.22H383.1" stroke="#8a8a8a" stroke-width="1.3" fill="none"/>
<rect x="376.9" y="872.46" width="5.6" height="5.6" fill="#fff" stroke="#8a8a8a" stroke-width="1.5"/>
<path d="M407.6 871.96V878.56M404.2 871.96H411M404.2 878.56H411" stroke="#8a8a8a" stroke-width="1.3" fill="none"/>
<rect x="404.8" y="872.46" width="5.6" height="5.6" fill="#fff" stroke="#8a8a8a" stroke-width="1.5"/>
<polyline points="72.8,904.3 74.46,904.31 76.59,904.32 79.12,904.34 81.95,904.36 85.01,904.38 88.2,904.4 91.45,904.4 94.67,904.38 97.78,904.35 100.7,904.3 103.49,904.25 106.28,904.23 109.07,904.21 111.86,904.18 114.65,904.13 117.44,904.05 120.23,903.9 123.02,903.69 125.81,903.39 128.6,902.98 131.39,902.48 134.18,901.92 136.97,901.28 139.76,900.58 142.55,899.82 145.34,898.99 148.13,898.1 150.92,897.15 153.71,896.13 156.5,895.06 159.29,893.89 162.08,892.62 164.87,891.25 167.66,889.81 170.45,888.33 173.24,886.82 176.03,885.3 178.82,883.8 181.61,882.34 184.4,880.94 187.19,879.55 189.98,878.14 192.77,876.72 195.56,875.3 198.35,873.91 201.14,872.54 203.93,871.23 206.72,869.98 209.51,868.81 212.3,867.74 215.09,866.71 217.88,865.69 220.67,864.71 223.46,863.77 226.25,862.91 229.04,862.14 231.83,861.5 234.62,860.99 237.41,860.64 240.2,860.48 242.99,860.54 245.78,860.82 248.57,861.29 251.36,861.91 254.15,862.63 256.94,863.42 259.73,864.23 262.52,865.03 265.31,865.77 268.1,866.42 270.89,867.03 273.68,867.68 276.47,868.35 279.26,869.03 282.05,869.69 284.84,870.33 287.63,870.91 290.42,871.44 293.21,871.88 296,872.22 298.79,872.45 301.58,872.57 304.37,872.6 307.16,872.56 309.95,872.48 312.74,872.38 315.53,872.28 318.32,872.21 321.11,872.18 323.9,872.22 326.69,872.33 329.48,872.46 332.27,872.63 335.06,872.81 337.85,873 340.64,873.2 343.43,873.4 346.22,873.59 349.01,873.78 351.8,873.94 354.59,874.09 357.38,874.25 360.17,874.41 362.96,874.56 365.75,874.71 368.54,874.85 371.33,874.97 374.12,875.09 376.91,875.18 379.7,875.26 382.62,875.31 385.73,875.34 388.95,875.36 392.2,875.36 395.39,875.34 398.45,875.32 401.28,875.3 403.81,875.28 405.94,875.27 407.6,875.26" fill="none" stroke="#8a8a8a" stroke-width="2" stroke-linejoin="round" stroke-linecap="round" />
<polyline points="72.8,904.3 100.7,904.3 128.6,902.98 156.5,891.1 184.4,860.74 212.3,811.9 240.2,816.78 268.1,836.06 296,847.54 323.9,864.3 351.8,865.76 379.7,868.66 407.6,875.26" fill="none" stroke="#000" stroke-width="1.9" stroke-linejoin="round" stroke-linecap="round" stroke-dasharray="6 3 1.5 3" stroke-linecap="butt"/>

<circle cx="72.8" cy="904.3" r="4.3" fill="#000"/>

<circle cx="100.7" cy="904.3" r="4.3" fill="#000"/>
<path d="M128.6 901.66V904.3M125.6 901.66H131.6M125.6 904.3H131.6" stroke="#000" stroke-width="1.3" fill="none"/>
<circle cx="128.6" cy="902.98" r="4.3" fill="#000"/>
<path d="M156.5 884.5V897.7M153.5 884.5H159.5M153.5 897.7H159.5" stroke="#000" stroke-width="1.3" fill="none"/>
<circle cx="156.5" cy="891.1" r="4.3" fill="#000"/>
<path d="M184.4 850.18V871.3M181.4 850.18H187.4M181.4 871.3H187.4" stroke="#000" stroke-width="1.3" fill="none"/>
<circle cx="184.4" cy="860.74" r="4.3" fill="#000"/>
<path d="M212.3 793.95V829.85M209.3 793.95H215.3M209.3 829.85H215.3" stroke="#000" stroke-width="1.3" fill="none"/>
<circle cx="212.3" cy="811.9" r="4.3" fill="#000"/>
<path d="M240.2 800.94V832.62M237.2 800.94H243.2M237.2 832.62H243.2" stroke="#000" stroke-width="1.3" fill="none"/>
<circle cx="240.2" cy="816.78" r="4.3" fill="#000"/>
<path d="M268.1 822.2V849.92M265.1 822.2H271.1M265.1 849.92H271.1" stroke="#000" stroke-width="1.3" fill="none"/>
<circle cx="268.1" cy="836.06" r="4.3" fill="#000"/>
<path d="M296 834.34V860.74M293 834.34H299M293 860.74H299" stroke="#000" stroke-width="1.3" fill="none"/>
<circle cx="296" cy="847.54" r="4.3" fill="#000"/>
<path d="M323.9 860.34V868.26M320.9 860.34H326.9M320.9 868.26H326.9" stroke="#000" stroke-width="1.3" fill="none"/>
<circle cx="323.9" cy="864.3" r="4.3" fill="#000"/>
<path d="M351.8 861.8V869.72M348.8 861.8H354.8M348.8 869.72H354.8" stroke="#000" stroke-width="1.3" fill="none"/>
<circle cx="351.8" cy="865.76" r="4.3" fill="#000"/>
<path d="M379.7 864.7V872.62M376.7 864.7H382.7M376.7 872.62H382.7" stroke="#000" stroke-width="1.3" fill="none"/>
<circle cx="379.7" cy="868.66" r="4.3" fill="#000"/>
<path d="M407.6 872.62V877.9M404.6 872.62H410.6M404.6 877.9H410.6" stroke="#000" stroke-width="1.3" fill="none"/>
<circle cx="407.6" cy="875.26" r="4.3" fill="#000"/>
<polyline points="72.8,904.3 74.46,904.31 76.59,904.34 79.12,904.38 81.95,904.43 85.01,904.46 88.2,904.49 91.45,904.49 94.67,904.47 97.78,904.41 100.7,904.3 103.49,904.17 106.28,904.03 109.07,903.87 111.86,903.69 114.65,903.47 117.44,903.22 120.23,902.92 123.02,902.57 125.81,902.15 128.6,901.66 131.39,901.25 134.18,901.03 136.97,900.88 139.76,900.72 142.55,900.43 145.34,899.93 148.13,899.11 150.92,897.87 153.71,896.11 156.5,893.74 159.29,890.74 162.08,887.21 164.87,883.22 167.66,878.82 170.45,874.08 173.24,869.06 176.03,863.82 178.82,858.42 181.61,852.93 184.4,847.41 187.19,841.47 189.98,834.85 192.77,827.76 195.56,820.42 198.35,813.05 201.14,805.86 203.93,799.09 206.72,792.94 209.51,787.63 212.3,783.39 215.09,780.03 217.88,777.22 220.67,774.96 223.46,773.25 226.25,772.1 229.04,771.5 231.83,771.46 234.62,771.98 237.41,773.05 240.2,774.68 242.99,777.24 245.78,780.94 248.57,785.53 251.36,790.76 254.15,796.38 256.94,802.14 259.73,807.78 262.52,813.07 265.31,817.73 268.1,821.54 270.89,824.56 273.68,827.13 276.47,829.31 279.26,831.18 282.05,832.83 284.84,834.33 287.63,835.76 290.42,837.19 293.21,838.72 296,840.41 298.79,842.24 301.58,844.12 304.37,846.01 307.16,847.9 309.95,849.75 312.74,851.54 315.53,853.24 318.32,854.83 321.11,856.29 323.9,857.57 326.69,858.68 329.48,859.63 332.27,860.45 335.06,861.16 337.85,861.78 340.64,862.33 343.43,862.84 346.22,863.32 349.01,863.8 351.8,864.3 354.59,864.78 357.38,865.18 360.17,865.53 362.96,865.84 365.75,866.14 368.54,866.43 371.33,866.74 374.12,867.1 376.91,867.51 379.7,868 382.62,868.6 385.73,869.3 388.95,870.08 392.2,870.9 395.39,871.73 398.45,872.54 401.28,873.31 403.81,873.99 405.94,874.56 407.6,875" fill="none" stroke="#800080" stroke-width="2" stroke-linejoin="round" stroke-linecap="round" />

<circle cx="72.8" cy="904.3" r="4.4" fill="#800080"/>

<circle cx="100.7" cy="904.3" r="4.4" fill="#800080"/>
<path d="M128.6 900.34V902.98M125.6 900.34H131.6M125.6 902.98H131.6" stroke="#800080" stroke-width="1.3" fill="none"/>
<circle cx="128.6" cy="901.66" r="4.4" fill="#800080"/>
<path d="M156.5 888.46V899.02M153.5 888.46H159.5M153.5 899.02H159.5" stroke="#800080" stroke-width="1.3" fill="none"/>
<circle cx="156.5" cy="893.74" r="4.4" fill="#800080"/>
<path d="M184.4 831.57V863.25M181.4 831.57H187.4M181.4 863.25H187.4" stroke="#800080" stroke-width="1.3" fill="none"/>
<circle cx="184.4" cy="847.41" r="4.4" fill="#800080"/>
<path d="M212.3 761.87V804.9M209.3 761.87H215.3M209.3 804.9H215.3" stroke="#800080" stroke-width="1.3" fill="none"/>
<circle cx="212.3" cy="783.39" r="4.4" fill="#800080"/>
<path d="M240.2 748.28V801.08M237.2 748.28H243.2M237.2 801.08H243.2" stroke="#800080" stroke-width="1.3" fill="none"/>
<circle cx="240.2" cy="774.68" r="4.4" fill="#800080"/>
<path d="M268.1 806.62V836.45M265.1 806.62H271.1M265.1 836.45H271.1" stroke="#800080" stroke-width="1.3" fill="none"/>
<circle cx="268.1" cy="821.54" r="4.4" fill="#800080"/>
<path d="M296 829.85V850.97M293 829.85H299M293 850.97H299" stroke="#800080" stroke-width="1.3" fill="none"/>
<circle cx="296" cy="840.41" r="4.4" fill="#800080"/>
<path d="M323.9 852.56V862.59M320.9 852.56H326.9M320.9 862.59H326.9" stroke="#800080" stroke-width="1.3" fill="none"/>
<circle cx="323.9" cy="857.57" r="4.4" fill="#800080"/>
<path d="M351.8 860.34V868.26M348.8 860.34H354.8M348.8 868.26H354.8" stroke="#800080" stroke-width="1.3" fill="none"/>
<circle cx="351.8" cy="864.3" r="4.4" fill="#800080"/>
<path d="M379.7 864.04V871.96M376.7 864.04H382.7M376.7 871.96H382.7" stroke="#800080" stroke-width="1.3" fill="none"/>
<circle cx="379.7" cy="868" r="4.4" fill="#800080"/>
<path d="M407.6 872.36V877.64M404.6 872.36H410.6M404.6 877.64H410.6" stroke="#800080" stroke-width="1.3" fill="none"/>
<circle cx="407.6" cy="875" r="4.4" fill="#800080"/>
<text x="178.6" y="850.4" font-size="15" fill="#800080" text-anchor="middle" >*</text>
<text x="207.8" y="784.7" font-size="15" fill="#800080" text-anchor="middle" >*</text>
<text x="247.2" y="778.6" font-size="15" fill="#800080" text-anchor="middle" >*</text>
<text x="275" y="825.3" font-size="15" fill="#800080" text-anchor="middle" >*</text>
<text x="304.2" y="845.8" font-size="15" fill="#800080" text-anchor="middle" >*</text>
<text x="217.7" y="829.7" font-size="15" fill="#000" text-anchor="middle" >*</text>
<text x="244.9" y="835" font-size="15" fill="#000" text-anchor="middle" >*</text>
<text x="273.2" y="853.9" font-size="15" fill="#000" text-anchor="middle" >*</text>
<path d="M66.7 774.3H73.1M75.4 774.3H89.8" stroke="#000" stroke-width="1.8"/>
<circle cx="80.1" cy="774.3" r="3.9" fill="#000"/>
<line x1="66.7" y1="789.2" x2="92.4" y2="789.2" stroke="#8a8a8a" stroke-width="1.8" />
<rect x="77.5" y="786.6" width="5.2" height="5.2" fill="#fff" stroke="#8a8a8a" stroke-width="1.4"/>
<line x1="66.7" y1="805.8" x2="92.4" y2="805.8" stroke="#800080" stroke-width="1.8" />
<circle cx="80.1" cy="805.8" r="3.9" fill="#800080"/>
<g transform="translate(95.9 777.4) scale(0.9774 1)" fill="#111" ><text x="0" y="0" font-size="11.2" xml:space="preserve">WT</text><text x="17.41" y="0.45" font-size="11.2" xml:space="preserve">*</text><text x="21.77" y="0" font-size="11.2" xml:space="preserve"> (7)</text></g>
<g transform="translate(95.9 792.7) scale(0.9929 1)" fill="#111" ><text x="0" y="0" font-size="11.2" xml:space="preserve">WT + </text><text x="29.97" y="0" font-size="11.2" xml:space="preserve">&#946;</text><text x="36.42" y="2.46" font-size="8.29" xml:space="preserve">2</text><text x="41.03" y="0" font-size="11.2" xml:space="preserve"> (10)</text></g>
<g transform="translate(95.9 809.7) scale(0.9765 1)" fill="#111" ><text x="0" y="0" font-size="11.2" xml:space="preserve">K905N + </text><text x="47.01" y="0" font-size="11.2" xml:space="preserve">&#946;</text><text x="53.45" y="2.46" font-size="8.29" xml:space="preserve">2</text><text x="58.06" y="0" font-size="11.2" xml:space="preserve"> (8)</text></g>
<line x1="540.7" y1="909.6" x2="634.8" y2="909.6" stroke="#111" stroke-width="1.6" />
<line x1="543.6" y1="897.13" x2="628.5" y2="897.13" stroke="#111" stroke-width="1.4" />
<line x1="543.6" y1="884.66" x2="628.5" y2="884.66" stroke="#111" stroke-width="1.4" />
<line x1="543.6" y1="872.19" x2="628.5" y2="872.19" stroke="#111" stroke-width="1.4" />
<line x1="543.6" y1="859.72" x2="628.5" y2="859.72" stroke="#1f7ac8" stroke-width="1.4" />
<line x1="543.6" y1="847.25" x2="628.5" y2="847.25" stroke="#1f7ac8" stroke-width="1.4" />
<line x1="543.6" y1="834.78" x2="628.5" y2="834.78" stroke="#1f7ac8" stroke-width="1.4" />
<line x1="543.6" y1="822.31" x2="628.5" y2="822.31" stroke="#1f7ac8" stroke-width="1.4" />
<line x1="543.6" y1="809.84" x2="628.5" y2="809.84" stroke="#1f7ac8" stroke-width="1.4" />
<line x1="543.6" y1="797.37" x2="628.5" y2="797.37" stroke="#111" stroke-width="1.4" />
<line x1="543.6" y1="784.9" x2="628.5" y2="784.9" stroke="#111" stroke-width="1.4" />
<line x1="543.6" y1="772.43" x2="628.5" y2="772.43" stroke="#111" stroke-width="1.4" />
<line x1="543.6" y1="759.96" x2="628.5" y2="759.96" stroke="#111" stroke-width="1.4" />
<line x1="543.6" y1="759.26" x2="543.6" y2="909.6" stroke="#111" stroke-width="1.5" />
<line x1="628.5" y1="759.26" x2="628.5" y2="909.6" stroke="#111" stroke-width="1.5" />
<text x="537.4" y="913.6" font-size="11.6" fill="#111" text-anchor="end" >0</text>
<text x="537.4" y="901.13" font-size="11.6" fill="#111" text-anchor="end" >2</text>
<text x="537.4" y="888.66" font-size="11.6" fill="#111" text-anchor="end" >4</text>
<text x="537.4" y="876.19" font-size="11.6" fill="#111" text-anchor="end" >6</text>
<text x="537.4" y="863.72" font-size="11.6" fill="#1f7ac8" text-anchor="end" >8</text>
<text x="537.4" y="851.25" font-size="11.6" fill="#1f7ac8" text-anchor="end" >10</text>
<text x="537.4" y="838.78" font-size="11.6" fill="#1f7ac8" text-anchor="end" >12</text>
<text x="537.4" y="826.31" font-size="11.6" fill="#1f7ac8" text-anchor="end" >14</text>
<text x="537.4" y="813.84" font-size="11.6" fill="#1f7ac8" text-anchor="end" >16</text>
<text x="537.4" y="801.37" font-size="11.6" fill="#111" text-anchor="end" >18</text>
<text x="537.4" y="788.9" font-size="11.6" fill="#111" text-anchor="end" >20</text>
<text x="537.4" y="776.43" font-size="11.6" fill="#111" text-anchor="end" >22</text>
<text x="537.4" y="763.96" font-size="11.6" fill="#111" text-anchor="end" >24</text>
<text transform="translate(511.2,839.2) rotate(-90)" font-size="14" fill="#111" text-anchor="middle">Stimulus current (pA)</text>
<path d="M561.7 927.2H606.7M561.7 925.2V929.2M606.7 925.2V929.2" stroke="#111" stroke-width="1.8" fill="none"/>
<g transform="translate(565.7 943.4) scale(1.0043 1)" fill="#111" ><text x="0" y="0" font-size="11.6" xml:space="preserve">500 ms</text></g>
</svg>
</body></html>
